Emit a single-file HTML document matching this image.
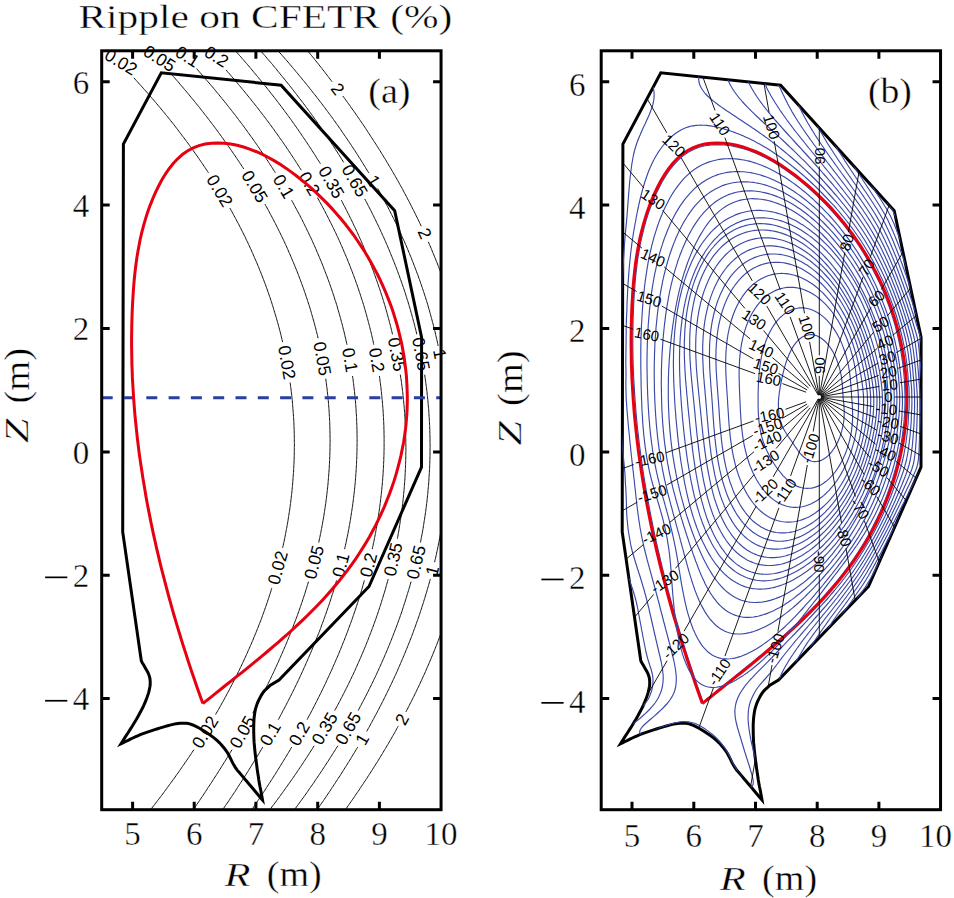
<!DOCTYPE html><html><head><meta charset="utf-8"><style>html,body{margin:0;padding:0;background:#fff;overflow:hidden}svg{display:block}</style></head><body><svg width="954" height="898" viewBox="0 0 954 898">
<rect width="954" height="898" fill="#fff"/>
<defs><clipPath id="ca"><rect x="101.7" y="50.8" width="339.35" height="758.9100000000001"/></clipPath><clipPath id="cb"><rect x="601.2" y="50.8" width="339.35" height="758.9100000000001"/></clipPath></defs>
<g clip-path="url(#ca)" fill="none" stroke="#111" stroke-width="1">
<path d="M96.9 40.0 L98.2 41.3 L99.6 42.6 L100.9 43.9 L102.2 45.2 L103.5 46.5 L104.9 47.8 M133.8 77.8 L135.0 79.1 L136.2 80.4 L137.4 81.7 L138.5 83.0 L139.7 84.3 L140.9 85.6 L142.1 86.9 L143.2 88.2 L144.4 89.5 L145.5 90.8 L146.7 92.1 L147.8 93.4 L149.0 94.7 L150.1 96.0 L151.2 97.3 L152.3 98.6 L153.5 99.9 L154.6 101.2 L155.7 102.5 L156.8 103.8 L157.9 105.1 L159.0 106.4 L160.1 107.7 L161.2 109.0 L162.2 110.3 L163.3 111.6 L164.4 112.9 L165.4 114.2 L166.5 115.5 L167.6 116.8 L168.6 118.1 L169.7 119.4 L170.7 120.7 L171.7 122.0 L172.8 123.3 L173.8 124.6 L174.8 125.9 L175.8 127.2 L176.8 128.5 L177.8 129.8 L178.8 131.2 L179.8 132.5 L180.8 133.8 L181.8 135.1 L182.8 136.4 L183.8 137.7 L184.8 139.0 L185.7 140.3 L186.7 141.6 L187.7 142.9 L188.6 144.2 L189.6 145.5 L190.5 146.8 L191.5 148.1 L192.4 149.4 L193.3 150.7 L194.2 152.0 L195.2 153.3 L196.1 154.6 L197.0 155.9 L197.9 157.2 L198.8 158.5 L199.7 159.8 L200.6 161.1 L201.5 162.4 L202.4 163.7 L203.3 165.0 L204.1 166.3 L205.0 167.6 L205.9 168.9 L206.8 170.2 L207.6 171.5 L208.5 172.8 M229.8 208.0 L230.6 209.3 L231.3 210.6 L232.0 211.9 L232.7 213.2 L233.4 214.5 L234.1 215.8 L234.8 217.1 L235.5 218.4 L236.2 219.7 L236.9 221.0 L237.6 222.3 L238.3 223.6 L239.0 224.9 L239.6 226.2 L240.3 227.5 L241.0 228.8 L241.6 230.1 L242.3 231.4 L242.9 232.7 L243.6 234.0 L244.2 235.3 L244.9 236.6 L245.5 237.9 L246.1 239.2 L246.7 240.5 L247.4 241.8 L248.0 243.1 L248.6 244.4 L249.2 245.7 L249.8 247.0 L250.4 248.3 L251.0 249.6 L251.6 251.0 L252.2 252.3 L252.8 253.6 L253.3 254.9 L253.9 256.2 L254.5 257.5 L255.0 258.8 L255.6 260.1 L256.2 261.4 L256.7 262.7 L257.3 264.0 L257.8 265.3 L258.4 266.6 L258.9 267.9 L259.4 269.2 L259.9 270.5 L260.5 271.8 L261.0 273.1 L261.5 274.4 L262.0 275.7 L262.5 277.0 L263.0 278.3 L263.5 279.6 L264.0 280.9 L264.5 282.2 L265.0 283.5 L265.5 284.8 L266.0 286.1 L266.4 287.4 L266.9 288.7 L267.4 290.0 L267.8 291.3 L268.3 292.6 L268.7 293.9 L269.2 295.2 L269.6 296.5 L270.1 297.8 L270.5 299.1 L270.9 300.4 L271.4 301.7 L271.8 303.0 L272.2 304.3 L272.6 305.6 L273.0 306.9 L273.4 308.2 L273.8 309.5 L274.2 310.9 L274.6 312.2 L275.0 313.5 L275.4 314.8 L275.8 316.1 L276.2 317.4 L276.6 318.7 L276.9 320.0 L277.3 321.3 L277.7 322.6 L278.0 323.9 L278.4 325.2 L278.7 326.5 L279.1 327.8 L279.4 329.1 L279.8 330.4 L280.1 331.7 L280.4 333.0 L280.8 334.3 L281.1 335.6 L281.4 336.9 L281.7 338.2 L282.0 339.5 L282.3 340.8 L282.6 342.1 M290.1 382.5 L290.3 383.8 L290.5 385.1 L290.6 386.4 L290.8 387.7 L291.0 389.0 L291.1 390.3 L291.3 391.6 L291.4 392.9 L291.6 394.2 L291.7 395.5 L291.9 396.8 L292.0 398.1 L292.1 399.4 L292.3 400.7 L292.4 402.0 L292.5 403.3 L292.6 404.6 L292.7 405.9 L292.8 407.2 L292.9 408.5 L293.0 409.8 L293.1 411.1 L293.2 412.4 L293.3 413.7 L293.4 415.0 L293.5 416.3 L293.6 417.6 L293.7 418.9 L293.7 420.2 L293.8 421.5 L293.9 422.8 L293.9 424.1 L294.0 425.4 L294.0 426.7 L294.1 428.0 L294.1 429.3 L294.2 430.7 L294.2 432.0 L294.2 433.3 L294.3 434.6 L294.3 435.9 L294.3 437.2 L294.3 438.5 L294.3 439.8 L294.3 441.1 L294.4 442.4 L294.4 443.7 L294.4 445.0 L294.4 446.3 L294.3 447.6 L294.3 448.9 L294.3 450.2 L294.3 451.5 L294.3 452.8 L294.3 454.1 L294.2 455.4 L294.2 456.7 L294.2 458.0 L294.1 459.3 L294.1 460.6 L294.0 461.9 L294.0 463.2 L293.9 464.5 L293.8 465.8 L293.8 467.1 L293.7 468.4 L293.6 469.7 L293.6 471.0 L293.5 472.3 L293.4 473.6 L293.3 474.9 L293.2 476.2 L293.1 477.5 L293.0 478.8 L292.9 480.1 L292.8 481.4 L292.7 482.7 L292.6 484.0 L292.5 485.3 L292.4 486.6 L292.3 487.9 L292.1 489.2 L292.0 490.6 L291.9 491.9 L291.7 493.2 L291.6 494.5 L291.4 495.8 L291.3 497.1 L291.1 498.4 L291.0 499.7 L290.8 501.0 L290.7 502.3 L290.5 503.6 L290.3 504.9 L290.2 506.2 L290.0 507.5 L289.8 508.8 L289.6 510.1 L289.4 511.4 L289.2 512.7 L289.0 514.0 L288.8 515.3 L288.6 516.6 L288.4 517.9 L288.2 519.2 L288.0 520.5 L287.8 521.8 L287.6 523.1 L287.3 524.4 L287.1 525.7 L286.9 527.0 L286.6 528.3 L286.4 529.6 L286.1 530.9 L285.9 532.2 L285.6 533.5 L285.4 534.8 L285.1 536.1 L284.9 537.4 L284.6 538.7 L284.3 540.0 L284.1 541.3 L283.8 542.6 L283.5 543.9 L283.2 545.2 L282.9 546.5 L282.6 547.8 M271.8 588.2 L271.4 589.5 L271.0 590.8 L270.6 592.1 L270.2 593.4 L269.8 594.7 L269.3 596.0 L268.9 597.3 L268.5 598.6 L268.0 599.9 L267.6 601.2 L267.2 602.5 L266.7 603.8 L266.3 605.1 L265.8 606.4 L265.4 607.7 L264.9 609.0 L264.4 610.4 L264.0 611.7 L263.5 613.0 L263.0 614.3 L262.5 615.6 L262.1 616.9 L261.6 618.2 L261.1 619.5 L260.6 620.8 L260.1 622.1 L259.6 623.4 L259.1 624.7 L258.6 626.0 L258.1 627.3 L257.6 628.6 L257.0 629.9 L256.5 631.2 L256.0 632.5 L255.5 633.8 L254.9 635.1 L254.4 636.4 L253.8 637.7 L253.3 639.0 L252.8 640.3 L252.2 641.6 L251.7 642.9 L251.1 644.2 L250.5 645.5 L250.0 646.8 L249.4 648.1 L248.8 649.4 L248.2 650.7 L247.7 652.0 L247.1 653.3 L246.5 654.6 L245.9 655.9 L245.3 657.2 L244.7 658.5 L244.1 659.8 L243.5 661.1 L242.9 662.4 L242.3 663.7 L241.7 665.0 L241.1 666.3 L240.4 667.6 L239.8 668.9 L239.2 670.3 L238.5 671.6 L237.9 672.9 L237.3 674.2 L236.6 675.5 L236.0 676.8 L235.3 678.1 L234.7 679.4 L234.0 680.7 L233.3 682.0 L232.7 683.3 L232.0 684.6 L231.3 685.9 L230.6 687.2 L230.0 688.5 L229.3 689.8 L228.6 691.1 L227.9 692.4 L227.2 693.7 L226.5 695.0 L225.8 696.3 L225.1 697.6 L224.4 698.9 L223.7 700.2 L223.0 701.5 L222.2 702.8 L221.5 704.1 L220.8 705.4 L220.1 706.7 L219.3 708.0 L218.6 709.3 L217.8 710.6 L217.1 711.9 L216.3 713.2 L215.6 714.5 M193.9 749.7 L193.0 751.0 L192.1 752.3 L191.3 753.6 L190.4 754.9 L189.5 756.2 L188.7 757.5 L187.8 758.8 L186.9 760.1 L186.0 761.4 L185.1 762.7 L184.2 764.0 L183.3 765.3 L182.4 766.6 L181.5 767.9 L180.6 769.2 L179.7 770.5 L178.8 771.8 L177.9 773.1 L176.9 774.4 L176.0 775.7 L175.1 777.0 L174.2 778.3 L173.2 779.6 L172.3 780.9 L171.3 782.2 L170.4 783.5 L169.4 784.8 L168.5 786.1 L167.5 787.4 L166.6 788.7 L165.6 790.1 L164.6 791.4 L163.6 792.7 L162.7 794.0 L161.7 795.3 L160.7 796.6 L159.7 797.9 L158.7 799.2 L157.7 800.5 L156.7 801.8 L155.7 803.1 L154.7 804.4 L153.7 805.7 L152.7 807.0 L151.6 808.3 L150.6 809.6 L149.6 810.9 L148.6 812.2 L147.5 813.5 L146.5 814.8 L145.4 816.1 L144.4 817.4 L143.3 818.7 L142.3 820.0"/>
<path d="M139.9 40.0 L141.2 41.3 L142.4 42.6 L143.7 43.9 M172.3 75.2 L173.4 76.5 L174.6 77.8 L175.7 79.1 L176.8 80.4 L178.0 81.7 L179.1 83.0 L180.2 84.3 L181.3 85.6 L182.4 86.9 L183.5 88.2 L184.6 89.5 L185.7 90.8 L186.8 92.1 L187.9 93.4 L189.0 94.7 L190.0 96.0 L191.1 97.3 L192.2 98.6 L193.3 99.9 L194.3 101.2 L195.4 102.5 L196.4 103.8 L197.5 105.1 L198.5 106.4 L199.6 107.7 L200.6 109.0 L201.6 110.3 L202.7 111.6 L203.7 112.9 L204.7 114.2 L205.7 115.5 L206.7 116.8 L207.7 118.1 L208.7 119.4 L209.7 120.7 L210.7 122.0 L211.7 123.3 L212.7 124.6 L213.7 125.9 L214.7 127.2 L215.6 128.5 L216.6 129.8 L217.6 131.2 L218.5 132.5 L219.5 133.8 L220.4 135.1 L221.4 136.4 L222.3 137.7 L223.3 139.0 L224.2 140.3 L225.1 141.6 L226.1 142.9 L227.0 144.2 L227.9 145.5 L228.8 146.8 L229.7 148.1 L230.6 149.4 L231.5 150.7 L232.4 152.0 L233.3 153.3 L234.2 154.6 L235.1 155.9 L236.0 157.2 L236.8 158.5 L237.7 159.8 L238.6 161.1 L239.5 162.4 L240.3 163.7 L241.2 165.0 L242.0 166.3 L242.9 167.6 L243.7 168.9 M264.9 204.1 L265.6 205.4 L266.4 206.7 L267.1 208.0 L267.8 209.3 L268.5 210.6 L269.2 211.9 L269.9 213.2 L270.6 214.5 L271.3 215.8 L272.0 217.1 L272.7 218.4 L273.3 219.7 L274.0 221.0 L274.7 222.3 L275.4 223.6 L276.0 224.9 L276.7 226.2 L277.3 227.5 L278.0 228.8 L278.6 230.1 L279.3 231.4 L279.9 232.7 L280.6 234.0 L281.2 235.3 L281.8 236.6 L282.4 237.9 L283.1 239.2 L283.7 240.5 L284.3 241.8 L284.9 243.1 L285.5 244.4 L286.1 245.7 L286.7 247.0 L287.3 248.3 L287.9 249.6 L288.4 251.0 L289.0 252.3 L289.6 253.6 L290.2 254.9 L290.7 256.2 L291.3 257.5 L291.8 258.8 L292.4 260.1 L292.9 261.4 L293.5 262.7 L294.0 264.0 L294.6 265.3 L295.1 266.6 L295.6 267.9 L296.2 269.2 L296.7 270.5 L297.2 271.8 L297.7 273.1 L298.2 274.4 L298.7 275.7 L299.2 277.0 L299.7 278.3 L300.2 279.6 L300.7 280.9 L301.2 282.2 L301.6 283.5 L302.1 284.8 L302.6 286.1 L303.1 287.4 L303.5 288.7 L304.0 290.0 L304.4 291.3 L304.9 292.6 L305.3 293.9 L305.8 295.2 L306.2 296.5 L306.6 297.8 L307.1 299.1 L307.5 300.4 L307.9 301.7 L308.3 303.0 L308.8 304.3 L309.2 305.6 L309.6 306.9 L310.0 308.2 L310.4 309.5 L310.8 310.9 L311.2 312.2 L311.5 313.5 L311.9 314.8 L312.3 316.1 L312.7 317.4 L313.0 318.7 L313.4 320.0 L313.8 321.3 L314.1 322.6 L314.5 323.9 L314.8 325.2 L315.2 326.5 L315.5 327.8 L315.9 329.1 L316.2 330.4 L316.5 331.7 L316.8 333.0 L317.2 334.3 L317.5 335.6 L317.8 336.9 L318.1 338.2 M325.7 378.6 L325.9 379.9 L326.1 381.2 L326.2 382.5 L326.4 383.8 L326.6 385.1 L326.7 386.4 L326.9 387.7 L327.1 389.0 L327.2 390.3 L327.3 391.6 L327.5 392.9 L327.6 394.2 L327.8 395.5 L327.9 396.8 L328.0 398.1 L328.1 399.4 L328.3 400.7 L328.4 402.0 L328.5 403.3 L328.6 404.6 L328.7 405.9 L328.8 407.2 L328.9 408.5 L329.0 409.8 L329.1 411.1 L329.2 412.4 L329.2 413.7 L329.3 415.0 L329.4 416.3 L329.5 417.6 L329.5 418.9 L329.6 420.2 L329.7 421.5 L329.7 422.8 L329.8 424.1 L329.8 425.4 L329.8 426.7 L329.9 428.0 L329.9 429.3 L329.9 430.7 L330.0 432.0 L330.0 433.3 L330.0 434.6 L330.0 435.9 L330.0 437.2 L330.1 438.5 L330.1 439.8 L330.1 441.1 L330.1 442.4 L330.0 443.7 L330.0 445.0 L330.0 446.3 L330.0 447.6 L330.0 448.9 L330.0 450.2 L329.9 451.5 L329.9 452.8 L329.9 454.1 L329.8 455.4 L329.8 456.7 L329.7 458.0 L329.7 459.3 L329.6 460.6 L329.5 461.9 L329.5 463.2 L329.4 464.5 L329.3 465.8 L329.3 467.1 L329.2 468.4 L329.1 469.7 L329.0 471.0 L328.9 472.3 L328.8 473.6 L328.7 474.9 L328.6 476.2 L328.5 477.5 L328.4 478.8 L328.3 480.1 L328.2 481.4 L328.1 482.7 L328.0 484.0 L327.8 485.3 L327.7 486.6 L327.6 487.9 L327.4 489.2 L327.3 490.6 L327.1 491.9 L327.0 493.2 L326.8 494.5 L326.7 495.8 L326.5 497.1 L326.4 498.4 L326.2 499.7 L326.0 501.0 L325.9 502.3 L325.7 503.6 L325.5 504.9 L325.3 506.2 L325.1 507.5 L324.9 508.8 L324.7 510.1 L324.5 511.4 L324.3 512.7 L324.1 514.0 L323.9 515.3 L323.7 516.6 L323.5 517.9 L323.3 519.2 L323.0 520.5 L322.8 521.8 L322.6 523.1 L322.3 524.4 L322.1 525.7 L321.9 527.0 L321.6 528.3 L321.4 529.6 L321.1 530.9 L320.9 532.2 L320.6 533.5 L320.3 534.8 L320.1 536.1 L319.8 537.4 L319.5 538.7 L319.2 540.0 L319.0 541.3 L318.7 542.6 M308.5 581.7 L308.1 583.0 L307.7 584.3 L307.3 585.6 L306.9 586.9 L306.5 588.2 L306.1 589.5 L305.7 590.8 L305.3 592.1 L304.9 593.4 L304.5 594.7 L304.0 596.0 L303.6 597.3 L303.2 598.6 L302.7 599.9 L302.3 601.2 L301.9 602.5 L301.4 603.8 L301.0 605.1 L300.5 606.4 L300.1 607.7 L299.6 609.0 L299.1 610.4 L298.7 611.7 L298.2 613.0 L297.7 614.3 L297.3 615.6 L296.8 616.9 L296.3 618.2 L295.8 619.5 L295.3 620.8 L294.8 622.1 L294.3 623.4 L293.8 624.7 L293.3 626.0 L292.8 627.3 L292.3 628.6 L291.8 629.9 L291.3 631.2 L290.8 632.5 L290.3 633.8 L289.8 635.1 L289.2 636.4 L288.7 637.7 L288.2 639.0 L287.6 640.3 L287.1 641.6 L286.6 642.9 L286.0 644.2 L285.5 645.5 L284.9 646.8 L284.4 648.1 L283.8 649.4 L283.2 650.7 L282.7 652.0 L282.1 653.3 L281.5 654.6 L281.0 655.9 L280.4 657.2 L279.8 658.5 L279.2 659.8 L278.7 661.1 L278.1 662.4 L277.5 663.7 L276.9 665.0 L276.3 666.3 L275.7 667.6 L275.1 668.9 L274.5 670.3 L273.9 671.6 L273.3 672.9 L272.6 674.2 L272.0 675.5 L271.4 676.8 L270.8 678.1 L270.2 679.4 L269.5 680.7 L268.9 682.0 L268.3 683.3 L267.6 684.6 L267.0 685.9 L266.3 687.2 L265.7 688.5 L265.0 689.8 L264.4 691.1 L263.7 692.4 L263.1 693.7 L262.4 695.0 L261.7 696.3 L261.1 697.6 L260.4 698.9 L259.7 700.2 L259.0 701.5 L258.4 702.8 L257.7 704.1 L257.0 705.4 L256.3 706.7 L255.6 708.0 L254.9 709.3 L254.2 710.6 L253.5 711.9 L252.8 713.2 M232.0 749.7 L231.2 751.0 L230.4 752.3 L229.6 753.6 L228.9 754.9 L228.1 756.2 L227.3 757.5 L226.5 758.8 L225.7 760.1 L224.9 761.4 L224.1 762.7 L223.2 764.0 L222.4 765.3 L221.6 766.6 L220.8 767.9 L220.0 769.2 L219.2 770.5 L218.3 771.8 L217.5 773.1 L216.7 774.4 L215.9 775.7 L215.0 777.0 L214.2 778.3 L213.3 779.6 L212.5 780.9 L211.7 782.2 L210.8 783.5 L210.0 784.8 L209.1 786.1 L208.2 787.4 L207.4 788.7 L206.5 790.1 L205.7 791.4 L204.8 792.7 L203.9 794.0 L203.1 795.3 L202.2 796.6 L201.3 797.9 L200.4 799.2 L199.6 800.5 L198.7 801.8 L197.8 803.1 L196.9 804.4 L196.0 805.7 L195.1 807.0 L194.2 808.3 L193.3 809.6 L192.4 810.9 L191.5 812.2 L190.6 813.5 L189.7 814.8 L188.8 816.1 L187.9 817.4 L187.0 818.7 L186.1 820.0"/>
<path d="M170.0 40.0 L171.3 41.3 L172.5 42.6 L173.8 43.9 L175.0 45.2 M196.6 68.6 L197.7 69.9 L198.9 71.3 L200.0 72.6 L201.2 73.9 L202.3 75.2 L203.5 76.5 L204.6 77.8 L205.7 79.1 L206.8 80.4 L207.9 81.7 L209.1 83.0 L210.2 84.3 L211.3 85.6 L212.4 86.9 L213.5 88.2 L214.6 89.5 L215.6 90.8 L216.7 92.1 L217.8 93.4 L218.9 94.7 L219.9 96.0 L221.0 97.3 L222.1 98.6 L223.1 99.9 L224.2 101.2 L225.2 102.5 L226.3 103.8 L227.3 105.1 L228.3 106.4 L229.4 107.7 L230.4 109.0 L231.4 110.3 L232.4 111.6 L233.4 112.9 L234.5 114.2 L235.5 115.5 L236.5 116.8 L237.4 118.1 L238.4 119.4 L239.4 120.7 L240.4 122.0 L241.4 123.3 L242.4 124.6 L243.3 125.9 L244.3 127.2 L245.3 128.5 L246.2 129.8 L247.2 131.2 L248.1 132.5 L249.1 133.8 L250.0 135.1 L250.9 136.4 L251.9 137.7 L252.8 139.0 L253.7 140.3 L254.6 141.6 L255.5 142.9 L256.5 144.2 L257.4 145.5 L258.3 146.8 L259.2 148.1 L260.0 149.4 L260.9 150.7 L261.8 152.0 L262.7 153.3 L263.6 154.6 L264.4 155.9 L265.3 157.2 L266.2 158.5 L267.0 159.8 L267.9 161.1 L268.7 162.4 L269.6 163.7 L270.4 165.0 L271.3 166.3 L272.1 167.6 L272.9 168.9 L273.7 170.2 L274.6 171.5 L275.4 172.8 M291.6 200.2 L292.3 201.5 L293.0 202.8 L293.7 204.1 L294.4 205.4 L295.1 206.7 L295.8 208.0 L296.5 209.3 L297.2 210.6 L297.9 211.9 L298.6 213.2 L299.3 214.5 L300.0 215.8 L300.6 217.1 L301.3 218.4 L302.0 219.7 L302.6 221.0 L303.3 222.3 L303.9 223.6 L304.6 224.9 L305.2 226.2 L305.9 227.5 L306.5 228.8 L307.1 230.1 L307.8 231.4 L308.4 232.7 L309.0 234.0 L309.6 235.3 L310.2 236.6 L310.9 237.9 L311.5 239.2 L312.1 240.5 L312.7 241.8 L313.2 243.1 L313.8 244.4 L314.4 245.7 L315.0 247.0 L315.6 248.3 L316.1 249.6 L316.7 251.0 L317.3 252.3 L317.8 253.6 L318.4 254.9 L318.9 256.2 L319.5 257.5 L320.0 258.8 L320.6 260.1 L321.1 261.4 L321.6 262.7 L322.2 264.0 L322.7 265.3 L323.2 266.6 L323.7 267.9 L324.2 269.2 L324.7 270.5 L325.2 271.8 L325.7 273.1 L326.2 274.4 L326.7 275.7 L327.2 277.0 L327.7 278.3 L328.1 279.6 L328.6 280.9 L329.1 282.2 L329.6 283.5 L330.0 284.8 L330.5 286.1 L330.9 287.4 L331.4 288.7 L331.8 290.0 L332.3 291.3 L332.7 292.6 L333.1 293.9 L333.6 295.2 L334.0 296.5 L334.4 297.8 L334.8 299.1 L335.2 300.4 L335.7 301.7 L336.1 303.0 L336.5 304.3 L336.9 305.6 L337.3 306.9 L337.6 308.2 L338.0 309.5 L338.4 310.9 L338.8 312.2 L339.2 313.5 L339.5 314.8 L339.9 316.1 L340.3 317.4 L340.6 318.7 L341.0 320.0 L341.3 321.3 L341.7 322.6 L342.0 323.9 L342.4 325.2 L342.7 326.5 L343.0 327.8 L343.3 329.1 L343.7 330.4 L344.0 331.7 L344.3 333.0 L344.6 334.3 L344.9 335.6 L345.2 336.9 L345.5 338.2 L345.8 339.5 L346.1 340.8 L346.4 342.1 L346.7 343.4 L347.0 344.7 M352.5 376.0 L352.7 377.3 L352.9 378.6 L353.1 379.9 L353.2 381.2 L353.4 382.5 L353.6 383.8 L353.7 385.1 L353.9 386.4 L354.0 387.7 L354.2 389.0 L354.3 390.3 L354.5 391.6 L354.6 392.9 L354.7 394.2 L354.9 395.5 L355.0 396.8 L355.1 398.1 L355.2 399.4 L355.4 400.7 L355.5 402.0 L355.6 403.3 L355.7 404.6 L355.8 405.9 L355.9 407.2 L356.0 408.5 L356.1 409.8 L356.1 411.1 L356.2 412.4 L356.3 413.7 L356.4 415.0 L356.5 416.3 L356.5 417.6 L356.6 418.9 L356.6 420.2 L356.7 421.5 L356.7 422.8 L356.8 424.1 L356.8 425.4 L356.9 426.7 L356.9 428.0 L357.0 429.3 L357.0 430.7 L357.0 432.0 L357.0 433.3 L357.0 434.6 L357.1 435.9 L357.1 437.2 L357.1 438.5 L357.1 439.8 L357.1 441.1 L357.1 442.4 L357.1 443.7 L357.1 445.0 L357.0 446.3 L357.0 447.6 L357.0 448.9 L357.0 450.2 L357.0 451.5 L356.9 452.8 L356.9 454.1 L356.8 455.4 L356.8 456.7 L356.8 458.0 L356.7 459.3 L356.6 460.6 L356.6 461.9 L356.5 463.2 L356.5 464.5 L356.4 465.8 L356.3 467.1 L356.2 468.4 L356.2 469.7 L356.1 471.0 L356.0 472.3 L355.9 473.6 L355.8 474.9 L355.7 476.2 L355.6 477.5 L355.5 478.8 L355.4 480.1 L355.3 481.4 L355.2 482.7 L355.1 484.0 L354.9 485.3 L354.8 486.6 L354.7 487.9 L354.5 489.2 L354.4 490.6 L354.3 491.9 L354.1 493.2 L354.0 494.5 L353.8 495.8 L353.7 497.1 L353.5 498.4 L353.3 499.7 L353.2 501.0 L353.0 502.3 L352.8 503.6 L352.7 504.9 L352.5 506.2 L352.3 507.5 L352.1 508.8 L351.9 510.1 L351.7 511.4 L351.5 512.7 L351.3 514.0 L351.1 515.3 L350.9 516.6 L350.7 517.9 L350.5 519.2 L350.3 520.5 L350.1 521.8 L349.8 523.1 L349.6 524.4 L349.4 525.7 L349.1 527.0 L348.9 528.3 L348.7 529.6 L348.4 530.9 L348.2 532.2 L347.9 533.5 L347.7 534.8 L347.4 536.1 L347.1 537.4 L346.9 538.7 L346.6 540.0 L346.3 541.3 L346.1 542.6 L345.8 543.9 L345.5 545.2 L345.2 546.5 L344.9 547.8 L344.6 549.1 M336.6 580.4 L336.2 581.7 L335.8 583.0 L335.4 584.3 L335.0 585.6 L334.7 586.9 L334.3 588.2 L333.9 589.5 L333.5 590.8 L333.1 592.1 L332.7 593.4 L332.2 594.7 L331.8 596.0 L331.4 597.3 L331.0 598.6 L330.6 599.9 L330.2 601.2 L329.7 602.5 L329.3 603.8 L328.9 605.1 L328.4 606.4 L328.0 607.7 L327.5 609.0 L327.1 610.4 L326.6 611.7 L326.2 613.0 L325.7 614.3 L325.2 615.6 L324.8 616.9 L324.3 618.2 L323.8 619.5 L323.4 620.8 L322.9 622.1 L322.4 623.4 L321.9 624.7 L321.4 626.0 L321.0 627.3 L320.5 628.6 L320.0 629.9 L319.5 631.2 L319.0 632.5 L318.5 633.8 L317.9 635.1 L317.4 636.4 L316.9 637.7 L316.4 639.0 L315.9 640.3 L315.3 641.6 L314.8 642.9 L314.3 644.2 L313.8 645.5 L313.2 646.8 L312.7 648.1 L312.1 649.4 L311.6 650.7 L311.0 652.0 L310.5 653.3 L309.9 654.6 L309.4 655.9 L308.8 657.2 L308.2 658.5 L307.7 659.8 L307.1 661.1 L306.5 662.4 L305.9 663.7 L305.4 665.0 L304.8 666.3 L304.2 667.6 L303.6 668.9 L303.0 670.3 L302.4 671.6 L301.8 672.9 L301.2 674.2 L300.6 675.5 L300.0 676.8 L299.4 678.1 L298.8 679.4 L298.2 680.7 L297.5 682.0 L296.9 683.3 L296.3 684.6 L295.7 685.9 L295.0 687.2 L294.4 688.5 L293.8 689.8 L293.1 691.1 L292.5 692.4 L291.8 693.7 L291.2 695.0 L290.5 696.3 L289.9 697.6 L289.2 698.9 L288.5 700.2 L287.9 701.5 L287.2 702.8 L286.5 704.1 L285.9 705.4 L285.2 706.7 L284.5 708.0 L283.8 709.3 L283.1 710.6 L282.4 711.9 L281.8 713.2 L281.1 714.5 L280.4 715.8 L279.7 717.1 L279.0 718.4 L278.2 719.7 M262.8 747.1 L262.0 748.4 L261.2 749.7 L260.4 751.0 L259.7 752.3 L258.9 753.6 L258.1 754.9 L257.3 756.2 L256.5 757.5 L255.7 758.8 L254.9 760.1 L254.1 761.4 L253.3 762.7 L252.5 764.0 L251.7 765.3 L250.9 766.6 L250.1 767.9 L249.3 769.2 L248.5 770.5 L247.7 771.8 L246.8 773.1 L246.0 774.4 L245.2 775.7 L244.4 777.0 L243.5 778.3 L242.7 779.6 L241.9 780.9 L241.0 782.2 L240.2 783.5 L239.3 784.8 L238.5 786.1 L237.6 787.4 L236.8 788.7 L235.9 790.1 L235.1 791.4 L234.2 792.7 L233.3 794.0 L232.5 795.3 L231.6 796.6 L230.7 797.9 L229.8 799.2 L229.0 800.5 L228.1 801.8 L227.2 803.1 L226.3 804.4 L225.4 805.7 L224.5 807.0 L223.6 808.3 L222.7 809.6 L221.8 810.9 L220.9 812.2 L220.0 813.5 L219.1 814.8 L218.2 816.1 L217.3 817.4 L216.4 818.7 L215.5 820.0"/>
<path d="M198.6 40.0 L199.9 41.3 L201.1 42.6 L202.3 43.9 L203.6 45.2 L204.8 46.5 M226.1 69.9 L227.2 71.3 L228.3 72.6 L229.5 73.9 L230.6 75.2 L231.7 76.5 L232.8 77.8 L234.0 79.1 L235.1 80.4 L236.2 81.7 L237.3 83.0 L238.4 84.3 L239.5 85.6 L240.6 86.9 L241.6 88.2 L242.7 89.5 L243.8 90.8 L244.9 92.1 L245.9 93.4 L247.0 94.7 L248.0 96.0 L249.1 97.3 L250.2 98.6 L251.2 99.9 L252.2 101.2 L253.3 102.5 L254.3 103.8 L255.3 105.1 L256.4 106.4 L257.4 107.7 L258.4 109.0 L259.4 110.3 L260.4 111.6 L261.4 112.9 L262.4 114.2 L263.4 115.5 L264.4 116.8 L265.4 118.1 L266.4 119.4 L267.3 120.7 L268.3 122.0 L269.3 123.3 L270.2 124.6 L271.2 125.9 L272.1 127.2 L273.1 128.5 L274.0 129.8 L275.0 131.2 L275.9 132.5 L276.9 133.8 L277.8 135.1 L278.7 136.4 L279.6 137.7 L280.5 139.0 L281.5 140.3 L282.4 141.6 L283.3 142.9 L284.2 144.2 L285.1 145.5 L286.0 146.8 L286.8 148.1 L287.7 149.4 L288.6 150.7 L289.5 152.0 L290.4 153.3 L291.2 154.6 L292.1 155.9 L292.9 157.2 L293.8 158.5 L294.6 159.8 L295.5 161.1 L296.3 162.4 L297.2 163.7 L298.0 165.0 L298.8 166.3 L299.6 167.6 L300.5 168.9 L301.3 170.2 M317.4 197.6 L318.2 198.9 L318.9 200.2 L319.6 201.5 L320.3 202.8 L321.0 204.1 L321.7 205.4 L322.4 206.7 L323.1 208.0 L323.8 209.3 L324.5 210.6 L325.2 211.9 L325.9 213.2 L326.5 214.5 L327.2 215.8 L327.9 217.1 L328.5 218.4 L329.2 219.7 L329.8 221.0 L330.5 222.3 L331.1 223.6 L331.8 224.9 L332.4 226.2 L333.1 227.5 L333.7 228.8 L334.3 230.1 L334.9 231.4 L335.6 232.7 L336.2 234.0 L336.8 235.3 L337.4 236.6 L338.0 237.9 L338.6 239.2 L339.2 240.5 L339.8 241.8 L340.3 243.1 L340.9 244.4 L341.5 245.7 L342.1 247.0 L342.6 248.3 L343.2 249.6 L343.8 251.0 L344.3 252.3 L344.9 253.6 L345.4 254.9 L346.0 256.2 L346.5 257.5 L347.1 258.8 L347.6 260.1 L348.1 261.4 L348.6 262.7 L349.2 264.0 L349.7 265.3 L350.2 266.6 L350.7 267.9 L351.2 269.2 L351.7 270.5 L352.2 271.8 L352.7 273.1 L353.2 274.4 L353.7 275.7 L354.2 277.0 L354.6 278.3 L355.1 279.6 L355.6 280.9 L356.0 282.2 L356.5 283.5 L357.0 284.8 L357.4 286.1 L357.9 287.4 L358.3 288.7 L358.8 290.0 L359.2 291.3 L359.6 292.6 L360.1 293.9 L360.5 295.2 L360.9 296.5 L361.3 297.8 L361.7 299.1 L362.2 300.4 L362.6 301.7 L363.0 303.0 L363.4 304.3 L363.8 305.6 L364.2 306.9 L364.5 308.2 L364.9 309.5 L365.3 310.9 L365.7 312.2 L366.1 313.5 L366.4 314.8 L366.8 316.1 L367.1 317.4 L367.5 318.7 L367.9 320.0 L368.2 321.3 L368.5 322.6 L368.9 323.9 L369.2 325.2 L369.6 326.5 L369.9 327.8 L370.2 329.1 L370.5 330.4 L370.9 331.7 L371.2 333.0 L371.5 334.3 L371.8 335.6 L372.1 336.9 L372.4 338.2 L372.7 339.5 L373.0 340.8 L373.3 342.1 L373.5 343.4 L373.8 344.7 M379.4 376.0 L379.6 377.3 L379.8 378.6 L379.9 379.9 L380.1 381.2 L380.3 382.5 L380.4 383.8 L380.6 385.1 L380.8 386.4 L380.9 387.7 L381.1 389.0 L381.2 390.3 L381.4 391.6 L381.5 392.9 L381.6 394.2 L381.8 395.5 L381.9 396.8 L382.0 398.1 L382.1 399.4 L382.3 400.7 L382.4 402.0 L382.5 403.3 L382.6 404.6 L382.7 405.9 L382.8 407.2 L382.9 408.5 L383.0 409.8 L383.1 411.1 L383.2 412.4 L383.2 413.7 L383.3 415.0 L383.4 416.3 L383.5 417.6 L383.5 418.9 L383.6 420.2 L383.7 421.5 L383.7 422.8 L383.8 424.1 L383.8 425.4 L383.9 426.7 L383.9 428.0 L383.9 429.3 L384.0 430.7 L384.0 432.0 L384.0 433.3 L384.0 434.6 L384.1 435.9 L384.1 437.2 L384.1 438.5 L384.1 439.8 L384.1 441.1 L384.1 442.4 L384.1 443.7 L384.1 445.0 L384.1 446.3 L384.1 447.6 L384.1 448.9 L384.0 450.2 L384.0 451.5 L384.0 452.8 L384.0 454.1 L383.9 455.4 L383.9 456.7 L383.8 458.0 L383.8 459.3 L383.8 460.6 L383.7 461.9 L383.6 463.2 L383.6 464.5 L383.5 465.8 L383.5 467.1 L383.4 468.4 L383.3 469.7 L383.2 471.0 L383.2 472.3 L383.1 473.6 L383.0 474.9 L382.9 476.2 L382.8 477.5 L382.7 478.8 L382.6 480.1 L382.5 481.4 L382.4 482.7 L382.3 484.0 L382.2 485.3 L382.0 486.6 L381.9 487.9 L381.8 489.2 L381.7 490.6 L381.5 491.9 L381.4 493.2 L381.2 494.5 L381.1 495.8 L380.9 497.1 L380.8 498.4 L380.6 499.7 L380.5 501.0 L380.3 502.3 L380.2 503.6 L380.0 504.9 L379.8 506.2 L379.6 507.5 L379.5 508.8 L379.3 510.1 L379.1 511.4 L378.9 512.7 L378.7 514.0 L378.5 515.3 L378.3 516.6 L378.1 517.9 L377.9 519.2 L377.7 520.5 L377.5 521.8 L377.3 523.1 L377.1 524.4 L376.8 525.7 L376.6 527.0 L376.4 528.3 L376.1 529.6 L375.9 530.9 L375.7 532.2 L375.4 533.5 L375.2 534.8 L374.9 536.1 L374.7 537.4 L374.4 538.7 L374.2 540.0 L373.9 541.3 L373.6 542.6 L373.3 543.9 L373.1 545.2 L372.8 546.5 L372.5 547.8 L372.2 549.1 M364.4 580.4 L364.0 581.7 L363.7 583.0 L363.3 584.3 L362.9 585.6 L362.5 586.9 L362.2 588.2 L361.8 589.5 L361.4 590.8 L361.0 592.1 L360.6 593.4 L360.2 594.7 L359.8 596.0 L359.4 597.3 L359.0 598.6 L358.6 599.9 L358.1 601.2 L357.7 602.5 L357.3 603.8 L356.9 605.1 L356.4 606.4 L356.0 607.7 L355.6 609.0 L355.1 610.4 L354.7 611.7 L354.2 613.0 L353.8 614.3 L353.3 615.6 L352.9 616.9 L352.4 618.2 L352.0 619.5 L351.5 620.8 L351.0 622.1 L350.6 623.4 L350.1 624.7 L349.6 626.0 L349.1 627.3 L348.6 628.6 L348.2 629.9 L347.7 631.2 L347.2 632.5 L346.7 633.8 L346.2 635.1 L345.7 636.4 L345.2 637.7 L344.7 639.0 L344.2 640.3 L343.6 641.6 L343.1 642.9 L342.6 644.2 L342.1 645.5 L341.5 646.8 L341.0 648.1 L340.5 649.4 L339.9 650.7 L339.4 652.0 L338.9 653.3 L338.3 654.6 L337.8 655.9 L337.2 657.2 L336.6 658.5 L336.1 659.8 L335.5 661.1 L335.0 662.4 L334.4 663.7 L333.8 665.0 L333.2 666.3 L332.7 667.6 L332.1 668.9 L331.5 670.3 L330.9 671.6 L330.3 672.9 L329.7 674.2 L329.1 675.5 L328.5 676.8 L327.9 678.1 L327.3 679.4 L326.7 680.7 L326.1 682.0 L325.5 683.3 L324.9 684.6 L324.3 685.9 L323.6 687.2 L323.0 688.5 L322.4 689.8 L321.7 691.1 L321.1 692.4 L320.5 693.7 L319.8 695.0 L319.2 696.3 L318.5 697.6 L317.9 698.9 L317.2 700.2 L316.6 701.5 L315.9 702.8 L315.2 704.1 L314.6 705.4 L313.9 706.7 L313.2 708.0 L312.6 709.3 L311.9 710.6 L311.2 711.9 L310.5 713.2 L309.8 714.5 L309.1 715.8 L308.4 717.1 L307.7 718.4 L307.1 719.7 M291.7 747.1 L290.9 748.4 L290.2 749.7 L289.4 751.0 L288.6 752.3 L287.8 753.6 L287.1 754.9 L286.3 756.2 L285.5 757.5 L284.7 758.8 L283.9 760.1 L283.1 761.4 L282.3 762.7 L281.5 764.0 L280.7 765.3 L279.9 766.6 L279.1 767.9 L278.3 769.2 L277.5 770.5 L276.7 771.8 L275.9 773.1 L275.1 774.4 L274.2 775.7 L273.4 777.0 L272.6 778.3 L271.7 779.6 L270.9 780.9 L270.1 782.2 L269.2 783.5 L268.4 784.8 L267.5 786.1 L266.7 787.4 L265.8 788.7 L265.0 790.1 L264.1 791.4 L263.3 792.7 L262.4 794.0 L261.5 795.3 L260.7 796.6 L259.8 797.9 L258.9 799.2 L258.0 800.5 L257.2 801.8 L256.3 803.1 L255.4 804.4 L254.5 805.7 L253.6 807.0 L252.7 808.3 L251.8 809.6 L250.9 810.9 L250.0 812.2 L249.1 813.5 L248.2 814.8 L247.3 816.1 L246.4 817.4 L245.5 818.7 L244.6 820.0"/>
<path d="M225.6 40.0 L226.8 41.3 L227.9 42.6 L229.1 43.9 L230.3 45.2 L231.5 46.5 L232.7 47.8 L233.9 49.1 L235.0 50.4 L236.2 51.7 L237.3 53.0 L238.5 54.3 L239.6 55.6 L240.8 56.9 L241.9 58.2 L243.1 59.5 L244.2 60.8 L245.3 62.1 L246.5 63.4 L247.6 64.7 L248.7 66.0 L249.8 67.3 L250.9 68.6 L252.0 69.9 L253.1 71.3 L254.2 72.6 L255.3 73.9 L256.4 75.2 L257.5 76.5 L258.5 77.8 L259.6 79.1 L260.7 80.4 L261.7 81.7 L262.8 83.0 L263.9 84.3 L264.9 85.6 L266.0 86.9 L267.0 88.2 L268.0 89.5 L269.1 90.8 L270.1 92.1 L271.1 93.4 L272.1 94.7 L273.2 96.0 L274.2 97.3 L275.2 98.6 L276.2 99.9 L277.2 101.2 L278.2 102.5 L279.2 103.8 L280.2 105.1 L281.2 106.4 L282.1 107.7 L283.1 109.0 L284.1 110.3 L285.0 111.6 L286.0 112.9 L287.0 114.2 L287.9 115.5 L288.9 116.8 L289.8 118.1 L290.8 119.4 L291.7 120.7 L292.6 122.0 L293.6 123.3 L294.5 124.6 L295.4 125.9 L296.3 127.2 L297.2 128.5 L298.2 129.8 L299.1 131.2 L300.0 132.5 L300.9 133.8 L301.7 135.1 L302.6 136.4 L303.5 137.7 L304.4 139.0 L305.3 140.3 L306.2 141.6 L307.0 142.9 L307.9 144.2 L308.7 145.5 L309.6 146.8 L310.5 148.1 L311.3 149.4 L312.1 150.7 L313.0 152.0 L313.8 153.3 L314.7 154.6 L315.5 155.9 L316.3 157.2 L317.1 158.5 L317.9 159.8 L318.8 161.1 L319.6 162.4 L320.4 163.7 M341.3 200.2 L342.0 201.5 L342.7 202.8 L343.3 204.1 L344.0 205.4 L344.7 206.7 L345.4 208.0 L346.0 209.3 L346.7 210.6 L347.3 211.9 L348.0 213.2 L348.7 214.5 L349.3 215.8 L349.9 217.1 L350.6 218.4 L351.2 219.7 L351.9 221.0 L352.5 222.3 L353.1 223.6 L353.7 224.9 L354.3 226.2 L355.0 227.5 L355.6 228.8 L356.2 230.1 L356.8 231.4 L357.4 232.7 L358.0 234.0 L358.6 235.3 L359.1 236.6 L359.7 237.9 L360.3 239.2 L360.9 240.5 L361.5 241.8 L362.0 243.1 L362.6 244.4 L363.1 245.7 L363.7 247.0 L364.2 248.3 L364.8 249.6 L365.3 251.0 L365.9 252.3 L366.4 253.6 L367.0 254.9 L367.5 256.2 L368.0 257.5 L368.5 258.8 L369.1 260.1 L369.6 261.4 L370.1 262.7 L370.6 264.0 L371.1 265.3 L371.6 266.6 L372.1 267.9 L372.6 269.2 L373.1 270.5 L373.6 271.8 L374.0 273.1 L374.5 274.4 L375.0 275.7 L375.5 277.0 L375.9 278.3 L376.4 279.6 L376.8 280.9 L377.3 282.2 L377.8 283.5 L378.2 284.8 L378.6 286.1 L379.1 287.4 L379.5 288.7 L380.0 290.0 L380.4 291.3 L380.8 292.6 L381.2 293.9 L381.7 295.2 L382.1 296.5 L382.5 297.8 L382.9 299.1 L383.3 300.4 L383.7 301.7 L384.1 303.0 L384.5 304.3 L384.9 305.6 L385.3 306.9 L385.6 308.2 L386.0 309.5 L386.4 310.9 L386.8 312.2 L387.1 313.5 L387.5 314.8 L387.9 316.1 L388.2 317.4 L388.6 318.7 L388.9 320.0 L389.3 321.3 L389.6 322.6 L389.9 323.9 L390.3 325.2 L390.6 326.5 L390.9 327.8 L391.3 329.1 L391.6 330.4 L391.9 331.7 L392.2 333.0 L392.5 334.3 M400.3 374.7 L400.5 376.0 L400.7 377.3 L400.9 378.6 L401.1 379.9 L401.3 381.2 L401.5 382.5 L401.6 383.8 L401.8 385.1 L402.0 386.4 L402.1 387.7 L402.3 389.0 L402.5 390.3 L402.6 391.6 L402.8 392.9 L402.9 394.2 L403.0 395.5 L403.2 396.8 L403.3 398.1 L403.5 399.4 L403.6 400.7 L403.7 402.0 L403.8 403.3 L403.9 404.6 L404.1 405.9 L404.2 407.2 L404.3 408.5 L404.4 409.8 L404.5 411.1 L404.6 412.4 L404.7 413.7 L404.8 415.0 L404.8 416.3 L404.9 417.6 L405.0 418.9 L405.1 420.2 L405.2 421.5 L405.2 422.8 L405.3 424.1 L405.4 425.4 L405.4 426.7 L405.5 428.0 L405.5 429.3 L405.6 430.7 L405.6 432.0 L405.6 433.3 L405.7 434.6 L405.7 435.9 L405.7 437.2 L405.8 438.5 L405.8 439.8 L405.8 441.1 L405.8 442.4 L405.8 443.7 L405.9 445.0 L405.9 446.3 L405.9 447.6 L405.9 448.9 L405.9 450.2 L405.9 451.5 L405.8 452.8 L405.8 454.1 L405.8 455.4 L405.8 456.7 L405.8 458.0 L405.7 459.3 L405.7 460.6 L405.7 461.9 L405.6 463.2 L405.6 464.5 L405.5 465.8 L405.5 467.1 L405.4 468.4 L405.4 469.7 L405.3 471.0 L405.2 472.3 L405.2 473.6 L405.1 474.9 L405.0 476.2 L405.0 477.5 L404.9 478.8 L404.8 480.1 L404.7 481.4 L404.6 482.7 L404.5 484.0 L404.4 485.3 L404.3 486.6 L404.2 487.9 L404.1 489.2 L404.0 490.6 L403.9 491.9 L403.7 493.2 L403.6 494.5 L403.5 495.8 L403.4 497.1 L403.2 498.4 L403.1 499.7 L403.0 501.0 L402.8 502.3 L402.7 503.6 L402.5 504.9 L402.4 506.2 L402.2 507.5 L402.0 508.8 L401.9 510.1 L401.7 511.4 L401.5 512.7 L401.4 514.0 L401.2 515.3 L401.0 516.6 L400.8 517.9 L400.6 519.2 L400.4 520.5 L400.2 521.8 L400.0 523.1 L399.8 524.4 L399.6 525.7 L399.4 527.0 L399.2 528.3 L399.0 529.6 L398.8 530.9 L398.5 532.2 L398.3 533.5 L398.1 534.8 L397.9 536.1 L397.6 537.4 L397.4 538.7 M388.2 579.1 L387.8 580.4 L387.5 581.7 L387.1 583.0 L386.7 584.3 L386.4 585.6 L386.0 586.9 L385.6 588.2 L385.3 589.5 L384.9 590.8 L384.5 592.1 L384.1 593.4 L383.7 594.7 L383.3 596.0 L382.9 597.3 L382.5 598.6 L382.1 599.9 L381.7 601.2 L381.3 602.5 L380.9 603.8 L380.5 605.1 L380.0 606.4 L379.6 607.7 L379.2 609.0 L378.7 610.4 L378.3 611.7 L377.9 613.0 L377.4 614.3 L377.0 615.6 L376.5 616.9 L376.1 618.2 L375.6 619.5 L375.2 620.8 L374.7 622.1 L374.2 623.4 L373.7 624.7 L373.3 626.0 L372.8 627.3 L372.3 628.6 L371.8 629.9 L371.3 631.2 L370.8 632.5 L370.3 633.8 L369.8 635.1 L369.3 636.4 L368.8 637.7 L368.3 639.0 L367.8 640.3 L367.3 641.6 L366.8 642.9 L366.2 644.2 L365.7 645.5 L365.2 646.8 L364.6 648.1 L364.1 649.4 L363.6 650.7 L363.0 652.0 L362.5 653.3 L361.9 654.6 L361.3 655.9 L360.8 657.2 L360.2 658.5 L359.7 659.8 L359.1 661.1 L358.5 662.4 L357.9 663.7 L357.3 665.0 L356.8 666.3 L356.2 667.6 L355.6 668.9 L355.0 670.3 L354.4 671.6 L353.8 672.9 L353.2 674.2 L352.6 675.5 L351.9 676.8 L351.3 678.1 L350.7 679.4 L350.1 680.7 L349.4 682.0 L348.8 683.3 L348.2 684.6 L347.5 685.9 L346.9 687.2 L346.2 688.5 L345.6 689.8 L344.9 691.1 L344.3 692.4 L343.6 693.7 L342.9 695.0 L342.3 696.3 L341.6 697.6 L340.9 698.9 L340.3 700.2 L339.6 701.5 L338.9 702.8 L338.2 704.1 L337.5 705.4 L336.8 706.7 L336.1 708.0 L335.4 709.3 L334.7 710.6 M314.1 745.8 L313.3 747.1 L312.5 748.4 L311.7 749.7 L310.9 751.0 L310.0 752.3 L309.2 753.6 L308.4 754.9 L307.5 756.2 L306.7 757.5 L305.8 758.8 L305.0 760.1 L304.1 761.4 L303.3 762.7 L302.4 764.0 L301.5 765.3 L300.7 766.6 L299.8 767.9 L298.9 769.2 L298.0 770.5 L297.2 771.8 L296.3 773.1 L295.4 774.4 L294.5 775.7 L293.6 777.0 L292.7 778.3 L291.8 779.6 L290.9 780.9 L289.9 782.2 L289.0 783.5 L288.1 784.8 L287.2 786.1 L286.2 787.4 L285.3 788.7 L284.4 790.1 L283.4 791.4 L282.5 792.7 L281.5 794.0 L280.6 795.3 L279.6 796.6 L278.7 797.9 L277.7 799.2 L276.7 800.5 L275.8 801.8 L274.8 803.1 L273.8 804.4 L272.8 805.7 L271.8 807.0 L270.8 808.3 L269.8 809.6 L268.8 810.9 L267.8 812.2 L266.8 813.5 L265.8 814.8 L264.8 816.1 L263.8 817.4 L262.8 818.7 L261.7 820.0"/>
<path d="M251.0 40.0 L252.2 41.3 L253.3 42.6 L254.5 43.9 L255.6 45.2 L256.8 46.5 L258.0 47.8 L259.1 49.1 L260.2 50.4 L261.4 51.7 L262.5 53.0 L263.7 54.3 L264.8 55.6 L265.9 56.9 L267.0 58.2 L268.1 59.5 L269.2 60.8 L270.4 62.1 L271.5 63.4 L272.6 64.7 L273.6 66.0 L274.7 67.3 L275.8 68.6 L276.9 69.9 L278.0 71.3 L279.1 72.6 L280.1 73.9 L281.2 75.2 L282.3 76.5 L283.3 77.8 L284.4 79.1 L285.4 80.4 L286.5 81.7 L287.5 83.0 L288.6 84.3 L289.6 85.6 L290.6 86.9 L291.7 88.2 L292.7 89.5 L293.7 90.8 L294.7 92.1 L295.7 93.4 L296.7 94.7 L297.7 96.0 L298.7 97.3 L299.7 98.6 L300.7 99.9 L301.7 101.2 L302.7 102.5 L303.7 103.8 L304.7 105.1 L305.6 106.4 L306.6 107.7 L307.6 109.0 L308.5 110.3 L309.5 111.6 L310.4 112.9 L311.4 114.2 L312.3 115.5 L313.3 116.8 L314.2 118.1 L315.1 119.4 L316.1 120.7 L317.0 122.0 L317.9 123.3 L318.8 124.6 L319.7 125.9 L320.6 127.2 L321.5 128.5 L322.5 129.8 L323.3 131.2 L324.2 132.5 L325.1 133.8 L326.0 135.1 L326.9 136.4 L327.8 137.7 L328.7 139.0 L329.5 140.3 L330.4 141.6 L331.3 142.9 L332.1 144.2 L333.0 145.5 L333.8 146.8 L334.7 148.1 L335.5 149.4 L336.3 150.7 L337.2 152.0 L338.0 153.3 L338.8 154.6 L339.7 155.9 L340.5 157.2 L341.3 158.5 L342.1 159.8 L342.9 161.1 L343.7 162.4 M364.7 198.9 L365.4 200.2 L366.1 201.5 L366.8 202.8 L367.5 204.1 L368.1 205.4 L368.8 206.7 L369.5 208.0 L370.2 209.3 L370.8 210.6 L371.5 211.9 L372.1 213.2 L372.8 214.5 L373.4 215.8 L374.1 217.1 L374.7 218.4 L375.4 219.7 L376.0 221.0 L376.6 222.3 L377.2 223.6 L377.9 224.9 L378.5 226.2 L379.1 227.5 L379.7 228.8 L380.3 230.1 L380.9 231.4 L381.5 232.7 L382.1 234.0 L382.7 235.3 L383.3 236.6 L383.9 237.9 L384.5 239.2 L385.0 240.5 L385.6 241.8 L386.2 243.1 L386.7 244.4 L387.3 245.7 L387.9 247.0 L388.4 248.3 L389.0 249.6 L389.5 251.0 L390.1 252.3 L390.6 253.6 L391.1 254.9 L391.7 256.2 L392.2 257.5 L392.7 258.8 L393.2 260.1 L393.8 261.4 L394.3 262.7 L394.8 264.0 L395.3 265.3 L395.8 266.6 L396.3 267.9 L396.8 269.2 L397.3 270.5 L397.8 271.8 L398.2 273.1 L398.7 274.4 L399.2 275.7 L399.7 277.0 L400.1 278.3 L400.6 279.6 L401.1 280.9 L401.5 282.2 L402.0 283.5 L402.4 284.8 L402.9 286.1 L403.3 287.4 L403.8 288.7 L404.2 290.0 L404.6 291.3 L405.1 292.6 L405.5 293.9 L405.9 295.2 L406.3 296.5 L406.7 297.8 L407.1 299.1 L407.5 300.4 L408.0 301.7 L408.3 303.0 L408.7 304.3 L409.1 305.6 L409.5 306.9 L409.9 308.2 L410.3 309.5 L410.7 310.9 L411.0 312.2 L411.4 313.5 L411.8 314.8 L412.1 316.1 L412.5 317.4 L412.8 318.7 L413.2 320.0 L413.5 321.3 L413.9 322.6 L414.2 323.9 L414.6 325.2 L414.9 326.5 L415.2 327.8 L415.6 329.1 L415.9 330.4 L416.2 331.7 L416.5 333.0 L416.8 334.3 M424.7 374.7 L424.9 376.0 L425.0 377.3 L425.2 378.6 L425.4 379.9 L425.6 381.2 L425.8 382.5 L425.9 383.8 L426.1 385.1 L426.3 386.4 L426.4 387.7 L426.6 389.0 L426.8 390.3 L426.9 391.6 L427.1 392.9 L427.2 394.2 L427.3 395.5 L427.5 396.8 L427.6 398.1 L427.8 399.4 L427.9 400.7 L428.0 402.0 L428.1 403.3 L428.2 404.6 L428.3 405.9 L428.5 407.2 L428.6 408.5 L428.7 409.8 L428.8 411.1 L428.9 412.4 L428.9 413.7 L429.0 415.0 L429.1 416.3 L429.2 417.6 L429.3 418.9 L429.3 420.2 L429.4 421.5 L429.5 422.8 L429.5 424.1 L429.6 425.4 L429.7 426.7 L429.7 428.0 L429.8 429.3 L429.8 430.7 L429.8 432.0 L429.9 433.3 L429.9 434.6 L429.9 435.9 L430.0 437.2 L430.0 438.5 L430.0 439.8 L430.0 441.1 L430.0 442.4 L430.1 443.7 L430.1 445.0 L430.1 446.3 L430.1 447.6 L430.1 448.9 L430.0 450.2 L430.0 451.5 L430.0 452.8 L430.0 454.1 L430.0 455.4 L430.0 456.7 L429.9 458.0 L429.9 459.3 L429.9 460.6 L429.8 461.9 L429.8 463.2 L429.7 464.5 L429.7 465.8 L429.6 467.1 L429.6 468.4 L429.5 469.7 L429.4 471.0 L429.4 472.3 L429.3 473.6 L429.2 474.9 L429.1 476.2 L429.0 477.5 L429.0 478.8 L428.9 480.1 L428.8 481.4 L428.7 482.7 L428.6 484.0 L428.5 485.3 L428.4 486.6 L428.3 487.9 L428.1 489.2 L428.0 490.6 L427.9 491.9 L427.8 493.2 L427.7 494.5 L427.5 495.8 L427.4 497.1 L427.2 498.4 L427.1 499.7 L427.0 501.0 L426.8 502.3 L426.7 503.6 L426.5 504.9 L426.3 506.2 L426.2 507.5 L426.0 508.8 L425.8 510.1 L425.7 511.4 L425.5 512.7 L425.3 514.0 L425.1 515.3 L424.9 516.6 L424.7 517.9 L424.5 519.2 L424.3 520.5 L424.1 521.8 L423.9 523.1 L423.7 524.4 L423.5 525.7 L423.3 527.0 L423.1 528.3 L422.9 529.6 L422.6 530.9 L422.4 532.2 L422.2 533.5 L421.9 534.8 L421.7 536.1 L421.4 537.4 L421.2 538.7 L420.9 540.0 L420.7 541.3 L420.4 542.6 M411.1 581.7 L410.7 583.0 L410.3 584.3 L410.0 585.6 L409.6 586.9 L409.2 588.2 L408.8 589.5 L408.4 590.8 L408.0 592.1 L407.6 593.4 L407.2 594.7 L406.8 596.0 L406.4 597.3 L406.0 598.6 L405.6 599.9 L405.2 601.2 L404.8 602.5 L404.4 603.8 L403.9 605.1 L403.5 606.4 L403.1 607.7 L402.7 609.0 L402.2 610.4 L401.8 611.7 L401.3 613.0 L400.9 614.3 L400.4 615.6 L400.0 616.9 L399.5 618.2 L399.0 619.5 L398.6 620.8 L398.1 622.1 L397.6 623.4 L397.2 624.7 L396.7 626.0 L396.2 627.3 L395.7 628.6 L395.2 629.9 L394.7 631.2 L394.2 632.5 L393.7 633.8 L393.2 635.1 L392.7 636.4 L392.2 637.7 L391.7 639.0 L391.2 640.3 L390.6 641.6 L390.1 642.9 L389.6 644.2 L389.1 645.5 L388.5 646.8 L388.0 648.1 L387.4 649.4 L386.9 650.7 L386.4 652.0 L385.8 653.3 L385.2 654.6 L384.7 655.9 L384.1 657.2 L383.6 658.5 L383.0 659.8 L382.4 661.1 L381.8 662.4 L381.3 663.7 L380.7 665.0 L380.1 666.3 L379.5 667.6 L378.9 668.9 L378.3 670.3 L377.7 671.6 L377.1 672.9 L376.5 674.2 L375.9 675.5 L375.3 676.8 L374.6 678.1 L374.0 679.4 L373.4 680.7 L372.8 682.0 L372.1 683.3 L371.5 684.6 L370.9 685.9 L370.2 687.2 L369.6 688.5 L368.9 689.8 L368.3 691.1 L367.6 692.4 L367.0 693.7 L366.3 695.0 L365.6 696.3 L365.0 697.6 L364.3 698.9 L363.6 700.2 L362.9 701.5 L362.2 702.8 L361.6 704.1 L360.9 705.4 L360.2 706.7 L359.5 708.0 L358.8 709.3 L358.1 710.6 M337.8 745.8 L337.0 747.1 L336.2 748.4 L335.4 749.7 L334.5 751.0 L333.7 752.3 L332.9 753.6 L332.1 754.9 L331.3 756.2 L330.4 757.5 L329.6 758.8 L328.8 760.1 L327.9 761.4 L327.1 762.7 L326.2 764.0 L325.4 765.3 L324.5 766.6 L323.7 767.9 L322.8 769.2 L322.0 770.5 L321.1 771.8 L320.2 773.1 L319.4 774.4 L318.5 775.7 L317.6 777.0 L316.7 778.3 L315.8 779.6 L314.9 780.9 L314.1 782.2 L313.2 783.5 L312.3 784.8 L311.4 786.1 L310.5 787.4 L309.5 788.7 L308.6 790.1 L307.7 791.4 L306.8 792.7 L305.9 794.0 L304.9 795.3 L304.0 796.6 L303.1 797.9 L302.1 799.2 L301.2 800.5 L300.2 801.8 L299.3 803.1 L298.3 804.4 L297.4 805.7 L296.4 807.0 L295.5 808.3 L294.5 809.6 L293.5 810.9 L292.6 812.2 L291.6 813.5 L290.6 814.8 L289.6 816.1 L288.6 817.4 L287.7 818.7 L286.7 820.0"/>
<path d="M268.3 40.0 L269.5 41.3 L270.7 42.6 L271.8 43.9 L273.0 45.2 L274.2 46.5 L275.4 47.8 L276.5 49.1 L277.7 50.4 L278.9 51.7 L280.0 53.0 L281.2 54.3 L282.3 55.6 L283.5 56.9 L284.6 58.2 L285.7 59.5 L286.9 60.8 L288.0 62.1 L289.1 63.4 L290.2 64.7 L291.3 66.0 L292.4 67.3 L293.5 68.6 L294.6 69.9 L295.7 71.3 L296.8 72.6 L297.9 73.9 L299.0 75.2 L300.1 76.5 L301.2 77.8 L302.2 79.1 L303.3 80.4 L304.4 81.7 L305.4 83.0 L306.5 84.3 L307.5 85.6 L308.6 86.9 L309.6 88.2 L310.6 89.5 L311.7 90.8 L312.7 92.1 L313.7 93.4 L314.8 94.7 L315.8 96.0 L316.8 97.3 L317.8 98.6 L318.8 99.9 L319.8 101.2 L320.8 102.5 L321.8 103.8 L322.8 105.1 L323.8 106.4 L324.8 107.7 L325.7 109.0 L326.7 110.3 L327.7 111.6 L328.6 112.9 L329.6 114.2 L330.6 115.5 L331.5 116.8 L332.5 118.1 L333.4 119.4 L334.3 120.7 L335.3 122.0 L336.2 123.3 L337.1 124.6 L338.1 125.9 L339.0 127.2 L339.9 128.5 L340.8 129.8 L341.7 131.2 L342.6 132.5 L343.5 133.8 L344.4 135.1 L345.3 136.4 L346.2 137.7 L347.1 139.0 L348.0 140.3 L348.8 141.6 L349.7 142.9 L350.6 144.2 L351.5 145.5 L352.3 146.8 L353.2 148.1 L354.0 149.4 L354.9 150.7 L355.7 152.0 L356.6 153.3 L357.4 154.6 L358.2 155.9 L359.0 157.2 L359.9 158.5 L360.7 159.8 L361.5 161.1 L362.3 162.4 L363.1 163.7 L363.9 165.0 L364.7 166.3 L365.5 167.6 L366.3 168.9 L367.1 170.2 L367.9 171.5 L368.7 172.8 M377.7 188.4 L378.5 189.7 L379.2 191.1 L379.9 192.4 L380.6 193.7 L381.3 195.0 L382.1 196.3 L382.8 197.6 L383.5 198.9 L384.2 200.2 L384.9 201.5 L385.5 202.8 L386.2 204.1 L386.9 205.4 L387.6 206.7 L388.3 208.0 L388.9 209.3 L389.6 210.6 L390.3 211.9 L390.9 213.2 L391.6 214.5 L392.2 215.8 L392.9 217.1 L393.5 218.4 L394.2 219.7 L394.8 221.0 L395.4 222.3 L396.1 223.6 L396.7 224.9 L397.3 226.2 L397.9 227.5 L398.5 228.8 L399.1 230.1 L399.8 231.4 L400.4 232.7 L401.0 234.0 L401.5 235.3 L402.1 236.6 L402.7 237.9 L403.3 239.2 L403.9 240.5 L404.5 241.8 L405.0 243.1 L405.6 244.4 L406.2 245.7 L406.7 247.0 L407.3 248.3 L407.8 249.6 L408.4 251.0 L408.9 252.3 L409.5 253.6 L410.0 254.9 L410.5 256.2 L411.1 257.5 L411.6 258.8 L412.1 260.1 L412.6 261.4 L413.1 262.7 L413.6 264.0 L414.1 265.3 L414.6 266.6 L415.1 267.9 L415.6 269.2 L416.1 270.5 L416.6 271.8 L417.1 273.1 L417.6 274.4 L418.1 275.7 L418.5 277.0 L419.0 278.3 L419.5 279.6 L419.9 280.9 L420.4 282.2 L420.8 283.5 L421.3 284.8 L421.7 286.1 L422.2 287.4 L422.6 288.7 L423.0 290.0 L423.5 291.3 L423.9 292.6 L424.3 293.9 L424.7 295.2 L425.2 296.5 L425.6 297.8 L426.0 299.1 L426.4 300.4 L426.8 301.7 L427.2 303.0 L427.6 304.3 L428.0 305.6 L428.3 306.9 L428.7 308.2 L429.1 309.5 L429.5 310.9 L429.8 312.2 L430.2 313.5 L430.6 314.8 L430.9 316.1 L431.3 317.4 L431.6 318.7 L432.0 320.0 L432.3 321.3 L432.7 322.6 L433.0 323.9 L433.4 325.2 L433.7 326.5 L434.0 327.8 L434.3 329.1 L434.7 330.4 L435.0 331.7 L435.3 333.0 L435.6 334.3 L435.9 335.6 L436.2 336.9 L436.5 338.2 L436.8 339.5 L437.1 340.8 L437.4 342.1 L437.6 343.4 L437.9 344.7 L438.2 346.0 M441.4 362.9 L441.7 364.2 L441.9 365.5 L442.1 366.8 L442.3 368.1 L442.5 369.4 L442.7 370.8 L442.9 372.1 L443.1 373.4 L443.3 374.7 L443.5 376.0 L443.7 377.3 L443.9 378.6 L444.1 379.9 L444.2 381.2 L444.4 382.5 L444.6 383.8 L444.7 385.1 L444.9 386.4 L445.1 387.7 L445.2 389.0 L445.4 390.3 L445.5 391.6 L445.7 392.9 L445.8 394.2 L445.9 395.5 L446.1 396.8 L446.2 398.1 L446.3 399.4 L446.5 400.7 L446.6 402.0 L446.7 403.3 L446.8 404.6 L446.9 405.9 L447.0 407.2 L447.1 408.5 L447.2 409.8 L447.3 411.1 L447.4 412.4 L447.5 413.7 L447.6 415.0 L447.7 416.3 L447.7 417.6 L447.8 418.9 L447.9 420.2 L447.9 421.5 L448.0 422.8 L448.1 424.1 L448.1 425.4 L448.2 426.7 L448.2 428.0 L448.3 429.3 L448.3 430.7 L448.3 432.0 L448.4 433.3 L448.4 434.6 L448.4 435.9 L448.5 437.2 L448.5 438.5 L448.5 439.8 L448.5 441.1 L448.5 442.4 L448.5 443.7 L448.5 445.0 L448.5 446.3 L448.5 447.6 L448.5 448.9 L448.5 450.2 L448.5 451.5 L448.5 452.8 L448.4 454.1 L448.4 455.4 L448.4 456.7 L448.4 458.0 L448.3 459.3 L448.3 460.6 L448.2 461.9 L448.2 463.2 L448.1 464.5 L448.1 465.8 L448.0 467.1 L448.0 468.4 L447.9 469.7 L447.8 471.0 L447.8 472.3 L447.7 473.6 L447.6 474.9 L447.5 476.2 L447.4 477.5 L447.4 478.8 L447.3 480.1 L447.2 481.4 L447.1 482.7 L447.0 484.0 L446.9 485.3 L446.8 486.6 L446.6 487.9 L446.5 489.2 L446.4 490.6 L446.3 491.9 L446.2 493.2 L446.0 494.5 L445.9 495.8 L445.8 497.1 L445.6 498.4 L445.5 499.7 L445.3 501.0 L445.2 502.3 L445.0 503.6 L444.9 504.9 L444.7 506.2 L444.5 507.5 L444.4 508.8 L444.2 510.1 L444.0 511.4 L443.8 512.7 L443.7 514.0 L443.5 515.3 L443.3 516.6 L443.1 517.9 L442.9 519.2 L442.7 520.5 L442.5 521.8 L442.3 523.1 L442.1 524.4 L441.9 525.7 L441.7 527.0 L441.4 528.3 L441.2 529.6 L441.0 530.9 L440.8 532.2 L440.5 533.5 L440.3 534.8 L440.1 536.1 L439.8 537.4 L439.6 538.7 L439.3 540.0 L439.1 541.3 L438.8 542.6 L438.5 543.9 L438.3 545.2 L438.0 546.5 L437.8 547.8 L437.5 549.1 L437.2 550.5 L436.9 551.8 L436.6 553.1 L436.4 554.4 L436.1 555.7 L435.8 557.0 L435.5 558.3 L435.2 559.6 L434.9 560.9 L434.6 562.2 M430.3 579.1 L429.9 580.4 L429.6 581.7 L429.2 583.0 L428.8 584.3 L428.5 585.6 L428.1 586.9 L427.7 588.2 L427.3 589.5 L427.0 590.8 L426.6 592.1 L426.2 593.4 L425.8 594.7 L425.4 596.0 L425.0 597.3 L424.6 598.6 L424.2 599.9 L423.8 601.2 L423.4 602.5 L423.0 603.8 L422.6 605.1 L422.1 606.4 L421.7 607.7 L421.3 609.0 L420.9 610.4 L420.4 611.7 L420.0 613.0 L419.6 614.3 L419.1 615.6 L418.7 616.9 L418.2 618.2 L417.8 619.5 L417.3 620.8 L416.8 622.1 L416.4 623.4 L415.9 624.7 L415.5 626.0 L415.0 627.3 L414.5 628.6 L414.0 629.9 L413.5 631.2 L413.1 632.5 L412.6 633.8 L412.1 635.1 L411.6 636.4 L411.1 637.7 L410.6 639.0 L410.1 640.3 L409.6 641.6 L409.1 642.9 L408.5 644.2 L408.0 645.5 L407.5 646.8 L407.0 648.1 L406.4 649.4 L405.9 650.7 L405.4 652.0 L404.8 653.3 L404.3 654.6 L403.8 655.9 L403.2 657.2 L402.7 658.5 L402.1 659.8 L401.5 661.1 L401.0 662.4 L400.4 663.7 L399.9 665.0 L399.3 666.3 L398.7 667.6 L398.1 668.9 L397.6 670.3 L397.0 671.6 L396.4 672.9 L395.8 674.2 L395.2 675.5 L394.6 676.8 L394.0 678.1 L393.4 679.4 L392.8 680.7 L392.2 682.0 L391.6 683.3 L391.0 684.6 L390.3 685.9 L389.7 687.2 L389.1 688.5 L388.5 689.8 L387.8 691.1 L387.2 692.4 L386.6 693.7 L385.9 695.0 L385.3 696.3 L384.6 697.6 L384.0 698.9 L383.3 700.2 L382.7 701.5 L382.0 702.8 L381.3 704.1 L380.7 705.4 L380.0 706.7 L379.3 708.0 L378.7 709.3 L378.0 710.6 L377.3 711.9 L376.6 713.2 L375.9 714.5 L375.2 715.8 L374.5 717.1 L373.8 718.4 L373.1 719.7 L372.4 721.0 L371.7 722.3 L371.0 723.6 L370.3 724.9 L369.6 726.2 L368.9 727.5 L368.1 728.8 L367.4 730.2 L366.7 731.5 M357.7 747.1 L356.9 748.4 L356.1 749.7 L355.3 751.0 L354.6 752.3 L353.8 753.6 L353.0 754.9 L352.2 756.2 L351.4 757.5 L350.6 758.8 L349.8 760.1 L349.0 761.4 L348.2 762.7 L347.4 764.0 L346.6 765.3 L345.8 766.6 L344.9 767.9 L344.1 769.2 L343.3 770.5 L342.5 771.8 L341.6 773.1 L340.8 774.4 L340.0 775.7 L339.1 777.0 L338.3 778.3 L337.4 779.6 L336.6 780.9 L335.7 782.2 L334.9 783.5 L334.0 784.8 L333.2 786.1 L332.3 787.4 L331.4 788.7 L330.6 790.1 L329.7 791.4 L328.8 792.7 L327.9 794.0 L327.0 795.3 L326.2 796.6 L325.3 797.9 L324.4 799.2 L323.5 800.5 L322.6 801.8 L321.7 803.1 L320.8 804.4 L319.9 805.7 L319.0 807.0 L318.0 808.3 L317.1 809.6 L316.2 810.9 L315.3 812.2 L314.3 813.5 L313.4 814.8 L312.5 816.1 L311.5 817.4 L310.6 818.7 L309.7 820.0"/>
<path d="M298.6 40.0 L299.7 41.3 L300.8 42.6 L301.9 43.9 L303.0 45.2 L304.0 46.5 L305.1 47.8 L306.2 49.1 L307.3 50.4 L308.4 51.7 L309.4 53.0 L310.5 54.3 L311.6 55.6 L312.6 56.9 L313.7 58.2 L314.7 59.5 L315.8 60.8 L316.8 62.1 L317.9 63.4 L318.9 64.7 L319.9 66.0 L321.0 67.3 L322.0 68.6 L323.0 69.9 L324.1 71.3 L325.1 72.6 L326.1 73.9 L327.1 75.2 L328.1 76.5 L329.1 77.8 L330.1 79.1 L331.1 80.4 L332.1 81.7 M342.8 96.0 L343.8 97.3 L344.8 98.6 L345.7 99.9 L346.6 101.2 L347.6 102.5 L348.5 103.8 L349.5 105.1 L350.4 106.4 L351.3 107.7 L352.2 109.0 L353.2 110.3 L354.1 111.6 L355.0 112.9 L355.9 114.2 L356.8 115.5 L357.7 116.8 L358.6 118.1 L359.5 119.4 L360.4 120.7 L361.3 122.0 L362.2 123.3 L363.1 124.6 L363.9 125.9 L364.8 127.2 L365.7 128.5 L366.6 129.8 L367.4 131.2 L368.3 132.5 L369.1 133.8 L370.0 135.1 L370.8 136.4 L371.7 137.7 L372.5 139.0 L373.4 140.3 L374.2 141.6 L375.0 142.9 L375.9 144.2 L376.7 145.5 L377.5 146.8 L378.4 148.1 L379.2 149.4 L380.0 150.7 L380.8 152.0 L381.6 153.3 L382.4 154.6 L383.2 155.9 L384.0 157.2 L384.8 158.5 L385.6 159.8 L386.4 161.1 L387.1 162.4 L387.9 163.7 L388.7 165.0 L389.5 166.3 L390.2 167.6 L391.0 168.9 L391.8 170.2 L392.5 171.5 L393.3 172.8 L394.0 174.1 L394.8 175.4 L395.5 176.7 L396.3 178.0 L397.0 179.3 L397.7 180.6 L398.5 181.9 L399.2 183.2 L399.9 184.5 L400.6 185.8 L401.4 187.1 L402.1 188.4 L402.8 189.7 L403.5 191.1 L404.2 192.4 L404.9 193.7 L405.6 195.0 L406.3 196.3 L407.0 197.6 L407.6 198.9 L408.3 200.2 L409.0 201.5 L409.7 202.8 L410.4 204.1 L411.0 205.4 L411.7 206.7 L412.3 208.0 L413.0 209.3 L413.7 210.6 L414.3 211.9 L415.0 213.2 L415.6 214.5 L416.2 215.8 L416.9 217.1 L417.5 218.4 L418.1 219.7 L418.8 221.0 L419.4 222.3 L420.0 223.6 L420.6 224.9 L421.2 226.2 M428.3 241.8 L428.9 243.1 L429.4 244.4 L430.0 245.7 L430.6 247.0 L431.1 248.3 L431.7 249.6 L432.2 251.0 L432.7 252.3 L433.3 253.6 L433.8 254.9 L434.3 256.2 L434.9 257.5 L435.4 258.8 L435.9 260.1 L436.4 261.4 L437.0 262.7 L437.5 264.0 L438.0 265.3 L438.5 266.6 L439.0 267.9 L439.5 269.2 L440.0 270.5 L440.5 271.8 L440.9 273.1 L441.4 274.4 L441.9 275.7 L442.4 277.0 L442.8 278.3 L443.3 279.6 L443.8 280.9 L444.2 282.2 L444.7 283.5 L445.2 284.8 L445.6 286.1 L446.1 287.4 L446.5 288.7 L446.9 290.0 L447.4 291.3 L447.8 292.6 L448.2 293.9 L448.7 295.2 L449.1 296.5 L449.5 297.8 L449.9 299.1 L450.3 300.4 L450.7 301.7 L451.1 303.0 L451.6 304.3 L451.9 305.6 L452.3 306.9 L452.7 308.2 L453.1 309.5 L453.5 310.9 L453.9 312.2 L454.3 313.5 L454.6 314.8 L455.0 316.1 L455.4 317.4 L455.7 318.7 L456.1 320.0 L456.5 321.3 L456.8 322.6 L457.2 323.9 L457.5 325.2 L457.8 326.5 L458.2 327.8 L458.5 329.1 L458.9 330.4 L459.2 331.7 L459.5 333.0 L459.8 334.3 L460.1 335.6 L460.5 336.9 L460.8 338.2 L461.1 339.5 L461.4 340.8 L461.7 342.1 L462.0 343.4 L462.3 344.7 L462.6 346.0 L462.8 347.3 L463.1 348.6 L463.4 349.9 L463.7 351.2 L464.0 352.5 L464.2 353.8 L464.5 355.1 L464.7 356.4 L465.0 357.7 L465.3 359.0 L465.5 360.3 L465.8 361.6 L466.0 362.9 L466.2 364.2 L466.5 365.5 L466.7 366.8 L466.9 368.1 L467.2 369.4 L467.4 370.8 L467.6 372.1 L467.8 373.4 L468.0 374.7 L468.2 376.0 L468.5 377.3 L468.7 378.6 L468.9 379.9 L469.0 381.2 L469.2 382.5 L469.4 383.8 L469.6 385.1 L469.8 386.4 L470.0 387.7 L470.1 389.0 L470.3 390.3 L470.5 391.6 L470.6 392.9 L470.8 394.2 L471.0 395.5 L471.1 396.8 L471.3 398.1 L471.4 399.4 L471.5 400.7 L471.7 402.0 L471.8 403.3 L472.0 404.6 L472.1 405.9 L472.2 407.2 L472.3 408.5 L472.4 409.8 L472.6 411.1 L472.7 412.4 L472.8 413.7 L472.9 415.0 L473.0 416.3 L473.1 417.6 L473.2 418.9 L473.3 420.2 L473.3 421.5 L473.4 422.8 L473.5 424.1 L473.6 425.4 L473.7 426.7 L473.7 428.0 L473.8 429.3 L473.8 430.7 L473.9 432.0 L474.0 433.3 L474.0 434.6 L474.1 435.9 L474.1 437.2 L474.1 438.5 L474.2 439.8 L474.2 441.1 L474.2 442.4 L474.3 443.7 L474.3 445.0 L474.3 446.3 L474.3 447.6 L474.3 448.9 L474.3 450.2 L474.4 451.5 L474.4 452.8 L474.4 454.1 L474.4 455.4 L474.3 456.7 L474.3 458.0 L474.3 459.3 L474.3 460.6 L474.3 461.9 L474.2 463.2 L474.2 464.5 L474.2 465.8 L474.1 467.1 L474.1 468.4 L474.1 469.7 L474.0 471.0 L474.0 472.3 L473.9 473.6 L473.9 474.9 L473.8 476.2 L473.7 477.5 L473.7 478.8 L473.6 480.1 L473.5 481.4 L473.4 482.7 L473.4 484.0 L473.3 485.3 L473.2 486.6 L473.1 487.9 L473.0 489.2 L472.9 490.6 L472.8 491.9 L472.7 493.2 L472.6 494.5 L472.5 495.8 L472.3 497.1 L472.2 498.4 L472.1 499.7 L472.0 501.0 L471.8 502.3 L471.7 503.6 L471.6 504.9 L471.4 506.2 L471.3 507.5 L471.1 508.8 L471.0 510.1 L470.8 511.4 L470.7 512.7 L470.5 514.0 L470.3 515.3 L470.2 516.6 L470.0 517.9 L469.8 519.2 L469.6 520.5 L469.5 521.8 L469.3 523.1 L469.1 524.4 L468.9 525.7 L468.7 527.0 L468.5 528.3 L468.3 529.6 L468.1 530.9 L467.9 532.2 L467.7 533.5 L467.4 534.8 L467.2 536.1 L467.0 537.4 L466.8 538.7 L466.5 540.0 L466.3 541.3 L466.1 542.6 L465.8 543.9 L465.6 545.2 L465.3 546.5 L465.1 547.8 L464.8 549.1 L464.6 550.5 L464.3 551.8 L464.0 553.1 L463.8 554.4 L463.5 555.7 L463.2 557.0 L462.9 558.3 L462.7 559.6 L462.4 560.9 L462.1 562.2 L461.8 563.5 L461.5 564.8 L461.2 566.1 L460.9 567.4 L460.6 568.7 L460.3 570.0 L459.9 571.3 L459.6 572.6 L459.3 573.9 L459.0 575.2 L458.7 576.5 L458.3 577.8 L458.0 579.1 L457.6 580.4 L457.3 581.7 L457.0 583.0 L456.6 584.3 L456.3 585.6 L455.9 586.9 L455.5 588.2 L455.2 589.5 L454.8 590.8 L454.4 592.1 L454.1 593.4 L453.7 594.7 L453.3 596.0 L452.9 597.3 L452.5 598.6 L452.2 599.9 L451.8 601.2 L451.4 602.5 L451.0 603.8 L450.6 605.1 L450.2 606.4 L449.7 607.7 L449.3 609.0 L448.9 610.4 L448.5 611.7 L448.1 613.0 L447.6 614.3 L447.2 615.6 L446.8 616.9 L446.3 618.2 L445.9 619.5 L445.5 620.8 L445.0 622.1 L444.6 623.4 L444.1 624.7 L443.6 626.0 L443.2 627.3 L442.7 628.6 L442.2 629.9 L441.8 631.2 L441.3 632.5 L440.8 633.8 L440.3 635.1 L439.9 636.4 L439.4 637.7 L438.9 639.0 L438.4 640.3 L437.9 641.6 L437.4 642.9 L436.9 644.2 L436.4 645.5 L435.8 646.8 L435.3 648.1 L434.8 649.4 L434.3 650.7 L433.8 652.0 L433.2 653.3 L432.7 654.6 L432.2 655.9 L431.6 657.2 L431.1 658.5 L430.5 659.8 L430.0 661.1 L429.4 662.4 L428.9 663.7 L428.3 665.0 L427.7 666.3 L427.2 667.6 L426.6 668.9 L426.0 670.3 L425.5 671.6 L424.9 672.9 L424.3 674.2 L423.7 675.5 L423.1 676.8 L422.5 678.1 L421.9 679.4 L421.3 680.7 L420.7 682.0 L420.1 683.3 L419.5 684.6 L418.9 685.9 L418.3 687.2 L417.6 688.5 L417.0 689.8 L416.4 691.1 L415.8 692.4 L415.1 693.7 L414.5 695.0 L413.9 696.3 L413.2 697.6 L412.6 698.9 L411.9 700.2 L411.3 701.5 L410.6 702.8 L409.9 704.1 L409.3 705.4 L408.6 706.7 L407.9 708.0 L407.3 709.3 L406.6 710.6 L405.9 711.9 M398.2 726.2 L397.5 727.5 L396.7 728.8 L396.0 730.2 L395.3 731.5 L394.6 732.8 L393.8 734.1 L393.1 735.4 L392.3 736.7 L391.6 738.0 L390.8 739.3 L390.1 740.6 L389.3 741.9 L388.6 743.2 L387.8 744.5 L387.0 745.8 L386.3 747.1 L385.5 748.4 L384.7 749.7 L383.9 751.0 L383.1 752.3 L382.4 753.6 L381.6 754.9 L380.8 756.2 L380.0 757.5 L379.2 758.8 L378.4 760.1 L377.6 761.4 L376.8 762.7 L375.9 764.0 L375.1 765.3 L374.3 766.6 L373.5 767.9 L372.7 769.2 L371.8 770.5 L371.0 771.8 L370.2 773.1 L369.3 774.4 L368.5 775.7 L367.6 777.0 L366.8 778.3 L365.9 779.6 L365.1 780.9 L364.2 782.2 L363.4 783.5 L362.5 784.8 L361.6 786.1 L360.7 787.4 L359.9 788.7 L359.0 790.1 L358.1 791.4 L357.2 792.7 L356.3 794.0 L355.4 795.3 L354.5 796.6 L353.7 797.9 L352.7 799.2 L351.8 800.5 L350.9 801.8 L350.0 803.1 L349.1 804.4 L348.2 805.7 L347.3 807.0 L346.4 808.3 L345.4 809.6 L344.5 810.9 L343.6 812.2 L342.6 813.5 L341.7 814.8 L340.7 816.1 L339.8 817.4 L338.8 818.7 L337.9 820.0"/>
</g>
<g font-family="&quot;Liberation Sans&quot;, sans-serif" font-size="17.5" fill="#000" text-anchor="middle">
<text transform="translate(121.0 62.0) rotate(31.0)" y="6">0.02</text>
<text transform="translate(219.7 190.6) rotate(58.7)" y="6">0.02</text>
<text transform="translate(286.9 362.5) rotate(79.6)" y="6">0.02</text>
<text transform="translate(277.7 567.8) rotate(-75.0)" y="6">0.02</text>
<text transform="translate(205.1 732.0) rotate(-58.3)" y="6">0.02</text>
<text transform="translate(159.5 58.5) rotate(32.0)" y="6">0.05</text>
<text transform="translate(254.6 186.4) rotate(58.9)" y="6">0.05</text>
<text transform="translate(322.4 358.6) rotate(79.4)" y="6">0.05</text>
<text transform="translate(314.0 562.2) rotate(-75.4)" y="6">0.05</text>
<text transform="translate(242.4 732.0) rotate(-60.2)" y="6">0.05</text>
<text transform="translate(187.5 56.5) rotate(32.0)" y="6">0.1</text>
<text transform="translate(283.6 186.4) rotate(59.4)" y="6">0.1</text>
<text transform="translate(350.0 360.0) rotate(79.9)" y="6">0.1</text>
<text transform="translate(340.8 565.0) rotate(-75.5)" y="6">0.1</text>
<text transform="translate(270.4 733.8) rotate(-60.4)" y="6">0.1</text>
<text transform="translate(216.5 56.5) rotate(32.0)" y="6">0.2</text>
<text transform="translate(309.4 183.6) rotate(59.4)" y="6">0.2</text>
<text transform="translate(376.8 360.0) rotate(79.9)" y="6">0.2</text>
<text transform="translate(368.5 565.0) rotate(-75.9)" y="6">0.2</text>
<text transform="translate(299.3 733.8) rotate(-60.6)" y="6">0.2</text>
<text transform="translate(331.4 182.2) rotate(60.2)" y="6">0.35</text>
<text transform="translate(396.8 354.4) rotate(79.0)" y="6">0.35</text>
<text transform="translate(393.1 559.4) rotate(-77.1)" y="6">0.35</text>
<text transform="translate(324.6 728.4) rotate(-59.7)" y="6">0.35</text>
<text transform="translate(354.7 180.8) rotate(60.1)" y="6">0.65</text>
<text transform="translate(421.1 354.0) rotate(79.0)" y="6">0.65</text>
<text transform="translate(416.1 562.2) rotate(-76.5)" y="6">0.65</text>
<text transform="translate(348.1 728.4) rotate(-60.0)" y="6">0.65</text>
<text transform="translate(373.4 180.8) rotate(59.9)" y="6">1</text>
<text transform="translate(439.8 354.0) rotate(79.1)" y="6">1</text>
<text transform="translate(432.5 570.6) rotate(-75.8)" y="6">1</text>
<text transform="translate(362.3 739.2) rotate(-60.0)" y="6">1</text>
<text transform="translate(337.7 89.1) rotate(53.2)" y="6">2</text>
<text transform="translate(424.6 233.5) rotate(65.6)" y="6">2</text>
<text transform="translate(402.0 719.3) rotate(-61.7)" y="6">2</text>
</g>
<path d="M122.7 532.0 L123.4 144.1 L161.3 72.8 L281.1 85.2 L394.7 210.7 L421.6 337.4 L421.5 467.2 L369.0 586.5 L279.0 680.1 L270.0 685.5 L268.9 686.6 L267.8 687.7 L266.7 688.7 L265.6 689.7 L264.5 690.8 L263.5 692.0 L262.5 693.4 L261.5 694.9 L260.5 696.6 L259.6 698.4 L258.6 700.3 L257.7 702.4 L256.9 704.6 L256.1 706.9 L255.4 709.4 L254.9 712.0 L254.5 714.8 L254.1 717.8 L253.9 720.9 L253.8 724.2 L253.7 727.6 L253.7 731.1 L253.8 734.8 L253.9 738.5 L254.1 742.4 L254.5 746.6 L254.9 751.0 L255.4 755.5 L256.0 760.0 L256.6 764.4 L257.1 768.6 L257.7 772.6 L258.3 776.3 L258.8 779.9 L259.4 783.4 L260.0 786.7 L260.7 790.0 L261.3 793.3 L261.9 796.6 L262.5 800.0 L259.9 797.0 L257.2 793.8 L254.5 790.5 L251.8 787.3 L249.2 784.2 L246.7 781.3 L244.5 778.7 L242.6 776.4 L241.1 774.6 L239.9 773.2 L238.9 772.1 L238.1 771.2 L237.4 770.4 L236.7 769.5 L236.0 768.4 L235.0 766.9 L233.9 765.1 L232.8 763.1 L231.7 760.9 L230.6 758.6 L229.4 756.3 L228.2 754.0 L226.9 751.8 L225.5 749.8 L224.1 748.0 L222.6 746.2 L221.1 744.5 L219.5 742.8 L217.8 741.2 L216.1 739.7 L214.3 738.1 L212.3 736.6 L210.2 735.0 L207.8 733.4 L205.3 731.8 L202.8 730.2 L200.3 728.7 L197.8 727.3 L195.4 726.2 L193.3 725.2 L191.4 724.5 L189.7 723.9 L188.1 723.5 L186.5 723.3 L185.0 723.2 L183.5 723.2 L181.8 723.2 L180.0 723.3 L178.1 723.5 L176.1 723.8 L174.1 724.1 L172.1 724.6 L170.0 725.1 L167.7 725.7 L165.4 726.4 L163.0 727.1 L160.4 727.9 L157.6 728.7 L154.8 729.6 L151.8 730.6 L148.8 731.6 L145.9 732.6 L143.0 733.7 L140.3 734.7 L137.7 735.8 L135.2 736.9 L132.8 738.0 L130.4 739.2 L128.1 740.3 L125.7 741.5 L123.4 742.7 L121.0 743.8 L123.2 740.3 L125.5 736.6 L127.9 733.0 L130.2 729.4 L132.5 725.8 L134.6 722.3 L136.6 719.0 L138.4 715.8 L140.0 712.8 L141.5 710.0 L142.9 707.3 L144.1 704.7 L145.2 702.1 L146.2 699.7 L147.1 697.3 L147.9 694.9 L148.6 692.6 L149.2 690.4 L149.6 688.2 L150.0 686.2 L150.2 684.1 L150.2 682.1 L150.1 680.0 L149.8 677.9 L149.2 675.8 L148.4 673.6 L147.4 671.5 L146.2 669.4 L144.9 667.2 L143.7 665.1 L142.4 662.9 L141.3 660.8Z" fill="none" stroke="#000" stroke-width="3" stroke-linejoin="miter"/>
<line x1="101.7" y1="397.7" x2="441.05" y2="397.7" stroke="#2a3f9f" stroke-width="3" stroke-dasharray="11 11.3"/>
<path d="M202.8 703.3 L200.5 697.1 L198.3 690.8 L196.1 684.5 L194.0 678.2 L191.8 671.9 L189.7 665.6 L187.6 659.2 L185.6 652.9 L183.5 646.5 L181.5 640.1 L179.6 633.8 L177.6 627.4 L175.7 620.9 L173.8 614.5 L172.0 608.1 L170.2 601.6 L168.4 595.2 L166.7 588.7 L165.0 582.2 L163.3 575.7 L161.6 569.2 L160.0 562.7 L158.5 556.2 L156.9 549.7 L155.5 543.2 L154.0 536.6 L152.6 530.1 L151.2 523.5 L149.9 516.9 L148.6 510.4 L147.3 503.8 L146.1 497.2 L145.0 490.6 L143.9 484.0 L142.8 477.4 L141.8 470.8 L140.8 464.2 L139.8 457.6 L138.9 451.0 L138.1 444.3 L137.3 437.7 L136.6 431.1 L135.9 424.4 L135.2 417.8 L134.6 411.1 L134.1 404.5 L133.6 397.8 L133.2 391.2 L132.8 384.5 L132.4 377.9 L132.2 371.2 L131.9 364.6 L131.8 357.9 L131.7 351.2 L131.6 344.6 L131.6 337.9 L131.7 331.3 L131.8 324.6 L132.0 317.9 L132.2 311.3 L132.5 304.6 L132.9 298.0 L133.3 291.3 L133.8 284.7 L134.4 278.0 L135.1 271.4 L135.9 264.7 L136.8 258.1 L137.9 251.5 L139.1 244.9 L140.4 238.3 L142.0 231.7 L143.7 225.2 L145.6 218.6 L147.7 212.1 L150.0 205.6 L152.6 199.1 L155.4 192.6 L158.5 186.3 L161.8 180.1 L165.4 174.1 L169.3 168.5 L173.4 163.3 L177.9 158.5 L182.7 154.3 L187.8 150.7 L193.3 147.8 L199.0 145.6 L205.1 144.1 L211.4 143.3 L217.8 143.0 L224.2 143.3 L230.7 144.1 L237.1 145.3 L243.5 147.0 L249.7 149.1 L255.9 151.5 L262.0 154.2 L268.0 157.2 L274.0 160.6 L279.8 164.1 L285.5 167.9 L291.1 171.9 L296.6 176.0 L302.0 180.3 L307.2 184.7 L312.4 189.2 L317.4 193.9 L322.3 198.6 L327.1 203.4 L331.8 208.4 L336.3 213.4 L340.7 218.5 L345.0 223.8 L349.1 229.1 L353.2 234.5 L357.0 240.0 L360.8 245.6 L364.4 251.2 L367.9 256.9 L371.2 262.7 L374.4 268.6 L377.5 274.5 L380.4 280.5 L383.2 286.6 L385.8 292.7 L388.3 298.9 L390.7 305.1 L392.9 311.3 L394.9 317.7 L396.8 324.0 L398.5 330.4 L400.1 336.8 L401.6 343.3 L402.8 349.8 L404.0 356.3 L404.9 362.9 L405.7 369.4 L406.4 376.0 L406.8 382.6 L407.1 389.2 L407.3 395.9 L407.3 402.5 L407.1 409.1 L406.7 415.8 L406.2 422.4 L405.5 429.0 L404.6 435.6 L403.6 442.2 L402.3 448.8 L401.0 455.4 L399.4 461.9 L397.7 468.4 L395.9 474.9 L393.9 481.4 L391.7 487.8 L389.4 494.1 L386.9 500.4 L384.4 506.6 L381.6 512.8 L378.8 518.9 L375.8 525.0 L372.6 531.0 L369.4 536.9 L366.0 542.7 L362.5 548.4 L358.9 554.0 L355.2 559.6 L351.3 565.1 L347.4 570.4 L343.3 575.7 L339.2 580.9 L334.9 586.0 L330.6 591.0 L326.2 596.0 L321.7 600.9 L317.1 605.7 L312.4 610.5 L307.7 615.2 L302.9 619.8 L298.1 624.4 L293.2 629.0 L288.2 633.5 L283.2 637.9 L278.2 642.3 L273.1 646.7 L268.0 651.0 L262.8 655.3 L257.7 659.6 L252.5 663.8 L247.3 668.1 L242.1 672.3 L236.8 676.4 L231.6 680.6 L226.3 684.8 L221.1 689.0 L215.9 693.1 L210.7 697.3 L205.5 701.4 L202.9 703.5" fill="none" stroke="#e60010" stroke-width="3"/>
<path d="M622.2 532.0 L622.9 144.1 L660.8 72.8 L780.6 85.2 L894.2 210.7 L921.1 337.4 L921.0 467.2 L868.5 586.5 L778.5 680.1 L769.5 685.5 L768.4 686.6 L767.3 687.7 L766.2 688.7 L765.1 689.7 L764.0 690.8 L763.0 692.0 L762.0 693.4 L761.0 694.9 L760.0 696.6 L759.1 698.4 L758.1 700.3 L757.2 702.4 L756.4 704.6 L755.6 706.9 L754.9 709.4 L754.4 712.0 L754.0 714.8 L753.6 717.8 L753.4 720.9 L753.2 724.2 L753.2 727.6 L753.2 731.1 L753.3 734.8 L753.4 738.5 L753.6 742.4 L754.0 746.6 L754.4 751.0 L754.9 755.5 L755.5 760.0 L756.1 764.4 L756.6 768.6 L757.2 772.6 L757.8 776.3 L758.3 779.9 L758.9 783.4 L759.5 786.7 L760.2 790.0 L760.8 793.3 L761.4 796.6 L762.0 800.0 L759.4 797.0 L756.7 793.8 L754.0 790.5 L751.3 787.3 L748.7 784.2 L746.2 781.3 L744.0 778.7 L742.1 776.4 L740.6 774.6 L739.4 773.2 L738.4 772.1 L737.7 771.2 L736.9 770.4 L736.2 769.5 L735.5 768.4 L734.5 766.9 L733.4 765.1 L732.3 763.1 L731.2 760.9 L730.1 758.6 L728.9 756.3 L727.7 754.0 L726.4 751.8 L725.0 749.8 L723.6 748.0 L722.1 746.2 L720.6 744.5 L719.0 742.8 L717.3 741.2 L715.6 739.7 L713.8 738.1 L711.8 736.6 L709.7 735.0 L707.3 733.4 L704.8 731.8 L702.3 730.2 L699.8 728.7 L697.3 727.3 L694.9 726.2 L692.8 725.2 L690.9 724.5 L689.2 723.9 L687.6 723.5 L686.0 723.3 L684.5 723.2 L683.0 723.2 L681.3 723.2 L679.5 723.3 L677.6 723.5 L675.6 723.8 L673.6 724.1 L671.6 724.6 L669.5 725.1 L667.2 725.7 L664.9 726.4 L662.5 727.1 L659.9 727.9 L657.1 728.7 L654.3 729.6 L651.3 730.6 L648.3 731.6 L645.4 732.6 L642.5 733.7 L639.8 734.7 L637.2 735.8 L634.7 736.9 L632.3 738.0 L629.9 739.2 L627.6 740.3 L625.2 741.5 L622.9 742.7 L620.5 743.8 L622.7 740.3 L625.0 736.6 L627.4 733.0 L629.7 729.4 L632.0 725.8 L634.1 722.3 L636.1 719.0 L637.9 715.8 L639.5 712.8 L641.0 710.0 L642.4 707.3 L643.6 704.7 L644.7 702.1 L645.7 699.7 L646.6 697.3 L647.4 694.9 L648.1 692.6 L648.7 690.4 L649.1 688.2 L649.5 686.2 L649.7 684.1 L649.7 682.1 L649.6 680.0 L649.3 677.9 L648.7 675.8 L647.9 673.6 L646.9 671.5 L645.7 669.4 L644.4 667.2 L643.2 665.1 L641.9 662.9 L640.8 660.8Z" fill="none" stroke="#000" stroke-width="3"/>
<path d="M702.9 701.6 L700.7 695.4 L698.5 689.1 L696.3 682.9 L694.2 676.6 L692.1 670.3 L690.0 664.0 L687.9 657.6 L685.9 651.3 L683.9 644.9 L681.9 638.6 L680.0 632.2 L678.1 625.8 L676.2 619.4 L674.4 613.0 L672.5 606.6 L670.8 600.2 L669.0 593.7 L667.3 587.3 L665.6 580.8 L664.0 574.4 L662.4 567.9 L660.8 561.4 L659.3 555.0 L657.8 548.5 L656.3 542.0 L654.9 535.5 L653.5 528.9 L652.2 522.4 L650.9 515.9 L649.6 509.4 L648.4 502.8 L647.2 496.3 L646.1 489.8 L645.0 483.2 L643.9 476.7 L642.9 470.1 L642.0 463.6 L641.0 457.0 L640.2 450.4 L639.3 443.9 L638.6 437.3 L637.8 430.7 L637.1 424.2 L636.5 417.6 L635.9 411.0 L635.4 404.4 L634.9 397.8 L634.5 391.2 L634.1 384.6 L633.7 378.1 L633.4 371.5 L633.2 364.9 L633.0 358.3 L632.9 351.7 L632.8 345.1 L632.8 338.5 L632.9 331.8 L633.0 325.2 L633.1 318.6 L633.4 312.0 L633.6 305.4 L634.0 298.8 L634.4 292.2 L634.9 285.6 L635.4 279.0 L636.1 272.4 L636.9 265.8 L637.7 259.2 L638.8 252.6 L639.9 246.1 L641.3 239.5 L642.8 233.0 L644.5 226.4 L646.3 219.9 L648.4 213.4 L650.7 206.9 L653.3 200.4 L656.0 194.0 L659.1 187.7 L662.3 181.5 L665.9 175.6 L669.7 170.0 L673.9 164.8 L678.3 160.1 L683.1 155.9 L688.2 152.3 L693.6 149.4 L699.3 147.2 L705.3 145.7 L711.6 144.9 L717.9 144.7 L724.4 145.0 L730.8 145.8 L737.2 147.1 L743.5 148.7 L749.7 150.8 L755.9 153.2 L761.9 155.9 L767.9 159.0 L773.8 162.3 L779.6 165.9 L785.3 169.7 L790.8 173.7 L796.3 177.8 L801.6 182.1 L806.9 186.5 L812.0 191.0 L816.9 195.7 L821.8 200.4 L826.5 205.2 L831.2 210.2 L835.6 215.2 L840.0 220.3 L844.2 225.5 L848.3 230.9 L852.3 236.3 L856.1 241.7 L859.8 247.3 L863.4 252.9 L866.8 258.6 L870.1 264.4 L873.2 270.2 L876.2 276.2 L879.1 282.1 L881.8 288.1 L884.4 294.2 L886.8 300.3 L889.1 306.5 L891.2 312.7 L893.2 319.0 L895.0 325.2 L896.7 331.6 L898.2 337.9 L899.6 344.3 L900.8 350.7 L901.8 357.1 L902.7 363.5 L903.5 370.0 L904.1 376.4 L904.6 382.9 L904.8 389.4 L905.0 395.9 L905.0 402.4 L904.8 408.9 L904.5 415.4 L904.0 421.9 L903.3 428.4 L902.5 434.9 L901.5 441.4 L900.3 447.9 L899.0 454.3 L897.5 460.8 L895.9 467.2 L894.1 473.6 L892.2 480.0 L890.1 486.3 L887.8 492.6 L885.5 498.9 L882.9 505.1 L880.3 511.2 L877.5 517.3 L874.5 523.3 L871.5 529.3 L868.3 535.2 L865.0 541.0 L861.5 546.7 L858.0 552.3 L854.3 557.8 L850.5 563.3 L846.6 568.6 L842.6 573.9 L838.5 579.1 L834.3 584.2 L830.0 589.2 L825.6 594.2 L821.1 599.1 L816.6 603.9 L812.0 608.7 L807.3 613.4 L802.6 618.0 L797.8 622.6 L792.9 627.2 L788.0 631.7 L783.0 636.1 L778.0 640.5 L772.9 644.9 L767.9 649.2 L762.7 653.6 L757.6 657.8 L752.4 662.1 L747.2 666.3 L742.0 670.5 L736.8 674.7 L731.6 678.9 L726.4 683.1 L721.2 687.2 L716.0 691.4 L710.8 695.6 L705.6 699.7" fill="none" stroke="#3a48a8" stroke-width="1.15"/>
<path d="M702.3 703.3 L700.0 697.1 L697.8 690.8 L695.6 684.5 L693.5 678.2 L691.3 671.9 L689.2 665.6 L687.1 659.2 L685.1 652.9 L683.0 646.5 L681.0 640.1 L679.1 633.8 L677.1 627.4 L675.2 620.9 L673.3 614.5 L671.5 608.1 L669.7 601.6 L667.9 595.2 L666.2 588.7 L664.5 582.2 L662.8 575.7 L661.1 569.2 L659.5 562.7 L658.0 556.2 L656.4 549.7 L655.0 543.2 L653.5 536.6 L652.1 530.1 L650.7 523.5 L649.4 516.9 L648.1 510.4 L646.8 503.8 L645.6 497.2 L644.5 490.6 L643.4 484.0 L642.3 477.4 L641.3 470.8 L640.3 464.2 L639.3 457.6 L638.4 451.0 L637.6 444.3 L636.8 437.7 L636.1 431.1 L635.4 424.4 L634.7 417.8 L634.1 411.1 L633.6 404.5 L633.1 397.8 L632.7 391.2 L632.3 384.5 L631.9 377.9 L631.7 371.2 L631.4 364.6 L631.3 357.9 L631.2 351.2 L631.1 344.6 L631.1 337.9 L631.2 331.3 L631.3 324.6 L631.5 317.9 L631.7 311.3 L632.0 304.6 L632.4 298.0 L632.8 291.3 L633.3 284.7 L633.9 278.0 L634.6 271.4 L635.4 264.7 L636.3 258.1 L637.4 251.5 L638.6 244.9 L639.9 238.3 L641.5 231.7 L643.2 225.2 L645.1 218.6 L647.2 212.1 L649.5 205.6 L652.1 199.1 L654.9 192.6 L658.0 186.3 L661.3 180.1 L664.9 174.1 L668.8 168.5 L672.9 163.3 L677.4 158.5 L682.2 154.3 L687.3 150.7 L692.8 147.8 L698.5 145.6 L704.6 144.1 L710.9 143.3 L717.3 143.0 L723.7 143.3 L730.2 144.1 L736.6 145.3 L743.0 147.0 L749.2 149.1 L755.4 151.5 L761.5 154.2 L767.5 157.2 L773.5 160.6 L779.3 164.1 L785.0 167.9 L790.6 171.9 L796.1 176.0 L801.5 180.3 L806.7 184.7 L811.9 189.2 L816.9 193.9 L821.8 198.6 L826.6 203.4 L831.3 208.4 L835.8 213.4 L840.2 218.5 L844.5 223.8 L848.6 229.1 L852.7 234.5 L856.5 240.0 L860.3 245.6 L863.9 251.2 L867.4 256.9 L870.7 262.7 L873.9 268.6 L877.0 274.5 L879.9 280.5 L882.7 286.6 L885.3 292.7 L887.8 298.9 L890.2 305.1 L892.4 311.3 L894.4 317.7 L896.3 324.0 L898.0 330.4 L899.6 336.8 L901.1 343.3 L902.3 349.8 L903.5 356.3 L904.4 362.9 L905.2 369.4 L905.9 376.0 L906.3 382.6 L906.6 389.2 L906.8 395.9 L906.8 402.5 L906.6 409.1 L906.2 415.8 L905.7 422.4 L905.0 429.0 L904.1 435.6 L903.1 442.2 L901.8 448.8 L900.5 455.4 L898.9 461.9 L897.2 468.4 L895.4 474.9 L893.4 481.4 L891.2 487.8 L888.9 494.1 L886.4 500.4 L883.9 506.6 L881.1 512.8 L878.3 518.9 L875.3 525.0 L872.1 531.0 L868.9 536.9 L865.5 542.7 L862.0 548.4 L858.4 554.0 L854.7 559.6 L850.8 565.1 L846.9 570.4 L842.8 575.7 L838.7 580.9 L834.4 586.0 L830.1 591.0 L825.7 596.0 L821.2 600.9 L816.6 605.7 L811.9 610.5 L807.2 615.2 L802.4 619.8 L797.6 624.4 L792.7 629.0 L787.7 633.5 L782.7 637.9 L777.7 642.3 L772.6 646.7 L767.5 651.0 L762.3 655.3 L757.2 659.6 L752.0 663.8 L746.8 668.1 L741.6 672.3 L736.3 676.4 L731.1 680.6 L725.8 684.8 L720.6 689.0 L715.4 693.1 L710.2 697.3 L705.0 701.4 L702.4 703.5" fill="none" stroke="#e60010" stroke-width="3"/>
<defs><clipPath id="cv"><path d="M622.2 532.0 L622.9 144.1 L660.8 72.8 L780.6 85.2 L894.2 210.7 L921.1 337.4 L921.0 467.2 L868.5 586.5 L778.5 680.1 L769.5 685.5 L768.4 686.6 L767.3 687.7 L766.2 688.7 L765.1 689.7 L764.0 690.8 L763.0 692.0 L762.0 693.4 L761.0 694.9 L760.0 696.6 L759.1 698.4 L758.1 700.3 L757.2 702.4 L756.4 704.6 L755.6 706.9 L754.9 709.4 L754.4 712.0 L754.0 714.8 L753.6 717.8 L753.4 720.9 L753.2 724.2 L753.2 727.6 L753.2 731.1 L753.3 734.8 L753.4 738.5 L753.6 742.4 L754.0 746.6 L754.4 751.0 L754.9 755.5 L755.5 760.0 L756.1 764.4 L756.6 768.6 L757.2 772.6 L757.8 776.3 L758.3 779.9 L758.9 783.4 L759.5 786.7 L760.2 790.0 L760.8 793.3 L761.4 796.6 L762.0 800.0 L759.4 797.0 L756.7 793.8 L754.0 790.5 L751.3 787.3 L748.7 784.2 L746.2 781.3 L744.0 778.7 L742.1 776.4 L740.6 774.6 L739.4 773.2 L738.4 772.1 L737.6 771.2 L736.9 770.4 L736.2 769.5 L735.5 768.4 L734.5 766.9 L733.4 765.1 L732.3 763.1 L731.2 760.9 L730.1 758.6 L728.9 756.3 L727.7 754.0 L726.4 751.8 L725.0 749.8 L723.6 748.0 L722.1 746.2 L720.6 744.5 L719.0 742.8 L717.3 741.2 L715.6 739.7 L713.8 738.1 L711.8 736.6 L709.7 735.0 L707.3 733.4 L704.8 731.8 L702.3 730.2 L699.8 728.7 L697.3 727.3 L694.9 726.2 L692.8 725.2 L690.9 724.5 L689.2 723.9 L687.6 723.5 L686.0 723.3 L684.5 723.2 L683.0 723.2 L681.3 723.2 L679.5 723.3 L677.6 723.5 L675.6 723.8 L673.6 724.1 L671.6 724.6 L669.5 725.1 L667.2 725.7 L664.9 726.4 L662.5 727.1 L659.9 727.9 L657.1 728.7 L654.3 729.6 L651.3 730.6 L648.3 731.6 L645.4 732.6 L642.5 733.7 L639.8 734.7 L637.2 735.8 L634.7 736.9 L632.3 738.0 L629.9 739.2 L627.6 740.3 L625.2 741.5 L622.9 742.7 L620.5 743.8 L622.7 740.3 L625.0 736.6 L627.4 733.0 L629.7 729.4 L632.0 725.8 L634.1 722.3 L636.1 719.0 L637.9 715.8 L639.5 712.8 L641.0 710.0 L642.4 707.3 L643.6 704.7 L644.7 702.1 L645.7 699.7 L646.6 697.3 L647.4 694.9 L648.1 692.6 L648.7 690.4 L649.1 688.2 L649.5 686.2 L649.7 684.1 L649.7 682.1 L649.6 680.0 L649.3 677.9 L648.7 675.8 L647.9 673.6 L646.9 671.5 L645.7 669.4 L644.4 667.2 L643.2 665.1 L641.9 662.9 L640.8 660.8Z"/></clipPath></defs>
<g clip-path="url(#cv)" fill="none" stroke="#3a48a8" stroke-width="1.15">
<path d="M808.2 459.9 L806.1 458.7 L804.1 457.2 L802.2 455.5 L800.4 453.6 L799.1 452.1 L797.9 450.5 L796.3 448.2 L794.6 445.8 L793.0 443.3 L791.8 441.5 L790.3 439.4 L788.8 437.2 L787.5 435.2 L786.2 433.3 L785.1 431.5 L784.0 429.6 L783.0 427.7 L782.1 425.7 L781.3 423.8 L780.7 421.7 L780.1 419.7 L779.6 417.6 L779.2 415.6 L778.9 413.5 L778.7 411.4 L778.5 409.3 L778.4 407.2 L778.4 405.1 L778.4 403.1 L778.5 401.0 L778.6 399.0 L778.8 397.0 L779.0 395.0 L779.4 392.1 L779.9 389.1 L780.2 386.9 L780.7 384.3 L781.3 381.4 L781.9 378.4 L782.4 376.4 L782.8 374.4 L783.3 372.4 L783.8 370.3 L784.4 368.1 L785.0 365.9 L785.7 363.6 L786.5 361.3 L787.4 358.8 L788.2 356.7 L789.0 354.8 L790.3 351.8 L791.2 350.0 L792.8 347.1 L794.3 344.9 L796.0 342.6 L798.2 340.2 L800.2 338.5 L802.3 337.1 L804.4 336.0 L806.7 335.2 L809.1 334.8 L811.6 334.7 L814.1 335.0 L816.8 335.8 L819.6 337.2 L821.3 338.3 L823.8 340.2 L825.5 341.7 L827.0 343.4 L828.6 345.3 L829.9 347.0 L831.6 349.6 L833.2 352.2 L834.6 354.9 L835.9 357.7 L837.0 360.5 L838.1 363.6 L838.8 365.6 L839.5 368.2 L840.3 371.3 L841.0 374.5 L841.5 377.7 L841.9 380.9 L842.3 384.2 L842.5 387.4 L842.7 390.6 L842.9 393.8 L843.1 397.0 L843.4 400.3 L843.8 403.6 L844.0 407.1 L844.2 410.7 L844.2 414.4 L844.1 416.7 L843.9 419.9 L843.4 423.5 L842.7 427.0 L841.9 430.4 L841.0 433.7 L839.9 436.9 L838.6 439.9 L837.3 442.9 L835.8 445.6 L834.6 447.7 L833.3 449.5 L831.6 451.9 L829.7 454.1 L827.6 456.1 L825.7 457.7 L822.9 459.5 L821.1 460.4 L818.8 461.1 L816.8 461.5 L814.2 461.6 L811.7 461.2 L809.4 460.4 L808.2 459.9"/>
<path d="M805.1 488.3 L803.0 488.0 L800.9 487.5 L798.8 486.9 L796.8 486.1 L794.8 485.1 L792.8 484.0 L790.8 482.7 L788.9 481.2 L787.0 479.6 L785.1 477.7 L783.2 475.8 L781.4 473.6 L780.1 472.0 L778.5 470.1 L776.6 467.5 L775.1 465.3 L773.7 463.2 L772.4 461.1 L771.2 459.1 L770.1 457.1 L769.0 455.1 L768.0 453.1 L767.0 451.1 L766.1 449.1 L765.2 447.1 L764.5 445.0 L763.7 443.0 L763.0 441.0 L762.4 438.9 L761.8 436.9 L761.3 434.8 L760.9 432.7 L760.4 430.7 L760.1 428.6 L759.7 426.5 L759.4 424.4 L759.1 422.4 L758.9 420.3 L758.7 418.2 L758.6 416.2 L758.4 414.1 L758.3 412.1 L758.2 410.1 L758.2 408.0 L758.1 406.0 L758.1 404.0 L758.1 402.0 L758.1 400.0 L758.1 398.0 L758.1 396.0 L758.1 394.0 L758.2 392.0 L758.2 390.0 L758.3 388.0 L758.3 386.0 L758.4 383.9 L758.5 381.9 L758.6 379.9 L758.8 377.8 L758.9 375.7 L759.1 373.7 L759.3 371.6 L759.5 369.5 L759.8 367.3 L760.1 365.2 L760.4 363.1 L760.7 361.0 L761.1 358.7 L761.5 356.5 L762.0 354.3 L762.5 352.1 L763.1 349.9 L763.7 347.6 L764.4 345.4 L765.2 343.1 L766.0 340.8 L766.9 338.5 L767.9 336.2 L768.9 333.9 L770.1 331.5 L771.1 329.7 L772.8 326.8 L774.1 324.9 L775.3 323.2 L777.1 320.9 L779.1 318.6 L780.5 317.2 L782.3 315.6 L784.4 313.9 L786.5 312.5 L788.6 311.2 L790.8 310.2 L792.9 309.3 L795.1 308.7 L797.3 308.2 L799.5 307.9 L801.7 307.9 L803.9 307.9 L806.1 308.2 L808.3 308.7 L810.6 309.3 L812.8 310.2 L815.0 311.2 L817.3 312.4 L819.5 313.9 L821.2 315.1 L822.9 316.4 L825.1 318.4 L827.4 320.7 L829.4 323.0 L830.7 324.6 L832.1 326.4 L833.7 328.7 L835.2 330.9 L836.3 332.7 L837.4 334.6 L838.5 336.7 L839.6 338.8 L840.7 341.1 L841.8 343.6 L842.7 345.9 L843.6 348.2 L844.4 350.5 L845.2 352.8 L845.9 355.1 L846.5 357.4 L847.1 359.7 L847.6 362.0 L848.1 364.2 L848.6 366.5 L849.0 368.8 L849.3 371.0 L849.7 373.2 L849.9 375.5 L850.2 377.7 L850.4 379.8 L850.6 382.0 L850.8 384.2 L851.0 386.3 L851.1 388.5 L851.3 390.6 L851.4 392.7 L851.5 394.9 L851.7 397.0 L851.9 399.2 L852.0 401.4 L852.2 403.6 L852.3 405.8 L852.5 408.1 L852.5 410.5 L852.6 412.8 L852.6 415.2 L852.6 417.7 L852.5 420.1 L852.4 422.6 L852.2 425.1 L851.9 427.6 L851.6 430.1 L851.2 432.6 L850.7 435.1 L850.2 437.6 L849.7 440.1 L849.0 442.6 L848.4 444.7 L847.5 447.6 L846.7 450.1 L845.8 452.5 L844.9 454.7 L843.7 457.3 L842.6 459.7 L841.4 462.1 L840.1 464.4 L838.8 466.6 L837.5 468.5 L836.3 470.3 L835.1 472.0 L833.1 474.4 L831.4 476.3 L829.2 478.6 L827.0 480.6 L825.4 481.8 L823.2 483.4 L820.7 484.9 L818.7 485.9 L816.1 486.9 L813.8 487.6 L811.6 488.1 L809.4 488.3 L807.2 488.4 L805.1 488.3"/>
<path d="M802.2 506.7 L800.2 507.0 L798.1 507.3 L796.1 507.4 L794.0 507.4 L792.0 507.2 L789.9 506.9 L787.9 506.5 L785.8 506.0 L783.9 505.3 L781.7 504.5 L779.6 503.5 L777.7 502.5 L775.4 501.1 L773.4 499.6 L771.3 498.0 L769.6 496.5 L767.6 494.5 L766.1 493.0 L764.8 491.5 L763.1 489.4 L761.5 487.4 L760.1 485.3 L758.9 483.5 L757.5 481.2 L756.3 479.2 L755.2 477.1 L754.1 475.0 L753.1 473.0 L752.2 470.9 L751.3 468.8 L750.4 466.7 L749.6 464.6 L748.9 462.5 L748.2 460.4 L747.5 458.3 L746.9 456.2 L746.3 454.1 L745.8 452.0 L745.3 449.9 L744.8 447.9 L744.4 445.8 L743.9 443.7 L743.6 441.6 L743.2 439.5 L742.9 437.4 L742.6 435.4 L742.3 433.3 L742.1 431.2 L741.8 429.2 L741.6 427.1 L741.4 425.1 L741.2 423.1 L741.1 421.0 L740.9 419.0 L740.8 417.0 L740.7 415.0 L740.5 413.0 L740.4 411.0 L740.3 409.0 L740.2 406.0 L740.1 403.0 L739.9 400.0 L739.8 397.0 L739.7 395.0 L739.6 393.0 L739.5 391.0 L739.5 388.9 L739.4 386.9 L739.3 384.9 L739.3 382.8 L739.2 380.7 L739.2 378.7 L739.1 376.6 L739.1 374.5 L739.1 372.3 L739.2 370.3 L739.2 368.1 L739.3 365.9 L739.4 363.7 L739.5 361.6 L739.6 359.4 L739.8 357.2 L740.0 354.9 L740.3 352.7 L740.6 350.5 L740.9 348.2 L741.2 346.0 L741.6 343.7 L742.1 341.5 L742.5 339.2 L743.1 336.9 L743.7 334.7 L744.3 332.4 L745.0 330.1 L745.7 327.9 L746.5 325.6 L747.4 323.3 L748.3 321.1 L749.3 318.9 L750.4 316.6 L751.5 314.4 L752.7 312.2 L754.1 310.1 L755.4 308.0 L757.0 305.8 L758.7 303.7 L760.4 301.6 L762.2 299.8 L764.4 297.7 L766.7 295.8 L769.0 294.1 L770.8 293.0 L773.6 291.4 L775.7 290.4 L777.7 289.6 L779.9 288.9 L782.4 288.2 L784.8 287.7 L787.0 287.4 L789.2 287.3 L791.3 287.3 L793.5 287.4 L795.7 287.6 L797.8 288.0 L799.9 288.4 L802.1 289.0 L804.2 289.8 L806.2 290.6 L808.3 291.5 L810.4 292.6 L812.4 293.8 L814.5 295.0 L816.5 296.4 L818.5 298.0 L820.1 299.3 L822.5 301.4 L824.1 302.9 L826.4 305.2 L828.3 307.4 L830.3 309.7 L832.1 312.0 L833.7 314.2 L835.0 316.1 L836.6 318.6 L837.9 320.5 L839.2 322.8 L840.4 324.9 L841.5 327.0 L842.5 328.9 L843.4 330.7 L844.3 332.7 L845.2 334.7 L846.1 336.8 L847.0 339.0 L847.8 341.2 L848.5 343.2 L849.2 345.2 L849.9 347.2 L850.5 349.1 L851.1 351.1 L851.6 353.0 L852.2 354.9 L852.9 357.8 L853.6 360.7 L854.2 363.5 L854.8 366.2 L855.2 368.2 L855.7 371.0 L856.1 373.8 L856.5 376.6 L856.9 379.4 L857.2 382.1 L857.5 384.9 L857.8 387.7 L858.0 390.5 L858.2 393.3 L858.4 396.1 L858.5 398.9 L858.5 401.7 L858.5 404.5 L858.5 407.4 L858.4 410.3 L858.3 413.2 L858.1 416.1 L857.8 419.0 L857.5 421.9 L857.2 424.9 L856.7 427.9 L856.4 429.9 L856.1 431.8 L855.7 433.8 L855.3 435.8 L854.9 437.9 L854.4 439.9 L853.9 441.9 L853.4 443.9 L852.8 445.9 L852.2 447.9 L851.6 450.0 L850.9 451.9 L850.2 454.1 L849.4 456.1 L848.7 458.1 L847.8 460.2 L847.0 462.2 L846.0 464.3 L845.1 466.4 L844.0 468.4 L843.0 470.5 L841.8 472.6 L840.7 474.6 L839.4 476.7 L838.1 478.8 L836.7 480.9 L835.5 482.5 L833.6 485.1 L831.9 487.2 L830.5 488.7 L829.1 490.3 L827.5 491.9 L825.9 493.5 L823.6 495.6 L821.5 497.3 L819.5 498.8 L817.5 500.2 L815.5 501.5 L813.4 502.6 L811.4 503.7 L809.4 504.5 L807.3 505.3 L805.3 506.0 L803.3 506.5 L802.2 506.7"/>
<path d="M795.6 521.5 L793.6 521.8 L791.5 522.0 L789.5 522.1 L787.4 522.1 L785.3 522.0 L783.3 521.8 L781.2 521.5 L779.1 521.0 L777.0 520.5 L774.9 519.8 L772.8 518.9 L770.6 517.9 L768.5 516.8 L766.4 515.5 L764.3 514.0 L762.6 512.7 L760.3 510.8 L758.3 508.9 L756.8 507.4 L754.7 505.0 L753.1 503.0 L751.6 501.0 L750.1 498.9 L748.8 496.9 L747.5 494.8 L746.4 492.9 L745.4 491.0 L744.4 489.1 L743.4 487.0 L742.4 484.9 L741.4 482.6 L740.4 480.3 L739.6 478.1 L738.8 476.0 L738.1 473.9 L737.4 471.8 L736.7 469.6 L736.1 467.5 L735.5 465.4 L735.0 463.3 L734.5 461.2 L734.0 459.1 L733.5 457.0 L733.1 454.9 L732.7 452.8 L732.3 450.7 L731.9 448.6 L731.6 446.5 L731.3 444.4 L731.0 442.3 L730.7 440.3 L730.4 438.2 L730.2 436.1 L730.0 434.1 L729.8 432.1 L729.6 430.0 L729.4 428.0 L729.2 426.0 L729.0 423.9 L728.9 421.9 L728.7 419.9 L728.6 417.9 L728.5 415.9 L728.3 412.9 L728.1 409.9 L727.9 407.0 L727.7 404.0 L727.6 401.0 L727.4 398.0 L727.2 396.0 L727.1 394.0 L727.0 392.0 L726.8 390.0 L726.7 387.9 L726.6 385.9 L726.4 383.8 L726.3 381.8 L726.2 379.7 L726.1 377.6 L726.0 375.5 L725.9 373.4 L725.8 371.2 L725.8 369.1 L725.7 366.9 L725.7 364.8 L725.7 362.6 L725.7 360.4 L725.8 358.2 L725.8 355.9 L725.9 353.7 L726.0 351.5 L726.2 349.2 L726.4 347.0 L726.6 344.7 L726.9 342.4 L727.1 340.1 L727.5 337.8 L727.8 335.5 L728.2 333.3 L728.7 331.0 L729.2 328.7 L729.7 326.4 L730.3 324.2 L730.9 321.8 L731.6 319.5 L732.4 317.3 L733.1 315.0 L734.0 312.7 L734.9 310.5 L735.9 308.3 L736.9 306.1 L738.0 303.9 L739.2 301.7 L740.5 299.6 L741.8 297.5 L743.0 295.6 L744.7 293.3 L746.3 291.3 L747.7 289.7 L749.9 287.4 L751.8 285.5 L753.7 283.9 L756.1 282.1 L758.4 280.4 L760.8 279.0 L762.9 277.9 L765.5 276.7 L767.9 275.8 L769.8 275.2 L771.8 274.6 L774.2 274.1 L776.8 273.7 L779.3 273.5 L781.5 273.4 L783.8 273.5 L785.9 273.6 L788.1 273.9 L790.3 274.2 L792.4 274.7 L794.5 275.2 L796.6 275.9 L798.7 276.6 L800.8 277.5 L802.8 278.4 L804.8 279.4 L806.8 280.5 L808.8 281.7 L810.8 283.0 L812.8 284.3 L814.7 285.8 L816.6 287.3 L818.5 288.9 L820.0 290.3 L822.3 292.4 L823.9 294.0 L826.0 296.3 L827.8 298.3 L829.7 300.5 L831.5 302.8 L833.2 305.1 L834.9 307.5 L836.3 309.6 L837.6 311.6 L839.0 313.7 L840.2 315.8 L841.3 317.8 L842.4 319.8 L843.4 321.8 L844.4 323.7 L845.3 325.6 L846.3 327.6 L847.2 329.5 L848.0 331.4 L848.8 333.3 L849.6 335.1 L850.4 337.2 L851.2 339.4 L852.0 341.6 L852.9 344.0 L853.5 346.1 L854.4 348.8 L855.2 351.4 L856.0 354.1 L856.7 356.7 L857.4 359.3 L858.0 361.9 L858.6 364.6 L859.2 367.1 L859.8 369.7 L860.3 372.3 L860.8 374.9 L861.3 377.5 L861.7 380.1 L862.1 382.7 L862.4 385.4 L862.8 388.0 L863.0 390.7 L863.3 393.4 L863.5 396.1 L863.6 398.8 L863.6 401.5 L863.6 404.3 L863.6 407.0 L863.5 409.8 L863.3 412.6 L863.1 415.3 L862.9 418.1 L862.7 420.2 L862.4 422.8 L862.0 425.5 L861.5 428.3 L861.1 431.1 L860.5 433.9 L859.9 436.8 L859.3 439.6 L858.6 442.4 L857.9 445.2 L857.1 448.1 L856.2 451.0 L855.6 452.9 L855.0 454.8 L854.3 456.7 L853.7 458.6 L852.9 460.6 L852.2 462.5 L851.4 464.4 L850.6 466.4 L849.7 468.4 L848.9 470.3 L847.9 472.3 L847.0 474.3 L845.9 476.3 L845.0 478.1 L843.8 480.2 L842.6 482.3 L841.4 484.3 L840.1 486.3 L838.8 488.3 L837.6 490.1 L835.9 492.5 L834.4 494.5 L832.9 496.4 L831.0 498.7 L829.1 500.8 L827.2 502.8 L825.3 504.7 L823.6 506.3 L821.4 508.2 L819.7 509.7 L817.5 511.3 L815.6 512.7 L813.6 514.1 L811.7 515.3 L809.7 516.4 L807.7 517.4 L805.7 518.3 L803.7 519.1 L801.7 519.9 L799.7 520.5 L797.6 521.0 L795.6 521.5"/>
<path d="M790.9 532.1 L788.9 532.5 L786.8 532.7 L784.7 532.9 L782.7 532.9 L780.6 532.9 L778.5 532.8 L776.4 532.5 L774.3 532.1 L772.1 531.6 L770.0 531.0 L767.9 530.3 L765.7 529.4 L763.6 528.3 L761.4 527.2 L759.3 525.8 L757.1 524.3 L755.4 523.0 L753.2 521.2 L751.7 519.8 L750.3 518.3 L748.5 516.4 L746.8 514.4 L745.3 512.5 L743.8 510.4 L742.4 508.4 L741.1 506.4 L739.8 504.3 L738.7 502.2 L737.5 500.1 L736.5 498.0 L735.5 495.9 L734.5 493.8 L733.6 491.7 L732.8 489.6 L732.0 487.4 L731.2 485.3 L730.4 483.2 L729.7 481.1 L729.1 478.9 L728.4 476.8 L727.8 474.7 L727.3 472.5 L726.7 470.4 L726.2 468.3 L725.7 466.2 L725.3 464.1 L724.8 462.0 L724.4 459.9 L724.0 457.8 L723.7 455.7 L723.3 453.6 L723.0 451.5 L722.7 449.4 L722.4 447.3 L722.1 445.3 L721.9 443.2 L721.6 441.1 L721.4 439.1 L721.2 437.0 L721.0 435.0 L720.8 433.0 L720.6 430.9 L720.4 428.9 L720.2 426.9 L720.1 424.9 L719.9 422.9 L719.8 420.9 L719.6 418.9 L719.4 415.9 L719.2 412.9 L719.1 410.6 L718.9 407.9 L718.7 405.0 L718.5 402.0 L718.2 399.0 L718.1 397.0 L717.9 395.0 L717.8 393.0 L717.6 391.0 L717.5 388.9 L717.3 386.9 L717.2 384.9 L717.0 382.8 L716.9 380.7 L716.7 378.7 L716.6 376.6 L716.5 374.5 L716.3 372.3 L716.2 370.2 L716.1 368.1 L716.1 365.9 L716.0 363.7 L716.0 361.6 L715.9 359.4 L715.9 357.2 L715.9 354.9 L716.0 352.7 L716.0 350.5 L716.1 348.2 L716.3 346.0 L716.4 343.7 L716.6 341.4 L716.8 339.1 L717.0 336.9 L717.3 334.8 L717.6 332.3 L717.9 330.2 L718.3 327.7 L718.7 325.4 L719.2 323.1 L719.7 320.8 L720.3 318.5 L720.9 316.2 L721.5 313.9 L722.1 311.9 L722.9 309.3 L723.7 307.1 L724.5 304.8 L725.4 302.6 L726.4 300.3 L727.2 298.4 L728.3 296.2 L729.5 294.0 L730.6 292.0 L731.7 290.0 L732.9 288.2 L734.1 286.5 L735.2 284.8 L737.2 282.3 L738.8 280.3 L740.6 278.3 L742.4 276.5 L744.5 274.6 L746.0 273.3 L747.7 272.0 L749.7 270.6 L751.4 269.5 L753.3 268.3 L755.5 267.2 L758.1 266.0 L760.3 265.1 L762.8 264.3 L765.2 263.6 L767.5 263.1 L769.8 262.7 L772.1 262.5 L774.3 262.3 L776.6 262.3 L778.8 262.4 L781.0 262.5 L783.2 262.8 L785.4 263.1 L787.5 263.6 L789.6 264.1 L791.8 264.8 L793.9 265.5 L795.9 266.3 L798.0 267.1 L800.0 268.1 L802.0 269.1 L804.1 270.2 L806.0 271.4 L808.0 272.7 L810.0 274.0 L811.9 275.4 L813.8 276.9 L815.7 278.4 L817.5 280.0 L819.5 281.8 L821.3 283.5 L822.9 285.1 L825.0 287.3 L826.8 289.3 L828.3 291.0 L830.2 293.3 L831.9 295.5 L833.6 297.7 L834.8 299.4 L836.5 301.9 L838.0 304.0 L839.1 305.8 L840.5 308.1 L841.6 310.0 L842.8 312.1 L843.9 314.1 L845.0 316.0 L846.0 317.9 L846.9 319.8 L847.8 321.7 L848.7 323.6 L849.6 325.5 L850.4 327.3 L851.2 329.2 L852.3 331.9 L853.3 334.3 L854.1 336.4 L854.9 338.8 L855.7 340.9 L856.6 343.5 L857.4 346.1 L858.2 348.7 L859.0 351.3 L859.7 353.9 L860.5 356.4 L861.1 359.0 L861.8 361.5 L862.4 364.1 L862.9 366.2 L863.4 368.3 L863.9 370.8 L864.4 373.4 L864.9 375.9 L865.4 378.5 L865.8 381.1 L866.2 383.7 L866.5 386.3 L866.8 389.0 L867.1 391.6 L867.3 394.3 L867.4 397.0 L867.5 399.7 L867.5 402.4 L867.4 405.1 L867.3 407.8 L867.2 410.5 L867.0 413.2 L866.7 416.0 L866.4 418.7 L866.1 421.4 L865.7 424.1 L865.3 426.8 L864.8 429.5 L864.3 432.2 L863.7 434.9 L863.1 437.6 L862.5 440.3 L861.9 442.8 L861.3 444.8 L860.6 447.6 L859.8 450.3 L859.0 453.1 L858.1 455.8 L857.1 458.6 L856.1 461.4 L855.0 464.2 L854.3 466.1 L853.5 468.0 L852.7 469.9 L851.9 471.8 L851.0 473.7 L850.2 475.6 L849.2 477.5 L848.3 479.4 L847.3 481.4 L846.2 483.3 L845.2 485.1 L844.0 487.2 L842.8 489.2 L841.7 491.1 L840.3 493.2 L839.0 495.3 L837.5 497.3 L836.2 499.1 L834.5 501.4 L832.8 503.5 L831.1 505.6 L829.2 507.8 L827.2 509.9 L825.2 512.1 L823.3 513.9 L821.6 515.5 L819.5 517.3 L817.6 518.9 L815.9 520.2 L814.3 521.4 L812.5 522.7 L810.8 523.8 L808.9 525.0 L806.9 526.1 L805.0 527.2 L803.1 528.1 L801.0 529.0 L799.0 529.8 L797.0 530.5 L795.0 531.2 L792.9 531.7 L790.9 532.1"/>
<path d="M788.9 540.2 L786.8 540.6 L784.8 540.9 L782.7 541.1 L780.6 541.2 L778.6 541.2 L776.5 541.1 L774.4 540.9 L772.3 540.5 L770.1 540.1 L768.0 539.6 L765.9 538.9 L763.8 538.2 L761.6 537.3 L759.5 536.2 L757.3 535.0 L755.4 533.8 L753.0 532.2 L750.8 530.5 L748.7 528.6 L746.5 526.6 L744.6 524.6 L742.9 522.6 L741.3 520.6 L739.8 518.6 L738.4 516.6 L737.0 514.6 L735.7 512.5 L734.5 510.4 L733.4 508.4 L732.3 506.3 L731.2 504.2 L730.2 502.1 L729.3 500.0 L728.4 497.9 L727.5 495.7 L726.7 493.6 L725.9 491.5 L725.2 489.4 L724.5 487.2 L723.8 485.1 L723.2 483.0 L722.5 480.9 L722.0 478.7 L721.4 476.6 L720.9 474.5 L720.4 472.4 L719.9 470.3 L719.4 468.1 L719.0 466.1 L718.6 463.9 L718.2 461.9 L717.8 459.7 L717.5 457.6 L717.1 455.5 L716.8 453.5 L716.5 451.4 L716.2 449.3 L716.0 447.2 L715.7 445.2 L715.5 443.1 L715.3 441.1 L715.0 439.0 L714.8 437.0 L714.6 435.0 L714.5 432.9 L714.3 430.9 L714.1 428.9 L713.9 426.9 L713.8 424.9 L713.6 422.9 L713.5 420.9 L713.3 418.9 L713.1 415.9 L712.9 412.9 L712.7 409.9 L712.5 407.0 L712.3 404.0 L712.1 401.0 L711.9 398.0 L711.7 396.0 L711.6 394.0 L711.4 392.0 L711.2 390.0 L711.1 387.9 L710.9 385.9 L710.8 383.8 L710.6 381.8 L710.5 379.7 L710.3 377.6 L710.2 375.6 L710.0 373.5 L709.9 371.3 L709.8 369.2 L709.7 367.1 L709.6 364.9 L709.6 362.9 L709.5 360.6 L709.5 358.4 L709.4 356.2 L709.4 354.0 L709.5 351.8 L709.5 349.6 L709.6 347.3 L709.6 345.1 L709.8 342.8 L709.9 340.5 L710.1 338.3 L710.3 336.0 L710.5 333.7 L710.7 331.4 L711.0 329.1 L711.4 326.8 L711.7 324.5 L712.1 322.2 L712.5 319.9 L713.0 317.8 L713.5 315.3 L714.1 313.0 L714.7 310.8 L715.3 308.5 L716.0 306.2 L716.7 303.9 L717.5 301.7 L718.3 299.4 L719.2 297.2 L720.1 294.9 L721.1 292.7 L722.2 290.5 L723.3 288.3 L724.4 286.1 L725.7 284.0 L727.0 281.9 L728.3 279.8 L729.8 277.7 L731.3 275.7 L733.0 273.7 L734.5 271.9 L736.5 269.8 L738.1 268.2 L740.5 266.1 L742.8 264.3 L745.1 262.6 L747.7 261.0 L750.2 259.6 L752.0 258.7 L754.9 257.4 L756.9 256.7 L759.7 255.8 L762.0 255.2 L764.3 254.8 L766.6 254.4 L768.9 254.1 L771.1 254.0 L773.4 254.0 L775.6 254.0 L777.8 254.2 L780.0 254.4 L782.2 254.8 L784.4 255.2 L786.5 255.7 L788.6 256.3 L790.7 257.0 L792.8 257.8 L794.9 258.6 L797.0 259.5 L798.8 260.4 L801.0 261.5 L803.0 262.7 L805.0 263.9 L807.0 265.1 L809.0 266.5 L810.9 267.9 L812.9 269.4 L814.8 270.9 L816.7 272.5 L818.6 274.2 L820.4 276.0 L822.3 277.8 L823.7 279.3 L825.9 281.6 L827.8 283.7 L829.6 285.8 L830.9 287.4 L832.2 289.1 L833.5 290.7 L834.9 292.6 L836.6 295.0 L838.0 297.1 L839.2 298.9 L840.7 301.2 L841.8 303.0 L843.1 305.2 L844.3 307.2 L845.4 309.2 L846.4 311.1 L847.5 313.1 L848.4 315.0 L849.4 316.9 L850.2 318.7 L851.2 320.6 L852.0 322.5 L852.8 324.3 L854.0 327.1 L855.1 329.8 L856.1 332.3 L856.8 334.3 L857.7 336.9 L858.6 339.3 L859.3 341.4 L860.2 344.0 L861.0 346.6 L861.8 349.2 L862.5 351.8 L863.2 354.4 L863.9 356.8 L864.6 359.5 L865.2 362.0 L865.8 364.6 L866.4 367.2 L867.0 369.7 L867.5 372.3 L868.0 374.9 L868.4 377.5 L868.9 380.1 L869.3 382.7 L869.6 385.4 L869.9 388.0 L870.2 390.7 L870.4 393.4 L870.6 396.1 L870.7 398.8 L870.7 401.5 L870.7 404.3 L870.6 407.0 L870.4 409.7 L870.3 412.5 L870.0 415.2 L869.7 417.9 L869.5 420.2 L869.2 422.4 L868.8 425.2 L868.3 427.9 L867.9 430.6 L867.3 433.3 L866.8 436.0 L866.2 438.7 L865.5 441.5 L864.9 444.2 L864.1 446.9 L863.4 449.6 L862.6 452.4 L861.7 455.1 L860.8 457.9 L859.9 460.7 L858.9 463.5 L857.8 466.3 L857.1 468.1 L856.4 470.0 L855.6 471.9 L854.8 473.8 L853.9 475.7 L853.1 477.6 L852.2 479.5 L851.2 481.4 L850.3 483.3 L849.3 485.3 L848.2 487.2 L847.2 489.2 L846.0 491.1 L844.9 493.1 L843.7 495.1 L842.4 497.1 L841.1 499.1 L839.9 500.8 L838.3 503.2 L836.8 505.2 L835.4 507.1 L833.6 509.4 L831.8 511.5 L830.0 513.6 L828.0 515.8 L826.1 517.8 L824.2 519.7 L822.5 521.3 L820.4 523.2 L818.7 524.7 L816.6 526.4 L814.7 527.9 L812.8 529.3 L810.8 530.6 L808.9 531.9 L806.9 533.1 L805.0 534.2 L803.0 535.2 L801.0 536.2 L799.0 537.1 L797.0 537.8 L795.0 538.6 L793.0 539.2 L790.9 539.7 L788.9 540.2"/>
<path d="M785.9 548.1 L783.9 548.5 L781.8 548.8 L779.7 549.0 L777.7 549.1 L775.6 549.1 L773.5 549.1 L771.4 548.9 L769.3 548.7 L767.1 548.3 L765.0 547.8 L762.9 547.2 L760.7 546.5 L758.6 545.6 L756.4 544.7 L754.6 543.7 L752.1 542.3 L750.4 541.1 L747.9 539.4 L745.7 537.5 L743.6 535.6 L741.7 533.7 L739.9 531.8 L738.2 529.8 L736.6 527.8 L735.1 525.8 L733.7 523.7 L732.3 521.7 L731.1 519.6 L729.9 517.5 L728.9 515.7 L727.9 513.8 L726.9 511.8 L725.9 509.7 L725.0 507.5 L724.0 505.3 L723.1 502.9 L722.1 500.5 L721.4 498.4 L720.6 496.2 L719.9 494.1 L719.3 492.0 L718.6 489.8 L718.0 487.7 L717.4 485.6 L716.9 483.4 L716.3 481.3 L715.8 479.2 L715.3 477.1 L714.8 474.9 L714.4 472.8 L714.0 470.7 L713.6 468.7 L713.2 466.5 L712.8 464.5 L712.4 462.4 L712.1 460.3 L711.7 458.2 L711.4 456.1 L711.1 454.1 L710.8 452.0 L710.6 450.0 L710.3 447.9 L710.0 445.9 L709.8 443.9 L709.6 441.8 L709.3 439.8 L709.1 437.8 L708.9 435.8 L708.7 433.8 L708.5 431.8 L708.3 429.8 L708.1 427.8 L708.0 425.8 L707.7 422.8 L707.4 419.8 L707.2 416.8 L706.9 413.9 L706.7 410.9 L706.4 407.9 L706.2 405.0 L705.9 402.0 L705.7 399.0 L705.5 397.0 L705.3 395.0 L705.1 393.0 L705.0 391.0 L704.8 388.9 L704.6 386.9 L704.4 384.9 L704.2 382.8 L704.1 380.8 L703.9 378.7 L703.7 376.6 L703.6 374.5 L703.4 372.4 L703.3 370.3 L703.2 368.2 L703.1 366.0 L703.0 363.9 L702.9 361.7 L702.8 359.5 L702.7 357.4 L702.7 355.2 L702.7 353.0 L702.7 350.7 L702.7 348.5 L702.7 346.3 L702.8 344.1 L702.9 341.8 L703.0 339.5 L703.1 337.3 L703.3 335.0 L703.5 332.7 L703.7 330.4 L703.9 328.2 L704.2 325.9 L704.5 323.6 L704.8 321.3 L705.2 319.0 L705.6 316.7 L706.1 314.4 L706.6 312.1 L707.1 309.8 L707.6 307.5 L708.2 305.2 L708.9 302.9 L709.6 300.6 L710.3 298.4 L711.0 296.4 L711.9 293.9 L712.8 291.6 L713.7 289.4 L714.6 287.2 L715.7 285.0 L716.8 282.8 L717.9 280.6 L719.1 278.4 L720.4 276.3 L721.7 274.2 L723.1 272.1 L724.3 270.5 L726.2 268.0 L727.8 266.0 L729.6 264.1 L731.4 262.2 L733.4 260.3 L735.1 258.8 L737.5 256.9 L739.9 255.1 L742.3 253.6 L744.7 252.2 L746.9 251.1 L749.5 249.9 L751.8 249.0 L754.2 248.2 L756.5 247.5 L758.9 247.0 L761.2 246.5 L763.5 246.2 L765.8 246.0 L768.0 245.9 L770.3 245.9 L772.5 245.9 L774.7 246.1 L776.9 246.4 L779.1 246.7 L781.3 247.1 L783.4 247.6 L785.6 248.2 L787.7 248.9 L789.8 249.6 L791.9 250.4 L793.9 251.3 L796.0 252.3 L798.0 253.3 L800.1 254.4 L802.1 255.5 L804.1 256.8 L806.0 258.1 L808.0 259.4 L810.0 260.8 L811.9 262.3 L813.8 263.9 L815.7 265.5 L817.6 267.1 L819.3 268.7 L821.4 270.7 L823.1 272.4 L825.0 274.5 L826.4 276.0 L827.8 277.5 L829.4 279.4 L831.3 281.7 L833.0 283.9 L834.7 286.0 L836.3 288.2 L837.6 290.0 L839.2 292.4 L840.6 294.5 L841.9 296.5 L843.1 298.5 L844.3 300.5 L845.5 302.5 L846.6 304.5 L847.7 306.4 L848.7 308.4 L849.7 310.3 L850.7 312.2 L851.6 314.1 L852.5 315.9 L853.3 317.8 L854.2 319.7 L855.0 321.5 L856.2 324.2 L857.1 326.6 L858.0 328.7 L858.8 330.9 L859.7 333.2 L860.5 335.5 L861.3 337.6 L862.1 340.3 L863.0 342.9 L863.8 345.5 L864.6 348.1 L865.4 350.6 L866.1 353.2 L866.8 355.8 L867.5 358.4 L868.1 360.9 L868.7 363.5 L869.3 366.1 L869.9 368.6 L870.4 371.2 L870.9 373.8 L871.3 375.8 L871.7 378.2 L872.1 380.8 L872.5 383.5 L872.8 385.6 L873.0 387.9 L873.3 390.6 L873.5 393.4 L873.7 396.1 L873.8 398.8 L873.8 401.6 L873.8 404.3 L873.7 407.1 L873.5 409.8 L873.3 412.6 L873.1 415.3 L872.8 418.0 L872.5 420.4 L872.2 422.6 L871.8 425.3 L871.4 428.1 L870.9 430.8 L870.4 433.5 L869.8 436.2 L869.3 438.9 L868.7 441.4 L868.2 443.5 L867.5 446.2 L866.8 448.6 L866.2 450.7 L865.4 453.5 L864.6 456.2 L863.7 459.0 L862.8 461.7 L861.8 464.5 L860.8 467.3 L859.7 470.0 L858.9 471.9 L858.2 473.8 L857.4 475.7 L856.5 477.5 L855.7 479.4 L854.8 481.3 L853.9 483.2 L853.0 485.1 L852.0 487.0 L851.0 489.0 L850.0 490.9 L849.0 492.7 L847.8 494.8 L846.6 496.8 L845.5 498.7 L844.2 500.7 L842.9 502.7 L841.8 504.5 L840.2 506.7 L839.0 508.4 L837.3 510.8 L835.7 512.8 L834.0 514.9 L832.6 516.6 L830.8 518.8 L828.9 520.9 L827.5 522.3 L826.1 523.8 L824.3 525.6 L822.3 527.5 L820.8 529.0 L818.5 530.9 L816.7 532.4 L814.7 534.0 L812.8 535.4 L810.9 536.8 L808.9 538.1 L807.0 539.4 L805.0 540.6 L803.0 541.7 L801.1 542.7 L799.1 543.7 L797.1 544.5 L795.1 545.4 L793.1 546.1 L791.0 546.8 L789.0 547.4 L787.0 547.9 L785.9 548.1"/>
<path d="M784.9 556.0 L782.9 556.5 L780.8 556.9 L778.8 557.2 L776.7 557.4 L774.6 557.6 L772.5 557.6 L770.4 557.6 L768.3 557.5 L766.2 557.2 L764.1 556.9 L761.9 556.4 L759.8 555.9 L757.7 555.2 L755.6 554.4 L753.4 553.5 L751.2 552.4 L749.1 551.2 L746.9 549.9 L745.0 548.5 L742.6 546.7 L740.5 544.8 L738.4 542.9 L736.5 540.9 L735.2 539.4 L733.2 536.9 L731.6 534.9 L730.2 532.8 L729.0 531.0 L727.5 528.7 L726.2 526.6 L725.1 524.5 L723.9 522.4 L723.0 520.4 L722.0 518.4 L721.0 516.3 L720.1 514.1 L719.1 511.8 L718.3 509.6 L717.5 507.4 L716.7 505.3 L716.0 503.1 L715.3 501.0 L714.6 499.0 L713.9 496.7 L713.3 494.5 L712.8 492.4 L712.2 490.2 L711.7 488.1 L711.1 486.0 L710.6 483.8 L710.2 481.7 L709.7 479.6 L709.3 477.5 L708.9 475.4 L708.5 473.3 L708.1 471.2 L707.7 469.1 L707.3 467.1 L707.0 465.0 L706.6 462.9 L706.3 460.9 L706.0 458.8 L705.7 456.8 L705.4 454.7 L705.1 452.7 L704.8 450.7 L704.6 448.6 L704.3 446.6 L704.1 444.6 L703.8 442.6 L703.6 440.6 L703.4 438.6 L703.1 436.6 L702.9 434.6 L702.6 431.6 L702.3 428.7 L702.0 425.7 L701.8 423.7 L701.5 420.8 L701.2 417.8 L700.9 414.8 L700.6 411.9 L700.4 409.8 L700.1 406.9 L699.8 404.0 L699.5 401.0 L699.3 399.0 L699.1 397.0 L698.9 395.0 L698.7 393.0 L698.5 391.0 L698.3 388.9 L698.1 386.9 L697.9 384.9 L697.7 382.8 L697.5 380.8 L697.3 378.7 L697.1 376.6 L696.9 374.5 L696.8 372.4 L696.6 370.3 L696.4 368.2 L696.3 366.0 L696.2 363.9 L696.1 361.7 L696.0 359.6 L695.9 357.4 L695.8 355.2 L695.7 353.0 L695.7 350.8 L695.7 348.6 L695.7 346.4 L695.7 344.1 L695.8 341.9 L695.8 339.6 L695.9 337.4 L696.0 335.1 L696.2 332.8 L696.3 330.8 L696.5 328.3 L696.7 326.0 L697.0 323.7 L697.3 321.4 L697.6 319.1 L697.9 316.8 L698.3 314.5 L698.7 312.2 L699.1 309.9 L699.6 307.6 L700.1 305.3 L700.6 303.0 L701.2 300.7 L701.8 298.5 L702.5 296.2 L703.2 293.9 L703.9 291.6 L704.7 289.4 L705.6 287.1 L706.3 285.2 L707.4 282.7 L708.3 280.5 L709.4 278.3 L710.5 276.1 L711.6 273.9 L712.8 271.8 L714.1 269.6 L715.3 267.7 L716.4 266.0 L717.6 264.3 L719.0 262.4 L720.6 260.3 L722.3 258.4 L724.1 256.4 L725.9 254.5 L727.9 252.6 L729.6 251.1 L732.0 249.2 L734.4 247.5 L736.8 245.9 L739.3 244.5 L741.4 243.4 L744.0 242.2 L746.3 241.3 L748.8 240.4 L751.1 239.7 L753.5 239.1 L755.8 238.6 L758.1 238.2 L760.4 238.0 L762.7 237.8 L765.0 237.8 L767.2 237.8 L769.4 237.9 L771.7 238.1 L773.9 238.4 L776.0 238.7 L778.2 239.2 L780.4 239.7 L782.5 240.3 L784.6 241.0 L786.8 241.7 L788.8 242.5 L790.9 243.4 L793.0 244.3 L795.0 245.3 L797.1 246.4 L799.0 247.4 L801.1 248.7 L803.1 250.0 L805.1 251.3 L807.1 252.7 L808.7 253.9 L810.6 255.3 L812.3 256.7 L814.0 258.1 L815.5 259.4 L817.6 261.3 L819.5 263.1 L821.0 264.6 L823.2 266.8 L825.0 268.7 L826.7 270.5 L828.7 272.8 L830.5 274.9 L832.3 277.1 L834.1 279.4 L835.8 281.6 L837.3 283.8 L838.8 285.9 L840.2 287.9 L841.6 290.0 L842.8 291.9 L844.1 294.0 L845.3 296.0 L846.5 298.0 L847.6 299.9 L848.7 301.9 L849.8 303.8 L850.8 305.7 L851.8 307.6 L852.7 309.5 L853.6 311.4 L854.5 313.2 L855.4 315.1 L856.2 316.9 L857.3 319.3 L858.1 321.3 L858.9 323.3 L859.8 325.4 L860.7 327.6 L861.4 329.5 L862.4 332.1 L863.3 334.5 L864.0 336.5 L864.9 339.2 L865.7 341.8 L866.6 344.3 L867.4 346.9 L868.1 349.5 L868.8 351.8 L869.4 353.8 L870.1 356.3 L870.7 358.9 L871.4 361.5 L872.0 364.0 L872.6 366.6 L873.2 369.2 L873.7 371.8 L874.2 374.5 L874.7 377.1 L875.2 379.8 L875.6 382.4 L875.9 385.1 L876.2 387.9 L876.5 390.6 L876.7 393.3 L876.9 396.1 L877.0 398.8 L877.0 401.6 L876.9 404.4 L876.8 407.2 L876.7 409.9 L876.5 412.7 L876.2 415.5 L875.9 418.2 L875.6 421.0 L875.2 423.7 L874.8 426.4 L874.3 429.2 L873.8 431.9 L873.2 434.6 L872.7 437.3 L872.1 440.0 L871.4 442.7 L870.7 445.4 L870.0 448.2 L869.2 450.9 L868.4 453.6 L867.8 455.5 L867.0 458.1 L866.1 460.9 L865.2 463.6 L864.2 466.3 L863.3 468.8 L862.5 470.9 L861.5 473.4 L860.6 475.6 L859.8 477.4 L859.0 479.3 L858.2 481.2 L857.3 483.1 L856.4 485.0 L855.5 486.8 L854.6 488.8 L853.6 490.7 L852.6 492.6 L851.6 494.5 L850.5 496.4 L849.4 498.4 L848.3 500.3 L847.2 502.1 L845.9 504.3 L844.6 506.2 L843.3 508.2 L842.0 510.2 L840.6 512.3 L839.1 514.3 L837.6 516.3 L836.3 518.0 L834.5 520.3 L832.6 522.6 L830.8 524.7 L828.9 526.8 L827.0 528.8 L825.2 530.8 L823.6 532.3 L821.4 534.5 L819.5 536.2 L817.6 537.9 L816.1 539.2 L813.8 541.0 L811.8 542.5 L809.9 543.9 L807.9 545.3 L806.0 546.6 L804.0 547.8 L802.0 549.0 L800.1 550.1 L798.1 551.1 L796.1 552.0 L794.1 552.9 L792.1 553.7 L790.0 554.5 L788.0 555.1 L786.0 555.7 L784.9 556.0"/>
<path d="M784.9 563.1 L782.9 563.7 L780.8 564.2 L778.7 564.6 L776.7 564.9 L774.6 565.2 L772.5 565.4 L770.4 565.5 L768.3 565.5 L766.2 565.4 L764.1 565.2 L762.0 564.9 L759.9 564.6 L757.8 564.1 L755.6 563.5 L753.5 562.8 L751.4 561.9 L749.3 561.0 L747.1 559.9 L744.9 558.6 L743.2 557.5 L740.7 555.7 L738.5 554.0 L736.4 552.2 L734.2 550.1 L732.3 548.1 L730.6 546.1 L729.0 544.1 L727.4 542.1 L725.9 540.0 L724.6 538.0 L723.2 535.9 L722.0 533.8 L720.8 531.7 L719.8 529.8 L718.8 527.9 L717.8 525.9 L716.8 523.8 L715.9 521.7 L714.9 519.4 L714.0 517.1 L713.0 514.7 L712.2 512.6 L711.5 510.5 L710.8 508.3 L710.1 506.2 L709.4 504.1 L708.8 501.9 L708.1 499.7 L707.6 497.6 L707.0 495.5 L706.4 493.3 L705.9 491.2 L705.4 489.1 L705.0 487.0 L704.5 484.8 L704.0 482.7 L703.6 480.7 L703.2 478.5 L702.8 476.4 L702.4 474.3 L702.1 472.2 L701.7 470.2 L701.4 468.1 L701.0 466.0 L700.7 464.0 L700.4 461.9 L700.1 459.9 L699.8 457.8 L699.5 455.8 L699.3 453.7 L699.0 451.7 L698.7 449.7 L698.5 447.7 L698.3 445.6 L698.0 443.6 L697.8 441.6 L697.6 439.6 L697.4 437.6 L697.1 435.6 L696.9 433.6 L696.7 431.5 L696.4 428.7 L696.1 425.7 L695.8 422.7 L695.5 419.8 L695.2 416.8 L695.0 413.9 L694.7 410.9 L694.4 407.9 L694.1 405.0 L693.8 402.0 L693.6 400.0 L693.4 398.0 L693.2 396.0 L693.0 394.0 L692.8 392.0 L692.6 390.0 L692.4 387.9 L692.2 385.9 L692.0 383.9 L691.8 381.8 L691.6 379.7 L691.4 377.7 L691.2 375.6 L691.0 373.5 L690.9 371.4 L690.7 369.3 L690.5 367.2 L690.4 365.1 L690.3 362.9 L690.1 360.8 L690.0 358.6 L689.9 356.4 L689.8 354.3 L689.8 352.1 L689.7 349.9 L689.7 347.7 L689.7 345.4 L689.7 343.2 L689.7 341.0 L689.7 338.7 L689.8 336.5 L689.9 334.2 L690.0 332.0 L690.1 329.7 L690.3 327.4 L690.4 325.2 L690.6 323.1 L690.9 320.6 L691.1 318.3 L691.4 316.0 L691.7 313.7 L692.1 311.4 L692.5 309.1 L692.9 306.8 L693.3 304.5 L693.8 302.2 L694.3 299.9 L694.8 297.7 L695.4 295.4 L696.0 293.1 L696.7 290.8 L697.4 288.5 L698.1 286.3 L698.9 284.2 L699.7 281.8 L700.6 279.5 L701.5 277.3 L702.5 275.1 L703.5 272.9 L704.5 270.7 L705.7 268.5 L706.8 266.3 L708.1 264.2 L709.3 262.1 L710.7 260.0 L712.1 257.9 L713.3 256.2 L715.2 253.8 L716.9 251.8 L718.6 249.8 L720.5 247.9 L722.4 246.0 L724.1 244.5 L726.5 242.5 L728.9 240.7 L731.3 239.0 L733.7 237.6 L735.7 236.5 L738.5 235.1 L740.4 234.3 L743.2 233.2 L745.6 232.4 L747.9 231.7 L750.2 231.2 L752.6 230.8 L754.9 230.4 L757.2 230.2 L759.5 230.0 L761.7 230.0 L764.0 230.0 L766.2 230.1 L768.4 230.3 L770.6 230.6 L772.8 231.0 L775.0 231.4 L777.2 231.9 L779.3 232.5 L781.5 233.1 L783.6 233.9 L785.7 234.6 L787.8 235.5 L789.9 236.4 L791.9 237.4 L794.0 238.4 L796.0 239.5 L798.1 240.7 L800.1 241.9 L801.9 243.1 L804.1 244.5 L806.0 245.9 L808.0 247.4 L809.9 248.9 L811.9 250.4 L813.5 251.8 L815.0 253.1 L816.7 254.6 L818.5 256.4 L820.4 258.2 L822.3 260.1 L824.0 261.9 L826.0 264.0 L827.8 266.0 L829.2 267.7 L830.5 269.2 L832.0 271.0 L833.8 273.2 L835.0 274.8 L836.3 276.5 L837.7 278.4 L839.3 280.7 L840.8 282.8 L842.1 284.8 L843.5 286.9 L844.7 288.8 L846.0 290.9 L847.2 292.9 L848.3 294.8 L849.4 296.8 L850.5 298.7 L851.5 300.7 L852.5 302.6 L853.5 304.5 L854.5 306.4 L855.4 308.2 L856.3 310.1 L857.2 311.9 L858.0 313.8 L858.8 315.6 L860.0 318.4 L861.0 320.7 L861.8 322.8 L862.6 324.7 L863.6 327.2 L864.3 329.1 L865.3 331.7 L866.2 334.4 L867.1 337.0 L868.0 339.6 L868.8 342.2 L869.6 344.8 L870.4 347.4 L871.2 350.0 L871.9 352.6 L872.6 355.1 L873.3 357.7 L873.9 360.3 L874.6 362.9 L875.2 365.5 L875.8 368.1 L876.3 370.8 L876.8 373.4 L877.3 376.1 L877.8 378.7 L878.2 381.4 L878.5 384.2 L878.9 386.9 L879.1 389.6 L879.4 392.4 L879.5 395.1 L879.6 397.9 L879.7 400.7 L879.7 403.5 L879.6 406.3 L879.4 409.1 L879.3 411.9 L879.0 414.6 L878.8 417.4 L878.4 420.2 L878.1 422.9 L877.6 425.7 L877.2 428.4 L876.8 430.8 L876.4 433.0 L875.8 435.7 L875.2 438.5 L874.7 440.6 L874.2 443.0 L873.5 445.7 L872.8 448.4 L872.0 451.2 L871.2 453.9 L870.4 456.6 L869.6 459.4 L868.7 462.1 L867.7 464.9 L866.8 467.6 L865.7 470.4 L864.7 473.2 L863.6 475.9 L862.8 477.8 L862.0 479.7 L861.2 481.5 L860.4 483.4 L859.6 485.3 L858.7 487.2 L857.8 489.1 L856.8 491.0 L855.9 492.9 L854.9 494.8 L853.9 496.7 L852.9 498.7 L851.9 500.5 L850.7 502.6 L849.5 504.5 L848.3 506.5 L847.1 508.5 L845.9 510.4 L844.6 512.4 L843.2 514.5 L841.9 516.4 L840.4 518.5 L839.1 520.2 L837.3 522.6 L835.7 524.7 L834.0 526.8 L832.7 528.4 L831.4 530.0 L829.9 531.7 L828.5 533.2 L827.1 534.7 L825.4 536.4 L823.3 538.6 L821.4 540.4 L819.7 542.0 L817.6 543.9 L815.7 545.5 L813.7 547.2 L811.8 548.7 L809.9 550.1 L807.9 551.6 L806.0 552.8 L804.1 554.1 L802.0 555.4 L800.0 556.5 L798.0 557.6 L796.0 558.7 L794.0 559.6 L792.0 560.5 L790.0 561.3 L788.0 562.1 L785.9 562.8 L784.9 563.1"/>
<path d="M780.7 572.1 L778.7 572.6 L776.6 573.1 L774.5 573.5 L772.5 573.8 L770.4 574.0 L768.3 574.2 L766.2 574.2 L764.1 574.2 L762.0 574.1 L759.9 573.9 L757.8 573.6 L755.7 573.2 L753.6 572.6 L751.4 572.0 L749.3 571.3 L747.2 570.4 L745.1 569.4 L742.9 568.3 L740.8 567.1 L738.9 565.8 L736.5 564.1 L734.4 562.4 L732.3 560.5 L730.2 558.5 L728.1 556.3 L726.3 554.3 L724.9 552.5 L723.2 550.2 L721.8 548.3 L720.3 546.1 L719.0 544.0 L717.8 541.9 L716.7 540.2 L715.7 538.3 L714.7 536.4 L713.8 534.6 L712.8 532.5 L711.8 530.3 L710.9 528.2 L710.0 526.1 L709.1 523.9 L708.3 521.8 L707.5 519.7 L706.7 517.5 L706.0 515.4 L705.3 513.2 L704.6 511.1 L704.0 509.0 L703.4 506.8 L702.8 504.7 L702.2 502.6 L701.6 500.4 L701.1 498.3 L700.6 496.2 L700.1 494.0 L699.6 491.9 L699.1 489.8 L698.7 487.7 L698.3 485.6 L697.9 483.5 L697.5 481.4 L697.1 479.3 L696.7 477.2 L696.3 475.2 L696.0 473.1 L695.6 471.0 L695.3 469.0 L695.0 466.9 L694.7 464.9 L694.4 462.8 L694.1 460.8 L693.8 458.7 L693.5 456.7 L693.2 454.7 L693.0 452.7 L692.7 450.7 L692.4 448.6 L692.2 446.6 L692.0 444.6 L691.7 442.6 L691.5 440.6 L691.3 438.6 L691.0 436.7 L690.7 433.7 L690.4 430.7 L690.1 427.7 L689.8 424.8 L689.5 421.8 L689.2 418.8 L688.9 415.9 L688.6 412.9 L688.3 409.9 L688.0 407.0 L687.7 404.0 L687.5 401.0 L687.3 399.0 L687.1 397.0 L686.9 395.0 L686.7 393.0 L686.6 391.0 L686.4 389.0 L686.2 386.9 L686.0 384.9 L685.9 382.9 L685.7 380.8 L685.5 378.8 L685.4 376.7 L685.3 374.7 L685.1 372.6 L685.0 370.5 L684.9 368.4 L684.8 366.3 L684.7 364.2 L684.6 362.1 L684.5 360.0 L684.4 357.9 L684.4 355.7 L684.3 353.6 L684.3 351.4 L684.3 349.3 L684.3 347.1 L684.3 345.0 L684.3 342.8 L684.4 340.6 L684.5 338.4 L684.6 336.2 L684.7 334.0 L684.8 331.8 L684.9 329.6 L685.1 327.4 L685.3 325.2 L685.5 323.0 L685.7 320.8 L686.0 318.5 L686.3 316.3 L686.6 314.1 L686.9 311.8 L687.3 309.6 L687.7 307.4 L688.1 305.2 L688.5 302.9 L689.0 300.7 L689.5 298.5 L690.0 296.2 L690.6 294.0 L691.2 291.8 L691.8 289.6 L692.4 287.4 L693.1 285.1 L693.9 282.9 L694.6 280.7 L695.4 278.5 L696.3 276.4 L697.2 274.2 L698.1 272.0 L699.1 269.9 L699.9 268.0 L701.0 265.8 L702.1 263.7 L703.2 261.7 L704.3 259.7 L705.5 257.9 L706.6 256.1 L707.7 254.4 L708.9 252.7 L710.1 251.0 L711.6 249.0 L713.3 247.0 L714.6 245.4 L716.8 243.1 L718.7 241.2 L720.4 239.5 L722.7 237.5 L725.0 235.7 L727.4 234.0 L729.7 232.5 L731.5 231.4 L734.3 229.8 L736.6 228.7 L738.9 227.8 L741.2 226.9 L743.2 226.2 L745.3 225.6 L747.7 225.0 L750.2 224.5 L752.6 224.2 L754.8 223.9 L757.0 223.7 L759.2 223.6 L761.4 223.6 L763.6 223.7 L765.8 223.9 L768.0 224.1 L770.1 224.4 L772.3 224.8 L774.4 225.3 L776.5 225.8 L778.6 226.4 L780.7 227.0 L782.8 227.7 L784.9 228.5 L787.0 229.3 L789.0 230.2 L791.1 231.2 L793.1 232.2 L795.0 233.2 L797.1 234.4 L799.1 235.6 L801.1 236.9 L803.1 238.2 L805.1 239.5 L807.0 241.0 L809.0 242.4 L810.9 244.0 L812.8 245.5 L814.7 247.2 L816.7 248.9 L818.5 250.6 L820.2 252.1 L822.3 254.2 L823.7 255.7 L825.9 258.0 L827.9 260.1 L829.7 262.2 L831.5 264.3 L833.3 266.5 L835.1 268.8 L836.9 271.1 L838.5 273.2 L840.0 275.2 L841.4 277.2 L842.9 279.3 L844.1 281.2 L845.5 283.4 L846.7 285.3 L848.0 287.3 L849.2 289.3 L850.2 291.1 L851.4 293.2 L852.5 295.1 L853.6 297.1 L854.6 298.9 L855.5 300.9 L856.5 302.7 L857.4 304.6 L858.3 306.5 L859.2 308.3 L860.1 310.2 L860.9 312.0 L861.7 313.9 L862.9 316.6 L864.0 319.3 L865.0 321.7 L865.8 323.8 L866.8 326.3 L867.5 328.3 L868.5 330.9 L869.4 333.6 L870.3 336.2 L871.2 338.9 L872.0 341.5 L872.8 344.1 L873.6 346.8 L874.3 349.2 L875.0 352.0 L875.7 354.6 L876.4 357.2 L877.0 359.9 L877.5 361.9 L878.0 364.3 L878.6 366.9 L879.2 369.6 L879.7 372.3 L880.0 374.3 L880.4 376.8 L880.8 379.5 L881.2 382.2 L881.5 384.7 L881.7 386.8 L882.0 389.6 L882.2 392.3 L882.3 395.1 L882.4 397.9 L882.5 400.7 L882.4 403.5 L882.3 406.3 L882.2 409.1 L882.1 411.3 L881.9 413.8 L881.6 416.6 L881.3 419.4 L881.0 421.9 L880.7 424.0 L880.3 426.8 L879.9 429.0 L879.5 431.4 L879.0 434.1 L878.4 436.9 L877.9 439.6 L877.2 442.4 L876.6 445.1 L875.9 447.8 L875.2 450.6 L874.4 453.3 L873.6 456.1 L873.0 458.1 L872.2 460.7 L871.3 463.4 L870.4 466.2 L869.4 469.0 L868.4 471.7 L867.5 474.3 L866.7 476.4 L865.9 478.3 L865.2 480.1 L864.4 482.0 L863.6 483.9 L862.8 485.8 L861.9 487.7 L861.1 489.6 L860.2 491.5 L859.3 493.4 L858.3 495.3 L857.4 497.2 L856.4 499.2 L855.3 501.1 L854.3 503.0 L853.2 505.0 L852.1 506.9 L850.9 508.9 L849.8 510.9 L848.5 512.9 L847.3 514.9 L846.0 516.9 L844.8 518.7 L843.3 520.9 L842.0 522.7 L840.4 525.0 L838.8 527.1 L837.4 528.9 L835.6 531.2 L833.9 533.3 L832.1 535.5 L830.3 537.6 L828.3 539.8 L826.3 541.9 L824.3 544.1 L822.4 546.0 L820.8 547.5 L818.5 549.6 L817.0 550.9 L814.7 553.0 L812.9 554.4 L810.8 556.1 L808.8 557.6 L806.9 559.1 L804.9 560.4 L802.9 561.8 L800.9 563.0 L798.9 564.2 L796.9 565.3 L794.9 566.4 L792.9 567.4 L790.9 568.4 L788.9 569.2 L786.9 570.1 L784.8 570.8 L782.8 571.5 L780.7 572.1"/>
<path d="M779.0 578.6 L777.0 579.1 L775.0 579.6 L773.0 580.0 L770.9 580.3 L768.9 580.5 L766.8 580.7 L764.8 580.8 L762.7 580.8 L760.7 580.7 L758.6 580.5 L756.6 580.3 L754.5 579.9 L752.4 579.5 L750.4 578.9 L748.3 578.3 L746.2 577.5 L744.1 576.6 L742.0 575.6 L739.9 574.5 L738.1 573.4 L735.7 571.9 L734.1 570.7 L731.7 568.8 L729.6 567.0 L727.6 565.1 L725.7 563.1 L724.2 561.5 L722.3 559.2 L720.7 557.3 L719.2 555.3 L718.0 553.6 L716.5 551.3 L715.2 549.3 L713.9 547.3 L712.9 545.5 L711.9 543.7 L710.9 541.8 L709.9 539.9 L708.9 537.9 L708.0 536.1 L707.0 534.0 L706.1 531.9 L705.2 529.9 L704.4 527.8 L703.6 525.7 L702.8 523.7 L702.0 521.6 L701.3 519.5 L700.5 517.4 L699.8 515.4 L699.2 513.3 L698.5 511.2 L697.9 509.1 L697.3 507.0 L696.7 505.0 L696.1 502.9 L695.6 500.8 L695.1 498.7 L694.5 496.7 L694.0 494.6 L693.6 492.5 L693.1 490.5 L692.6 488.4 L692.2 486.3 L691.8 484.3 L691.3 482.2 L690.9 480.2 L690.5 478.1 L690.2 476.1 L689.8 474.0 L689.4 472.0 L689.1 470.0 L688.7 467.9 L688.4 465.9 L688.1 463.9 L687.7 461.9 L687.4 459.8 L687.1 457.8 L686.8 455.8 L686.6 453.8 L686.3 451.8 L686.0 449.8 L685.8 447.8 L685.5 445.8 L685.2 443.8 L685.0 441.8 L684.8 439.8 L684.5 437.8 L684.3 435.8 L684.1 433.8 L683.9 431.8 L683.6 428.8 L683.3 425.9 L683.0 422.9 L682.7 419.9 L682.4 416.9 L682.2 413.9 L682.0 411.8 L681.8 409.0 L681.5 406.0 L681.3 403.0 L681.1 400.0 L681.0 398.0 L680.8 396.0 L680.7 394.0 L680.6 392.0 L680.5 390.0 L680.3 388.0 L680.2 386.0 L680.1 383.9 L680.0 381.9 L680.0 379.9 L679.9 377.9 L679.8 375.8 L679.7 373.8 L679.7 371.7 L679.6 369.7 L679.6 367.6 L679.6 365.6 L679.5 363.5 L679.5 361.5 L679.5 359.4 L679.5 357.3 L679.6 355.2 L679.6 353.2 L679.6 351.1 L679.7 349.0 L679.8 346.9 L679.9 344.8 L680.0 342.7 L680.1 340.6 L680.2 338.5 L680.3 336.4 L680.5 334.3 L680.7 332.1 L680.9 330.0 L681.1 327.9 L681.3 325.8 L681.6 323.7 L681.8 321.5 L682.1 319.4 L682.4 317.3 L682.7 315.3 L683.1 313.0 L683.5 310.9 L683.8 308.7 L684.2 306.6 L684.7 304.5 L685.1 302.3 L685.6 300.2 L686.1 298.1 L686.6 295.9 L687.1 293.9 L687.8 291.7 L688.4 289.6 L689.0 287.4 L689.6 285.3 L690.3 283.2 L691.0 281.1 L691.8 279.0 L692.6 276.9 L693.4 274.8 L694.2 272.7 L695.1 270.6 L696.0 268.5 L697.0 266.4 L698.0 264.3 L699.0 262.3 L700.1 260.2 L701.2 258.1 L702.4 256.1 L703.7 254.1 L704.8 252.3 L706.3 250.0 L707.7 248.0 L709.1 246.0 L710.7 244.0 L712.3 242.1 L714.0 240.1 L715.7 238.3 L717.7 236.3 L719.7 234.4 L721.2 233.0 L722.9 231.6 L725.3 229.8 L727.8 228.0 L730.0 226.6 L732.0 225.4 L734.4 224.2 L736.5 223.1 L738.7 222.2 L740.7 221.4 L742.8 220.6 L745.2 219.9 L747.4 219.4 L749.5 218.9 L751.7 218.5 L753.8 218.2 L755.9 218.0 L758.1 217.8 L760.2 217.8 L762.3 217.8 L764.4 217.8 L766.5 218.0 L768.6 218.2 L770.6 218.5 L772.7 218.8 L774.8 219.3 L776.9 219.7 L778.9 220.3 L781.0 220.9 L783.0 221.5 L785.0 222.3 L787.1 223.1 L789.1 223.9 L791.1 224.8 L793.1 225.8 L795.1 226.8 L797.1 227.8 L799.1 229.0 L801.0 230.1 L802.8 231.2 L804.7 232.5 L806.5 233.7 L808.2 234.9 L809.9 236.1 L811.5 237.3 L813.7 239.1 L815.7 240.7 L817.6 242.4 L819.5 244.1 L821.4 245.8 L823.3 247.6 L825.2 249.5 L827.1 251.4 L828.6 253.1 L830.6 255.2 L832.5 257.3 L834.3 259.4 L836.0 261.5 L837.3 263.2 L839.2 265.5 L840.9 267.7 L842.4 269.8 L843.8 271.7 L845.2 273.8 L846.5 275.7 L847.9 277.8 L849.2 279.8 L850.4 281.8 L851.6 283.7 L852.8 285.7 L853.9 287.7 L855.0 289.6 L856.1 291.5 L857.2 293.5 L858.2 295.4 L859.2 297.3 L860.1 299.1 L861.0 301.0 L861.9 302.8 L862.8 304.7 L863.7 306.7 L864.5 308.7 L865.4 310.6 L866.2 312.4 L866.9 314.3 L867.7 316.2 L868.8 318.9 L869.8 321.7 L870.9 324.5 L871.8 327.2 L872.5 329.1 L873.4 331.8 L874.2 334.6 L875.1 337.3 L875.9 340.0 L876.5 342.1 L877.2 344.6 L877.9 347.3 L878.4 349.4 L879.0 351.9 L879.6 354.6 L880.2 357.3 L880.8 360.0 L881.4 362.8 L881.9 365.5 L882.3 368.2 L882.8 371.0 L883.2 373.8 L883.6 376.5 L883.9 379.3 L884.2 382.1 L884.5 384.9 L884.7 387.6 L884.9 390.4 L885.0 393.3 L885.1 396.1 L885.1 398.9 L885.1 401.7 L885.0 404.5 L884.9 407.3 L884.8 410.1 L884.6 412.9 L884.3 415.7 L884.1 417.8 L883.9 420.4 L883.5 423.2 L883.1 426.0 L882.7 428.8 L882.3 431.6 L881.8 434.4 L881.2 437.1 L880.7 439.9 L880.1 442.7 L879.5 445.5 L878.8 448.2 L878.2 450.8 L877.6 452.9 L876.9 455.7 L876.3 457.7 L875.5 460.3 L874.7 463.1 L873.8 465.9 L872.9 468.7 L871.9 471.5 L870.9 474.3 L870.2 476.2 L869.5 478.1 L868.8 479.9 L868.0 481.8 L867.2 483.7 L866.4 485.6 L865.6 487.5 L864.8 489.4 L863.9 491.3 L863.1 493.2 L862.2 495.2 L861.2 497.1 L860.3 499.0 L859.3 500.9 L858.3 502.9 L857.3 504.8 L856.2 506.7 L855.2 508.7 L854.0 510.6 L852.9 512.6 L851.7 514.6 L850.6 516.4 L849.2 518.5 L848.0 520.5 L846.9 522.2 L845.3 524.5 L844.1 526.3 L842.4 528.5 L840.9 530.6 L839.4 532.6 L837.8 534.6 L836.2 536.7 L834.7 538.5 L832.8 540.7 L830.9 542.9 L829.0 545.0 L827.1 547.0 L825.2 549.0 L823.3 550.9 L821.6 552.5 L819.5 554.5 L817.6 556.2 L815.6 557.9 L813.7 559.5 L811.8 561.1 L810.0 562.5 L807.9 564.0 L805.9 565.4 L804.0 566.8 L802.0 568.0 L800.0 569.3 L798.0 570.4 L796.1 571.6 L794.1 572.6 L792.1 573.6 L790.1 574.6 L788.1 575.4 L786.1 576.2 L784.1 577.0 L782.1 577.7 L780.1 578.3 L779.0 578.6"/>
<path d="M773.1 587.6 L771.1 588.0 L769.1 588.4 L767.1 588.7 L765.0 588.9 L763.0 589.0 L761.0 589.1 L759.0 589.1 L756.9 589.0 L754.9 588.8 L752.8 588.6 L750.8 588.2 L748.7 587.8 L746.7 587.2 L744.6 586.6 L742.6 585.8 L740.6 585.0 L738.8 584.1 L736.4 582.8 L734.3 581.6 L732.2 580.3 L730.1 578.8 L728.1 577.1 L726.0 575.3 L723.9 573.4 L721.8 571.2 L720.1 569.3 L718.7 567.7 L716.9 565.4 L715.6 563.8 L714.0 561.5 L712.6 559.6 L711.4 557.8 L710.1 555.6 L708.9 553.6 L707.7 551.6 L706.6 549.6 L705.6 547.6 L704.6 545.6 L703.6 543.6 L702.6 541.6 L701.7 539.5 L700.8 537.5 L699.9 535.5 L699.1 533.4 L698.3 531.4 L697.5 529.4 L696.7 527.3 L696.0 525.3 L695.3 523.3 L694.6 521.2 L693.9 519.1 L693.2 517.1 L692.6 515.0 L692.0 513.0 L691.4 510.9 L690.8 508.9 L690.2 506.8 L689.7 504.8 L689.1 502.7 L688.6 500.7 L688.1 498.6 L687.6 496.6 L687.1 494.5 L686.7 492.5 L686.2 490.4 L685.8 488.4 L685.4 486.3 L684.9 484.3 L684.5 482.2 L684.2 480.3 L683.8 478.2 L683.4 476.1 L683.0 474.1 L682.7 472.1 L682.3 470.1 L682.0 468.0 L681.7 466.0 L681.3 464.0 L681.0 462.0 L680.7 460.0 L680.4 457.9 L680.1 455.9 L679.9 453.9 L679.6 451.9 L679.3 449.9 L679.1 447.9 L678.8 445.9 L678.6 443.9 L678.3 441.9 L678.1 439.9 L677.9 437.9 L677.7 435.9 L677.5 433.9 L677.3 431.9 L677.1 429.9 L676.9 427.9 L676.7 425.9 L676.5 423.9 L676.3 421.9 L676.0 418.9 L675.8 415.9 L675.6 413.0 L675.3 410.0 L675.1 407.0 L674.9 404.0 L674.7 401.0 L674.6 399.0 L674.5 397.0 L674.4 395.0 L674.3 393.0 L674.2 391.0 L674.1 389.0 L674.0 387.0 L673.9 385.0 L673.8 382.9 L673.7 380.9 L673.7 378.9 L673.6 376.9 L673.6 374.9 L673.5 372.8 L673.5 370.8 L673.5 368.8 L673.4 366.7 L673.4 364.7 L673.4 362.7 L673.4 360.6 L673.5 358.6 L673.5 356.5 L673.5 354.4 L673.6 352.4 L673.6 350.3 L673.7 348.3 L673.8 346.2 L673.9 344.1 L674.0 342.1 L674.1 340.0 L674.3 337.9 L674.4 335.8 L674.6 333.7 L674.7 331.7 L674.9 329.6 L675.1 327.5 L675.4 325.4 L675.6 323.3 L675.9 321.2 L676.1 319.1 L676.4 317.0 L676.7 314.9 L677.0 312.8 L677.4 310.7 L677.7 308.7 L678.1 306.6 L678.5 304.5 L678.9 302.4 L679.4 300.3 L679.8 298.2 L680.3 296.1 L680.8 294.0 L681.3 291.9 L681.8 289.8 L682.4 287.8 L683.0 285.6 L683.6 283.5 L684.3 281.4 L684.9 279.4 L685.6 277.3 L686.3 275.2 L687.1 273.1 L687.9 271.1 L688.7 269.0 L689.5 266.9 L690.4 264.9 L691.3 262.8 L692.2 260.7 L693.2 258.7 L694.2 256.7 L695.3 254.6 L696.4 252.6 L697.6 250.6 L698.8 248.5 L700.0 246.6 L701.3 244.5 L702.7 242.5 L704.1 240.6 L705.3 239.0 L707.2 236.6 L708.5 235.0 L710.5 232.7 L712.3 230.8 L713.9 229.2 L716.1 227.2 L718.2 225.4 L720.4 223.6 L722.0 222.4 L724.6 220.6 L726.8 219.2 L729.0 218.0 L731.1 216.9 L733.3 215.9 L735.4 214.9 L737.5 214.1 L739.6 213.4 L741.8 212.7 L743.9 212.2 L745.9 211.7 L748.1 211.3 L750.2 211.0 L752.3 210.7 L754.4 210.5 L756.5 210.4 L758.5 210.4 L760.6 210.4 L762.7 210.6 L764.7 210.7 L766.8 211.0 L768.9 211.3 L770.9 211.6 L773.0 212.0 L775.0 212.5 L777.0 213.1 L779.1 213.7 L781.1 214.3 L783.0 215.0 L785.1 215.8 L787.1 216.6 L789.1 217.5 L791.1 218.4 L793.1 219.4 L794.9 220.3 L797.1 221.5 L799.1 222.7 L801.0 223.9 L803.0 225.1 L804.9 226.4 L806.6 227.6 L808.9 229.2 L810.8 230.7 L812.7 232.2 L814.7 233.7 L816.6 235.3 L818.5 237.0 L820.5 238.7 L822.4 240.5 L824.0 242.1 L826.1 244.2 L828.1 246.2 L830.0 248.2 L831.9 250.2 L833.7 252.4 L835.6 254.6 L837.4 256.7 L839.1 258.8 L840.7 260.8 L842.2 262.8 L843.7 264.9 L844.9 266.6 L846.6 268.9 L847.7 270.6 L849.3 272.9 L850.5 274.7 L851.8 276.8 L853.0 278.8 L854.2 280.7 L855.4 282.7 L856.5 284.7 L857.6 286.6 L858.7 288.5 L859.7 290.4 L860.7 292.4 L861.7 294.3 L862.7 296.2 L863.6 298.2 L864.5 300.1 L865.4 302.0 L866.3 303.9 L867.1 305.8 L867.9 307.7 L868.7 309.5 L869.5 311.4 L870.3 313.3 L871.0 315.2 L871.7 317.1 L872.5 319.0 L873.4 321.5 L874.1 323.6 L875.1 326.4 L876.0 329.2 L876.9 331.9 L877.8 334.7 L878.6 337.5 L879.4 340.3 L880.0 342.5 L880.6 344.9 L881.3 347.6 L881.9 350.4 L882.6 353.2 L883.2 355.9 L883.7 358.7 L884.3 361.5 L884.8 364.2 L885.2 367.0 L885.7 369.8 L886.1 372.6 L886.4 375.4 L886.8 378.2 L887.1 381.0 L887.3 383.6 L887.5 385.7 L887.7 388.5 L887.8 391.3 L887.9 394.2 L888.0 397.0 L888.0 399.8 L888.0 402.7 L887.9 405.5 L887.8 408.3 L887.6 411.2 L887.4 414.0 L887.2 416.8 L886.9 419.7 L886.6 422.5 L886.3 425.3 L885.9 428.2 L885.6 430.3 L885.2 432.9 L884.7 435.7 L884.2 438.5 L883.6 441.3 L883.0 444.1 L882.4 446.9 L881.7 449.7 L881.0 452.6 L880.3 455.4 L879.8 457.4 L879.0 460.1 L878.2 462.9 L877.3 465.7 L876.4 468.6 L875.5 471.4 L874.5 474.2 L873.8 476.1 L873.1 478.0 L872.4 479.9 L871.7 481.8 L871.0 483.7 L870.2 485.6 L869.4 487.6 L868.6 489.5 L867.8 491.4 L866.9 493.3 L866.0 495.2 L865.2 497.1 L864.2 499.1 L863.3 501.0 L862.3 502.9 L861.4 504.9 L860.3 506.8 L859.3 508.8 L858.3 510.5 L857.1 512.7 L856.0 514.6 L854.9 516.6 L853.7 518.5 L852.5 520.5 L851.2 522.5 L850.0 524.5 L848.7 526.5 L847.3 528.4 L846.2 530.1 L844.5 532.4 L843.3 534.1 L841.6 536.5 L840.0 538.5 L838.6 540.2 L836.8 542.5 L835.1 544.6 L833.3 546.6 L832.0 548.2 L830.6 549.7 L829.1 551.3 L827.7 552.8 L826.2 554.3 L824.6 556.0 L822.5 558.1 L820.5 560.0 L818.5 561.7 L816.7 563.4 L814.7 565.1 L812.9 566.6 L810.8 568.3 L808.8 569.8 L806.9 571.2 L804.9 572.6 L802.9 573.9 L801.0 575.2 L799.0 576.5 L797.1 577.6 L795.1 578.8 L793.1 579.9 L791.1 580.9 L789.1 581.9 L787.1 582.8 L785.1 583.7 L783.1 584.5 L781.1 585.2 L779.1 585.9 L777.1 586.5 L775.1 587.1 L773.1 587.6"/>
<path d="M768.0 600.9 L766.0 601.4 L763.9 601.7 L761.9 602.1 L759.8 602.3 L757.7 602.4 L755.7 602.5 L753.6 602.5 L751.6 602.3 L749.5 602.1 L747.5 601.8 L745.4 601.4 L743.4 600.8 L741.3 600.2 L739.3 599.4 L737.3 598.5 L735.2 597.5 L733.2 596.3 L731.2 595.0 L729.5 593.8 L727.2 592.0 L725.6 590.6 L723.3 588.5 L721.3 586.3 L719.4 584.2 L717.6 582.0 L716.4 580.5 L715.2 578.8 L713.7 576.7 L712.5 574.9 L711.0 572.4 L709.7 570.3 L708.5 568.2 L707.3 566.1 L706.2 564.0 L705.1 561.9 L704.0 559.8 L703.0 557.7 L702.0 555.7 L701.0 553.6 L700.1 551.6 L699.2 549.5 L698.3 547.5 L697.5 545.4 L696.6 543.4 L695.8 541.4 L695.0 539.3 L694.2 537.3 L693.5 535.3 L692.7 533.3 L692.0 531.3 L691.3 529.3 L690.6 527.2 L689.9 525.2 L689.2 523.2 L688.5 521.2 L687.9 519.2 L687.2 517.3 L686.6 515.3 L686.0 513.3 L685.4 511.3 L684.8 509.3 L684.2 507.3 L683.6 505.3 L683.1 503.3 L682.5 501.3 L682.0 499.3 L681.5 497.3 L680.9 495.4 L680.4 493.4 L679.9 491.4 L679.4 489.4 L679.0 487.4 L678.5 485.4 L678.0 483.4 L677.6 481.4 L677.2 479.4 L676.7 477.4 L676.3 475.4 L675.9 473.4 L675.6 471.4 L675.2 469.4 L674.8 467.4 L674.5 465.4 L674.1 463.3 L673.8 461.3 L673.5 459.3 L673.1 457.3 L672.8 455.3 L672.5 453.3 L672.3 451.3 L672.0 449.3 L671.7 447.2 L671.5 445.2 L671.2 443.2 L671.0 441.2 L670.8 439.2 L670.6 437.2 L670.4 435.2 L670.2 433.1 L670.0 431.1 L669.8 429.1 L669.7 427.1 L669.5 425.1 L669.4 423.1 L669.2 421.1 L669.1 419.1 L669.0 417.1 L668.9 415.0 L668.8 413.0 L668.7 411.0 L668.6 409.0 L668.5 407.0 L668.5 405.0 L668.4 403.0 L668.4 401.0 L668.3 399.0 L668.3 397.0 L668.3 394.0 L668.3 391.0 L668.3 388.0 L668.3 385.0 L668.4 382.0 L668.4 379.0 L668.5 376.1 L668.6 373.1 L668.7 370.1 L668.9 367.1 L669.0 364.1 L669.2 361.8 L669.3 359.2 L669.6 356.2 L669.8 353.2 L670.0 350.3 L670.3 347.3 L670.6 344.3 L670.9 341.3 L671.2 338.4 L671.4 336.1 L671.8 333.4 L672.0 331.4 L672.3 329.4 L672.5 327.5 L672.8 325.5 L673.1 323.5 L673.4 321.5 L673.7 319.5 L674.0 317.5 L674.3 315.5 L674.6 313.5 L675.0 311.5 L675.4 309.5 L675.7 307.5 L676.1 305.5 L676.5 303.5 L676.9 301.5 L677.3 299.5 L677.7 297.5 L678.2 295.4 L678.7 293.4 L679.1 291.4 L679.6 289.4 L680.1 287.3 L680.6 285.3 L681.2 283.3 L681.7 281.2 L682.3 279.2 L682.9 277.1 L683.5 275.1 L684.1 273.0 L684.8 271.0 L685.5 268.9 L686.2 266.8 L686.9 264.8 L687.6 262.7 L688.4 260.6 L689.2 258.5 L690.0 256.6 L690.9 254.4 L691.8 252.2 L692.7 250.1 L693.6 248.1 L694.5 246.1 L695.4 244.2 L696.4 242.3 L697.3 240.5 L698.5 238.2 L699.7 236.1 L701.0 233.9 L702.3 231.7 L703.7 229.5 L705.1 227.2 L706.6 225.2 L708.3 222.8 L710.1 220.6 L712.0 218.3 L714.0 216.1 L716.2 213.9 L718.2 212.1 L719.9 210.6 L722.2 208.9 L724.2 207.4 L725.9 206.3 L727.7 205.3 L729.5 204.3 L731.4 203.4 L733.4 202.5 L735.5 201.7 L737.6 201.0 L739.7 200.4 L741.8 199.9 L743.9 199.5 L746.0 199.2 L748.1 199.0 L750.2 198.8 L752.3 198.7 L754.4 198.8 L756.5 198.8 L758.6 199.0 L760.7 199.2 L762.8 199.5 L764.9 199.9 L767.0 200.3 L769.1 200.8 L771.2 201.4 L773.3 202.0 L775.3 202.7 L777.4 203.4 L779.5 204.2 L781.5 205.1 L783.6 206.0 L785.7 207.0 L787.7 208.1 L789.7 209.2 L791.8 210.3 L793.8 211.5 L795.8 212.8 L797.8 214.1 L799.8 215.4 L801.8 216.8 L803.8 218.3 L805.8 219.8 L807.7 221.3 L809.8 222.9 L811.7 224.6 L813.4 226.1 L815.6 228.1 L817.3 229.6 L819.5 231.7 L821.0 233.1 L822.4 234.5 L824.3 236.5 L826.2 238.5 L828.1 240.6 L829.5 242.1 L831.0 243.8 L832.3 245.3 L833.8 247.1 L835.7 249.3 L837.5 251.7 L839.2 253.9 L840.8 256.0 L842.2 257.8 L843.9 260.1 L845.3 262.2 L846.7 264.2 L848.1 266.2 L849.4 268.3 L850.7 270.3 L852.0 272.3 L853.2 274.3 L854.4 276.3 L855.6 278.2 L856.7 280.2 L857.8 282.1 L858.9 284.1 L860.0 286.0 L861.0 288.0 L862.0 289.9 L863.0 291.8 L863.9 293.7 L864.9 295.7 L865.8 297.6 L866.7 299.4 L867.5 301.3 L868.4 303.2 L869.2 305.1 L870.0 307.0 L870.8 308.8 L871.6 310.7 L872.3 312.6 L873.3 315.0 L874.2 317.2 L875.2 319.9 L875.9 321.8 L876.9 324.6 L877.8 327.3 L878.7 330.1 L879.6 332.8 L880.5 335.6 L881.3 338.3 L882.0 340.6 L882.6 342.9 L883.3 345.6 L884.0 348.2 L884.5 350.2 L885.1 352.5 L885.6 354.8 L886.2 357.4 L886.6 359.4 L887.2 362.1 L887.7 364.9 L888.2 367.7 L888.7 370.5 L889.1 373.3 L889.5 376.1 L889.8 378.6 L890.1 380.8 L890.3 383.7 L890.6 386.5 L890.8 389.4 L890.9 392.2 L891.0 395.1 L891.0 398.0 L891.0 400.8 L890.9 403.7 L890.7 406.5 L890.5 409.4 L890.3 412.2 L890.0 415.1 L889.8 417.4 L889.5 419.8 L889.1 422.6 L888.7 425.4 L888.2 428.2 L887.7 431.0 L887.2 433.7 L886.6 436.5 L886.0 439.3 L885.4 442.0 L884.8 444.8 L884.1 447.5 L883.4 450.3 L882.6 453.1 L882.0 455.2 L881.4 457.7 L880.5 460.4 L879.7 463.2 L878.8 465.9 L878.2 467.9 L877.3 470.6 L876.3 473.4 L875.4 476.1 L874.7 478.0 L873.6 480.8 L872.9 482.7 L872.2 484.6 L871.4 486.5 L870.7 488.4 L869.9 490.3 L869.1 492.2 L868.2 494.1 L867.4 496.0 L866.5 498.0 L865.6 499.9 L864.7 501.8 L863.8 503.8 L862.9 505.7 L861.9 507.7 L860.9 509.7 L859.9 511.6 L858.8 513.6 L857.8 515.6 L856.7 517.6 L855.5 519.7 L854.4 521.6 L853.2 523.7 L852.0 525.8 L850.8 527.8 L849.5 529.9 L848.1 532.0 L846.8 534.0 L845.4 536.1 L844.3 537.8 L842.5 540.4 L841.0 542.5 L839.6 544.5 L837.9 546.8 L836.2 549.0 L834.9 550.7 L833.7 552.3 L832.1 554.3 L830.1 556.6 L828.2 558.9 L826.3 561.1 L824.4 563.2 L822.4 565.3 L820.8 566.9 L818.6 569.2 L816.6 571.2 L815.0 572.7 L812.6 574.9 L811.1 576.2 L808.6 578.3 L807.0 579.7 L804.7 581.6 L802.7 583.2 L800.8 584.5 L799.2 585.7 L797.4 586.9 L795.7 588.1 L793.8 589.4 L791.8 590.6 L789.8 591.8 L787.6 593.1 L785.5 594.2 L783.4 595.2 L781.4 596.2 L779.3 597.1 L777.3 597.9 L775.2 598.7 L773.2 599.4 L771.1 600.1 L769.1 600.6 L768.0 600.9"/>
<path d="M757.8 616.2 L755.7 616.6 L753.6 617.0 L751.5 617.2 L749.4 617.3 L747.3 617.3 L745.2 617.3 L743.1 617.1 L741.0 616.8 L738.9 616.4 L736.9 615.8 L734.8 615.1 L732.8 614.3 L730.7 613.3 L728.7 612.2 L726.7 611.0 L724.7 609.5 L722.9 608.0 L720.8 606.1 L719.1 604.5 L717.0 602.1 L715.1 599.7 L713.3 597.4 L711.7 595.0 L710.4 593.1 L708.8 590.3 L707.7 588.5 L706.2 585.7 L705.0 583.4 L704.2 581.6 L703.3 579.7 L702.4 577.8 L701.6 575.9 L700.7 573.9 L699.9 572.0 L699.0 569.7 L698.1 567.5 L697.3 565.3 L696.5 563.1 L695.6 561.0 L694.9 558.8 L694.1 556.7 L693.3 554.5 L692.6 552.4 L691.9 550.3 L691.1 548.3 L690.4 546.2 L689.7 544.1 L689.0 542.1 L688.4 540.1 L687.7 538.0 L687.0 536.0 L686.4 534.0 L685.7 532.0 L685.1 530.0 L684.5 528.0 L683.8 526.0 L683.2 524.0 L682.6 522.0 L682.0 520.1 L681.4 518.1 L680.8 516.2 L680.2 514.2 L679.6 512.2 L679.0 510.3 L678.5 508.3 L677.9 506.4 L677.3 504.5 L676.8 502.5 L676.2 500.6 L675.7 498.6 L675.2 496.7 L674.7 494.7 L674.1 492.8 L673.6 490.8 L673.1 488.9 L672.6 486.9 L672.2 484.9 L671.7 483.0 L671.2 481.0 L670.8 479.1 L670.4 477.1 L669.9 475.1 L669.5 473.1 L669.1 471.1 L668.7 469.2 L668.4 467.2 L668.0 465.2 L667.6 463.2 L667.3 461.2 L667.0 459.2 L666.6 457.2 L666.3 455.2 L666.0 453.2 L665.7 451.2 L665.5 449.2 L665.2 447.2 L664.9 445.2 L664.7 443.2 L664.4 441.2 L664.2 439.1 L664.0 437.1 L663.8 435.1 L663.6 433.1 L663.4 431.1 L663.2 429.1 L663.1 427.1 L662.9 425.1 L662.7 423.1 L662.6 421.1 L662.5 419.0 L662.3 417.0 L662.2 415.0 L662.1 413.0 L662.0 411.0 L661.9 409.0 L661.8 407.0 L661.7 405.0 L661.7 403.0 L661.6 401.0 L661.6 399.0 L661.5 397.0 L661.5 395.0 L661.4 392.0 L661.4 389.0 L661.3 386.0 L661.3 383.0 L661.3 380.0 L661.4 377.0 L661.4 374.0 L661.4 371.0 L661.5 368.1 L661.6 365.1 L661.7 362.1 L661.8 359.1 L662.0 356.1 L662.1 353.1 L662.3 350.1 L662.5 347.1 L662.7 344.1 L662.8 342.1 L663.0 340.1 L663.1 338.1 L663.3 336.2 L663.5 334.2 L663.7 332.2 L663.9 330.2 L664.1 328.2 L664.3 326.2 L664.5 324.2 L664.8 322.2 L665.0 320.2 L665.3 318.1 L665.5 316.1 L665.8 314.1 L666.1 312.1 L666.4 310.1 L666.7 308.1 L667.0 306.1 L667.4 304.1 L667.7 302.1 L668.1 300.1 L668.4 298.0 L668.8 296.0 L669.2 294.0 L669.6 292.0 L670.0 290.0 L670.5 287.9 L670.9 285.9 L671.4 283.9 L671.9 281.9 L672.4 279.8 L672.9 277.8 L673.4 275.8 L674.0 273.7 L674.6 271.7 L675.2 269.6 L675.8 267.6 L676.4 265.6 L677.1 263.5 L677.7 261.5 L678.4 259.4 L679.2 257.4 L679.9 255.3 L680.7 253.2 L681.5 251.2 L682.3 249.1 L683.2 247.0 L684.1 245.0 L685.0 242.9 L685.9 240.8 L686.9 238.7 L688.0 236.6 L689.0 234.5 L690.2 232.4 L691.2 230.5 L692.5 228.2 L693.8 226.1 L695.1 224.1 L696.6 221.9 L698.0 219.9 L699.6 217.7 L700.9 216.0 L702.9 213.6 L704.9 211.4 L706.9 209.3 L708.9 207.4 L710.9 205.5 L712.6 204.1 L714.9 202.3 L716.7 201.0 L719.0 199.5 L721.0 198.3 L723.0 197.2 L725.1 196.2 L727.1 195.2 L729.2 194.4 L731.3 193.7 L733.3 193.1 L735.4 192.5 L737.5 192.0 L739.5 191.7 L741.6 191.4 L743.7 191.1 L745.8 191.0 L747.8 190.9 L749.9 190.9 L752.0 190.9 L754.0 191.0 L756.1 191.2 L758.2 191.5 L760.2 191.8 L762.3 192.2 L764.3 192.6 L766.4 193.1 L768.5 193.6 L770.5 194.2 L772.6 194.9 L774.6 195.6 L776.6 196.4 L778.7 197.2 L780.6 198.1 L782.7 199.0 L784.8 200.0 L786.8 201.0 L788.8 202.1 L790.6 203.1 L792.7 204.3 L794.7 205.6 L796.6 206.8 L798.4 208.0 L800.1 209.1 L801.8 210.3 L803.8 211.8 L805.8 213.3 L807.7 214.8 L809.4 216.1 L811.7 218.0 L813.4 219.5 L815.6 221.4 L817.2 222.8 L819.5 225.0 L821.4 226.8 L822.9 228.3 L825.1 230.5 L827.2 232.6 L829.2 234.7 L831.1 236.8 L833.0 239.0 L834.8 241.1 L836.5 243.2 L838.2 245.2 L839.6 247.0 L841.5 249.4 L843.1 251.4 L844.4 253.2 L846.1 255.5 L847.5 257.5 L848.9 259.5 L850.3 261.5 L851.6 263.5 L852.8 265.4 L854.2 267.5 L855.4 269.5 L856.6 271.4 L857.8 273.4 L859.0 275.4 L860.1 277.4 L861.2 279.3 L862.2 281.1 L863.3 283.2 L864.4 285.2 L865.4 287.1 L866.3 289.0 L867.3 290.9 L868.2 292.9 L869.1 294.8 L870.0 296.7 L870.9 298.6 L871.8 300.5 L872.6 302.4 L873.4 304.3 L874.2 306.2 L875.0 308.1 L875.8 310.0 L876.5 311.9 L877.2 313.8 L877.9 315.6 L878.6 317.5 L879.7 320.3 L880.6 323.2 L881.6 326.0 L882.5 328.8 L883.4 331.6 L884.0 333.6 L884.8 336.3 L885.5 339.1 L886.3 341.9 L887.0 344.7 L887.7 347.5 L888.4 350.3 L889.0 353.1 L889.6 355.9 L890.2 358.8 L890.7 361.6 L891.2 364.4 L891.7 367.3 L892.1 370.1 L892.5 372.8 L892.8 374.9 L893.1 377.8 L893.4 380.6 L893.6 383.5 L893.8 386.4 L894.0 389.3 L894.1 392.2 L894.2 395.1 L894.2 398.0 L894.2 400.9 L894.1 403.7 L893.9 406.6 L893.7 409.5 L893.6 411.8 L893.3 414.3 L893.0 417.2 L892.7 420.0 L892.3 422.9 L891.9 425.7 L891.5 428.5 L891.1 430.7 L890.7 433.3 L890.1 436.1 L889.6 438.9 L889.0 441.7 L888.4 444.5 L887.8 446.7 L887.2 449.2 L886.5 452.0 L885.8 454.8 L885.0 457.6 L884.2 460.4 L883.4 463.2 L882.8 465.1 L882.0 467.9 L881.0 470.7 L880.1 473.5 L879.1 476.3 L878.5 478.2 L877.8 480.1 L877.1 482.0 L876.4 483.9 L875.6 485.8 L874.9 487.7 L874.1 489.6 L873.4 491.5 L872.5 493.4 L871.7 495.3 L870.9 497.3 L870.0 499.2 L869.2 501.1 L868.3 503.1 L867.4 505.0 L866.4 507.0 L865.5 508.9 L864.5 510.9 L863.5 512.8 L862.5 514.8 L861.4 516.8 L860.4 518.7 L859.2 520.8 L858.1 522.8 L857.0 524.8 L855.8 526.8 L854.6 528.8 L853.4 530.8 L852.1 532.9 L850.8 534.9 L849.5 536.9 L848.3 538.8 L846.8 541.1 L845.5 543.0 L843.9 545.2 L842.6 547.0 L840.9 549.4 L839.3 551.6 L837.9 553.5 L836.0 555.8 L834.3 558.0 L832.5 560.2 L831.2 561.9 L829.8 563.5 L828.3 565.3 L826.9 566.8 L825.4 568.6 L823.9 570.2 L822.4 571.8 L820.8 573.6 L818.6 576.0 L816.5 578.0 L815.1 579.5 L813.6 581.0 L811.6 582.9 L809.6 584.8 L807.6 586.7 L805.6 588.5 L803.5 590.3 L801.8 591.7 L799.5 593.7 L797.4 595.3 L795.6 596.8 L793.9 598.1 L792.2 599.4 L790.3 600.7 L788.5 602.0 L786.5 603.3 L784.4 604.7 L782.2 606.0 L779.9 607.4 L777.8 608.5 L775.7 609.6 L773.6 610.7 L771.7 611.5 L769.4 612.5 L767.3 613.4 L765.2 614.1 L763.1 614.8 L761.0 615.4 L758.8 616.0 L757.8 616.2"/>
<path d="M748.2 632.9 L746.1 633.4 L743.9 633.7 L741.8 633.9 L739.6 634.0 L737.5 634.0 L735.3 633.9 L733.2 633.7 L731.1 633.3 L729.0 632.7 L726.9 632.0 L724.8 631.2 L722.8 630.1 L720.7 628.9 L718.7 627.5 L716.7 626.0 L715.0 624.5 L712.8 622.2 L710.8 620.0 L709.4 618.3 L708.0 616.3 L706.8 614.6 L705.2 612.1 L703.7 609.6 L702.5 607.4 L701.1 604.7 L699.9 602.2 L699.0 600.3 L698.2 598.3 L697.3 596.3 L696.5 594.3 L695.7 592.1 L694.9 590.1 L694.1 587.7 L693.3 585.4 L692.5 583.0 L691.7 580.6 L691.0 578.2 L690.3 575.9 L689.6 573.6 L688.9 571.3 L688.3 569.0 L687.6 566.7 L687.0 564.4 L686.4 562.2 L685.8 560.0 L685.2 557.8 L684.6 555.6 L684.0 553.5 L683.5 551.3 L682.9 549.2 L682.3 547.2 L681.7 545.0 L681.2 542.9 L680.6 540.9 L680.1 538.8 L679.5 536.7 L679.0 534.7 L678.4 532.6 L677.9 530.6 L677.3 528.6 L676.8 526.6 L676.2 524.6 L675.7 522.6 L675.2 520.7 L674.6 518.7 L674.1 516.7 L673.6 514.8 L673.0 512.8 L672.5 510.9 L672.0 508.9 L671.5 507.0 L670.9 505.0 L670.4 503.1 L669.9 501.1 L669.4 499.2 L668.9 497.3 L668.4 495.3 L667.9 493.4 L667.4 491.4 L666.9 489.5 L666.5 487.6 L666.0 485.6 L665.5 483.7 L665.1 481.7 L664.6 479.8 L664.2 477.8 L663.8 475.8 L663.4 473.9 L663.0 471.9 L662.6 469.9 L662.2 467.9 L661.9 466.0 L661.5 464.0 L661.2 462.0 L660.8 460.0 L660.5 458.0 L660.2 456.0 L659.9 454.0 L659.6 452.0 L659.3 450.1 L659.0 448.1 L658.7 446.1 L658.5 444.1 L658.2 442.1 L658.0 440.1 L657.7 438.1 L657.5 436.1 L657.3 434.0 L657.1 432.0 L656.9 430.0 L656.7 428.0 L656.5 426.0 L656.3 424.0 L656.2 422.0 L656.0 420.0 L655.9 418.0 L655.7 416.0 L655.6 414.0 L655.5 412.0 L655.3 410.0 L655.2 408.0 L655.1 406.0 L655.0 404.0 L654.9 402.0 L654.8 400.0 L654.7 398.0 L654.7 396.0 L654.6 394.0 L654.5 392.0 L654.4 389.0 L654.4 386.0 L654.3 383.0 L654.3 380.0 L654.2 377.0 L654.2 374.0 L654.2 371.0 L654.2 368.0 L654.3 365.0 L654.3 362.0 L654.4 359.0 L654.5 356.0 L654.5 354.0 L654.6 352.0 L654.7 350.0 L654.8 348.0 L654.8 346.0 L654.9 344.0 L655.0 342.0 L655.2 340.0 L655.3 338.0 L655.4 336.0 L655.6 334.0 L655.7 332.0 L655.9 330.0 L656.0 328.0 L656.2 326.0 L656.4 324.0 L656.6 322.0 L656.8 320.0 L657.0 318.0 L657.2 316.0 L657.4 314.0 L657.7 312.0 L657.9 309.9 L658.2 307.9 L658.5 305.9 L658.7 303.9 L659.0 301.9 L659.3 299.9 L659.6 297.9 L660.0 295.9 L660.3 293.8 L660.7 291.8 L661.0 289.8 L661.4 287.8 L661.8 285.8 L662.2 283.8 L662.6 281.7 L663.0 279.7 L663.5 277.7 L663.9 275.7 L664.4 273.6 L664.9 271.6 L665.4 269.6 L666.0 267.6 L666.5 265.5 L667.1 263.5 L667.7 261.5 L668.3 259.4 L668.9 257.5 L669.5 255.4 L670.2 253.3 L670.9 251.3 L671.6 249.3 L672.3 247.2 L673.1 245.2 L673.9 243.1 L674.7 241.2 L675.5 239.0 L676.4 237.0 L677.3 234.9 L678.3 232.9 L679.2 230.8 L680.3 228.8 L681.3 226.7 L682.4 224.7 L683.4 222.8 L684.7 220.6 L686.0 218.5 L687.3 216.5 L688.6 214.4 L690.1 212.3 L691.3 210.6 L693.1 208.2 L694.8 206.2 L696.3 204.4 L698.3 202.3 L700.3 200.2 L702.3 198.3 L704.3 196.6 L706.3 195.0 L708.4 193.4 L710.4 192.0 L712.5 190.7 L714.5 189.5 L716.5 188.4 L718.6 187.4 L720.6 186.5 L722.6 185.6 L724.7 184.9 L726.7 184.3 L728.8 183.7 L730.8 183.2 L732.9 182.8 L734.9 182.5 L737.0 182.2 L739.0 182.0 L741.1 181.9 L743.1 181.8 L745.2 181.8 L747.2 181.9 L749.3 182.0 L751.3 182.2 L753.4 182.4 L755.4 182.8 L757.5 183.1 L759.5 183.5 L761.5 184.0 L763.6 184.5 L765.6 185.1 L767.7 185.8 L769.7 186.5 L771.7 187.2 L773.7 188.0 L775.8 188.8 L777.8 189.7 L779.6 190.5 L781.8 191.6 L783.8 192.6 L785.8 193.7 L787.8 194.8 L789.8 196.0 L791.8 197.2 L793.8 198.5 L795.8 199.8 L797.6 201.0 L799.8 202.5 L801.8 203.9 L803.8 205.4 L805.8 206.9 L807.7 208.5 L809.4 209.9 L811.7 211.7 L813.3 213.1 L815.6 215.2 L817.5 217.0 L819.2 218.5 L821.4 220.6 L823.4 222.5 L825.3 224.5 L826.7 226.0 L828.2 227.5 L829.7 229.1 L831.1 230.7 L832.5 232.2 L834.0 233.9 L835.9 236.2 L837.8 238.4 L839.5 240.5 L841.2 242.5 L842.7 244.4 L844.3 246.6 L845.5 248.2 L847.3 250.6 L848.7 252.6 L850.1 254.7 L851.5 256.7 L852.9 258.7 L854.1 260.5 L855.4 262.6 L856.7 264.6 L857.8 266.5 L859.1 268.6 L860.3 270.5 L861.4 272.5 L862.5 274.5 L863.5 276.2 L864.7 278.4 L865.7 280.3 L866.8 282.3 L867.8 284.2 L868.7 286.2 L869.7 288.1 L870.6 290.1 L871.6 292.0 L872.4 293.9 L873.3 295.8 L874.2 297.8 L875.0 299.7 L875.8 301.6 L876.6 303.5 L877.4 305.4 L878.2 307.3 L878.9 309.3 L879.7 311.2 L880.4 313.1 L881.1 315.0 L881.8 316.9 L882.4 318.8 L883.1 320.7 L883.7 322.6 L884.4 324.6 L885.2 327.3 L886.1 330.2 L886.9 333.0 L887.7 335.8 L888.3 338.1 L889.0 340.6 L889.7 343.4 L890.3 346.1 L890.8 348.1 L891.4 350.7 L891.8 352.9 L892.4 355.7 L893.0 358.6 L893.5 361.4 L893.9 364.3 L894.4 367.2 L894.8 370.0 L895.2 372.9 L895.5 375.8 L895.7 377.8 L896.0 380.6 L896.3 383.5 L896.5 386.4 L896.6 389.3 L896.8 392.2 L896.9 395.1 L896.9 398.0 L896.9 400.9 L896.8 403.8 L896.7 406.7 L896.6 409.6 L896.4 412.5 L896.2 415.4 L895.9 418.3 L895.6 421.2 L895.3 424.1 L894.9 426.9 L894.5 429.8 L894.1 432.7 L893.6 435.6 L893.1 438.5 L892.5 441.3 L892.0 444.2 L891.4 447.1 L890.7 449.9 L890.0 452.8 L889.3 455.7 L888.7 458.0 L888.1 460.4 L887.3 463.3 L886.4 466.2 L885.8 468.3 L885.0 471.0 L884.3 472.9 L883.7 474.8 L883.1 476.7 L882.4 478.6 L881.7 480.5 L881.1 482.5 L880.4 484.4 L879.6 486.3 L878.9 488.2 L878.2 490.2 L877.4 492.1 L876.6 494.0 L875.8 496.0 L875.0 497.9 L874.1 499.8 L873.3 501.8 L872.4 503.7 L871.5 505.7 L870.6 507.6 L869.6 509.6 L868.7 511.5 L867.7 513.5 L866.7 515.4 L865.7 517.3 L864.8 519.1 L863.5 521.3 L862.4 523.3 L861.3 525.3 L860.2 527.3 L859.1 529.1 L857.8 531.2 L856.6 533.2 L855.4 535.2 L854.3 536.9 L852.8 539.2 L851.5 541.2 L850.2 543.2 L848.8 545.2 L847.6 546.9 L845.9 549.3 L844.7 550.9 L842.9 553.4 L841.4 555.4 L839.9 557.4 L838.2 559.6 L836.6 561.7 L835.1 563.5 L833.2 565.9 L831.3 568.1 L829.5 570.3 L827.6 572.5 L825.7 574.7 L823.7 577.0 L821.7 579.3 L819.6 581.6 L817.5 583.8 L815.5 585.9 L814.0 587.6 L812.5 589.1 L810.5 591.1 L808.5 593.1 L806.6 595.0 L804.5 597.1 L802.7 598.8 L800.4 601.0 L798.5 602.7 L796.3 604.7 L794.2 606.5 L792.4 608.1 L790.8 609.4 L789.2 610.8 L787.4 612.1 L785.8 613.4 L783.8 614.9 L781.9 616.3 L780.0 617.7 L777.9 619.1 L775.8 620.5 L773.5 622.0 L771.1 623.4 L768.8 624.7 L766.6 625.9 L764.5 627.0 L762.3 628.1 L760.1 629.0 L758.0 629.9 L755.8 630.7 L753.6 631.5 L751.5 632.1 L749.3 632.7 L748.2 632.9"/>
<path d="M736.7 657.6 L734.4 658.1 L732.2 658.5 L729.9 658.8 L727.7 659.0 L725.5 658.9 L723.3 658.8 L721.3 658.5 L718.9 657.9 L717.0 657.3 L714.6 656.3 L712.5 655.2 L710.4 653.8 L708.3 652.2 L706.6 650.7 L704.3 648.2 L702.9 646.6 L701.4 644.6 L700.0 642.4 L698.7 640.3 L697.5 638.3 L696.1 635.5 L695.1 633.5 L694.3 631.6 L693.4 629.7 L692.6 627.6 L691.8 625.5 L691.0 623.3 L690.2 621.1 L689.6 619.1 L688.8 616.4 L688.0 613.8 L687.3 611.3 L686.6 608.6 L686.0 605.9 L685.3 603.1 L684.7 600.3 L684.1 597.6 L683.6 595.0 L683.1 592.4 L682.6 589.8 L682.1 587.2 L681.7 585.1 L681.2 582.2 L680.8 579.6 L680.4 577.2 L680.0 574.7 L679.6 572.2 L679.2 569.8 L678.8 567.4 L678.4 565.1 L678.1 562.7 L677.7 560.4 L677.3 558.1 L676.9 555.8 L676.5 553.6 L676.1 551.4 L675.7 549.2 L675.2 547.0 L674.8 544.9 L674.4 542.8 L674.0 540.7 L673.5 538.6 L673.1 536.6 L672.6 534.5 L672.1 532.5 L671.7 530.4 L671.2 528.4 L670.7 526.5 L670.2 524.5 L669.8 522.5 L669.3 520.6 L668.8 518.6 L668.3 516.7 L667.5 513.8 L666.7 510.9 L665.9 508.1 L665.1 505.2 L664.4 502.4 L663.8 500.4 L663.0 497.6 L662.3 494.8 L661.5 491.9 L660.7 489.1 L660.0 486.2 L659.2 483.3 L658.6 480.7 L658.0 478.5 L657.4 475.6 L656.7 472.7 L656.1 469.8 L655.5 466.8 L655.1 464.9 L654.7 462.9 L654.4 460.9 L654.0 459.0 L653.7 457.0 L653.4 455.0 L653.0 453.0 L652.7 451.0 L652.4 449.0 L652.2 447.0 L651.9 445.0 L651.6 443.1 L651.4 441.1 L651.1 439.1 L650.9 437.1 L650.6 435.1 L650.4 433.1 L650.2 431.0 L650.0 429.0 L649.8 427.0 L649.6 425.0 L649.5 423.0 L649.3 421.0 L649.1 419.0 L649.0 417.0 L648.8 415.0 L648.7 413.0 L648.6 411.0 L648.4 409.0 L648.3 407.0 L648.2 405.0 L648.1 403.0 L648.0 401.0 L647.9 399.0 L647.8 397.0 L647.7 395.0 L647.6 393.0 L647.6 391.0 L647.5 389.0 L647.4 386.0 L647.3 383.0 L647.2 380.0 L647.2 377.0 L647.1 374.0 L647.1 371.0 L647.0 368.0 L647.0 365.0 L647.0 362.0 L647.0 359.0 L647.1 356.0 L647.1 354.0 L647.1 352.0 L647.2 350.0 L647.2 348.0 L647.3 346.0 L647.3 344.0 L647.4 342.0 L647.5 340.0 L647.5 338.0 L647.6 336.0 L647.7 334.0 L647.8 332.0 L648.0 330.0 L648.1 328.0 L648.2 326.0 L648.3 324.0 L648.5 322.0 L648.6 320.0 L648.8 317.9 L649.0 315.9 L649.2 313.9 L649.3 311.9 L649.5 309.9 L649.7 307.9 L650.0 305.9 L650.2 303.9 L650.4 301.9 L650.7 299.9 L650.9 297.8 L651.2 295.8 L651.4 293.8 L651.7 291.8 L652.0 289.8 L652.3 287.8 L652.6 285.8 L653.0 283.7 L653.3 281.7 L653.7 279.7 L654.0 277.7 L654.4 275.7 L654.8 273.7 L655.2 271.6 L655.7 269.6 L656.1 267.6 L656.6 265.6 L657.0 263.6 L657.5 261.6 L658.0 259.5 L658.5 257.5 L659.1 255.5 L659.6 253.5 L660.2 251.4 L660.8 249.4 L661.4 247.4 L662.1 245.4 L662.7 243.4 L663.4 241.3 L664.1 239.3 L664.8 237.4 L665.6 235.3 L666.4 233.2 L667.2 231.2 L668.0 229.2 L668.9 227.2 L669.7 225.2 L670.7 223.1 L671.7 221.1 L672.7 219.1 L673.7 217.0 L674.7 215.1 L675.7 213.3 L676.7 211.6 L678.3 208.9 L679.5 206.9 L680.7 205.1 L682.3 202.9 L683.7 200.9 L685.2 198.9 L686.7 197.0 L688.6 194.8 L690.4 192.8 L691.8 191.4 L693.3 189.8 L694.8 188.4 L696.6 186.8 L698.8 185.0 L700.9 183.5 L702.9 182.0 L704.7 180.9 L706.9 179.5 L709.0 178.4 L711.0 177.4 L713.0 176.5 L715.1 175.7 L717.1 174.9 L719.1 174.3 L721.1 173.7 L723.2 173.2 L725.2 172.8 L727.2 172.4 L729.3 172.1 L731.3 171.9 L733.3 171.7 L735.4 171.6 L737.4 171.6 L739.4 171.6 L741.5 171.7 L743.5 171.8 L745.5 172.0 L747.5 172.2 L749.6 172.5 L751.6 172.9 L753.6 173.3 L755.6 173.8 L757.7 174.3 L759.7 174.8 L761.7 175.4 L763.7 176.1 L765.7 176.8 L767.8 177.5 L769.8 178.3 L771.8 179.2 L773.8 180.1 L775.8 181.0 L777.8 182.0 L779.8 183.0 L781.8 184.1 L783.8 185.2 L785.8 186.3 L787.8 187.5 L789.8 188.7 L791.8 190.0 L793.8 191.3 L795.5 192.5 L797.8 194.1 L799.8 195.5 L801.5 196.8 L803.7 198.5 L805.7 200.0 L807.7 201.6 L809.6 203.2 L811.6 204.9 L813.2 206.3 L815.6 208.4 L817.5 210.2 L819.5 212.1 L821.1 213.6 L823.3 215.7 L825.3 217.8 L827.3 219.8 L829.3 221.9 L831.2 224.0 L833.1 226.0 L834.9 228.1 L836.6 230.1 L838.0 231.8 L840.0 234.1 L841.6 236.2 L843.2 238.2 L844.8 240.2 L846.3 242.3 L847.7 244.1 L849.3 246.3 L850.6 248.1 L852.1 250.3 L853.5 252.3 L854.8 254.3 L856.1 256.3 L857.3 258.1 L858.7 260.3 L859.9 262.2 L861.1 264.2 L862.1 266.0 L863.4 268.2 L864.5 270.2 L865.6 272.1 L866.7 274.1 L867.8 276.1 L868.8 278.0 L869.8 279.8 L870.7 281.7 L871.7 283.7 L872.6 285.6 L873.6 287.6 L874.6 289.7 L875.5 291.7 L876.4 293.7 L877.2 295.6 L878.0 297.5 L878.8 299.5 L879.6 301.4 L880.4 303.4 L881.2 305.3 L881.9 307.2 L882.7 309.2 L883.4 311.1 L884.1 313.0 L884.8 315.0 L885.5 316.9 L886.1 318.8 L886.7 320.8 L887.3 322.7 L887.9 324.6 L888.5 326.5 L889.1 328.5 L889.6 330.4 L890.4 333.3 L890.9 335.3 L891.7 338.1 L892.4 341.0 L892.9 343.3 L893.5 345.8 L894.1 348.7 L894.7 351.5 L895.3 354.4 L895.8 357.3 L896.3 360.2 L896.8 363.1 L897.2 366.0 L897.6 368.9 L897.9 371.8 L898.3 374.7 L898.6 377.6 L898.8 380.5 L899.0 383.4 L899.3 386.3 L899.4 389.2 L899.6 392.1 L899.7 395.1 L899.7 398.0 L899.7 400.9 L899.6 403.8 L899.5 406.7 L899.4 409.6 L899.2 412.6 L899.0 415.5 L898.7 418.4 L898.5 421.3 L898.2 423.5 L897.9 426.2 L897.6 429.1 L897.2 431.4 L896.9 433.9 L896.4 436.8 L895.9 439.7 L895.4 442.6 L894.8 445.5 L894.2 448.4 L893.8 450.4 L893.2 452.8 L892.7 455.2 L892.0 458.1 L891.3 460.8 L890.7 463.0 L890.2 464.9 L889.6 466.8 L889.0 468.8 L888.4 470.7 L887.8 472.6 L887.2 474.6 L886.6 476.5 L885.9 478.4 L885.3 480.4 L884.6 482.3 L883.9 484.3 L883.2 486.2 L882.5 488.1 L881.8 490.1 L881.0 492.0 L880.3 494.0 L879.5 495.9 L878.7 497.8 L877.8 499.8 L877.0 501.7 L876.1 503.7 L875.2 505.6 L874.4 507.6 L873.4 509.5 L872.5 511.5 L871.6 513.4 L870.6 515.4 L869.6 517.3 L868.6 519.3 L867.5 521.3 L866.5 523.2 L865.4 525.2 L864.3 527.1 L863.2 529.0 L862.0 531.1 L860.8 533.0 L859.6 535.0 L858.4 537.0 L857.2 538.9 L855.9 540.9 L854.6 542.9 L853.3 544.9 L852.0 546.9 L850.6 548.8 L849.2 550.8 L847.8 552.9 L846.4 554.9 L844.9 556.9 L843.4 559.0 L841.9 560.9 L840.3 563.1 L839.1 564.7 L837.1 567.3 L835.4 569.5 L833.7 571.7 L832.3 573.5 L830.3 575.9 L828.4 578.3 L826.5 580.7 L824.5 583.1 L822.6 585.5 L820.6 587.9 L818.5 590.3 L816.5 592.7 L814.5 595.1 L813.0 596.8 L811.5 598.6 L809.5 600.8 L807.4 603.2 L805.8 604.9 L804.3 606.7 L802.2 609.0 L800.8 610.5 L799.0 612.4 L796.9 614.7 L795.4 616.3 L794.0 617.7 L792.6 619.2 L791.1 620.7 L789.6 622.2 L788.1 623.7 L786.5 625.2 L784.9 626.7 L783.2 628.2 L781.5 629.7 L779.8 631.3 L778.0 632.8 L776.3 634.3 L774.3 635.9 L772.4 637.5 L770.7 638.9 L768.4 640.6 L766.2 642.3 L763.9 643.9 L761.7 645.4 L759.4 646.9 L757.1 648.4 L754.9 649.7 L752.6 651.0 L750.6 652.1 L748.1 653.3 L745.8 654.4 L743.5 655.3 L741.2 656.2 L739.0 656.9 L736.7 657.6"/>
<path d="M723.3 685.7 L720.9 686.4 L718.6 686.9 L716.2 687.3 L713.9 687.5 L711.6 687.4 L709.3 687.2 L707.2 686.8 L704.8 686.0 L702.6 685.0 L700.4 683.7 L698.2 682.1 L696.1 680.1 L694.7 678.5 L693.1 676.5 L691.5 674.2 L690.2 672.1 L688.9 669.9 L687.5 667.0 L686.5 664.8 L685.6 662.7 L684.8 660.5 L683.9 658.3 L683.1 655.9 L682.5 653.8 L681.6 650.8 L680.8 648.1 L680.1 645.3 L679.4 642.5 L678.8 639.5 L678.2 636.4 L677.6 633.3 L677.0 630.3 L676.6 627.4 L676.1 624.5 L675.7 621.6 L675.3 618.7 L675.0 616.2 L674.6 612.9 L674.3 610.1 L674.0 607.3 L673.8 605.1 L673.6 603.0 L673.3 600.3 L673.1 597.5 L672.8 594.7 L672.6 592.0 L672.4 589.5 L672.2 586.6 L672.0 584.0 L671.8 581.4 L671.6 578.7 L671.4 576.1 L671.3 573.6 L671.1 571.1 L670.9 568.6 L670.7 566.1 L670.5 563.7 L670.2 561.3 L670.0 558.9 L669.8 556.9 L669.5 554.3 L669.2 552.1 L668.9 549.8 L668.6 547.6 L668.3 545.5 L667.9 543.3 L667.6 541.2 L667.2 539.1 L666.9 537.0 L666.5 535.0 L666.1 532.9 L665.6 530.9 L665.2 528.9 L664.8 527.0 L664.3 525.0 L663.8 523.1 L663.1 520.2 L662.4 517.3 L661.6 514.5 L660.8 511.6 L660.0 508.8 L659.2 506.0 L658.4 503.2 L657.5 500.4 L656.7 497.7 L656.1 495.8 L655.3 493.0 L654.5 490.2 L653.7 487.7 L653.1 485.5 L652.3 482.6 L651.5 479.8 L650.8 476.9 L650.1 474.0 L649.4 471.1 L648.8 468.1 L648.4 466.2 L648.0 464.2 L647.6 462.2 L647.3 460.2 L646.9 458.3 L646.6 456.3 L646.3 454.3 L646.0 452.3 L645.7 450.3 L645.4 448.3 L645.1 446.3 L644.9 444.3 L644.6 442.2 L644.4 440.2 L644.2 438.2 L643.9 436.2 L643.7 434.2 L643.6 432.2 L643.4 430.2 L643.2 428.1 L643.0 426.1 L642.9 424.1 L642.7 422.1 L642.6 420.1 L642.5 418.1 L642.4 416.1 L642.2 414.0 L642.1 412.0 L642.0 410.0 L641.9 408.0 L641.8 406.0 L641.8 404.0 L641.7 402.0 L641.6 400.0 L641.5 398.0 L641.5 396.0 L641.4 394.0 L641.3 391.0 L641.2 388.0 L641.1 385.0 L641.1 382.0 L641.0 379.0 L641.0 376.0 L640.9 373.6 L640.9 371.1 L640.8 368.1 L640.8 365.1 L640.8 362.1 L640.8 359.1 L640.8 356.1 L640.8 353.1 L640.8 350.1 L640.8 347.2 L640.9 344.2 L640.9 341.2 L641.0 338.2 L641.1 335.2 L641.2 332.2 L641.3 330.2 L641.4 328.2 L641.4 326.2 L641.5 324.2 L641.7 322.2 L641.8 320.2 L641.9 318.2 L642.0 316.2 L642.1 314.2 L642.3 312.2 L642.4 310.2 L642.5 308.1 L642.7 306.1 L642.9 304.1 L643.0 302.1 L643.2 300.1 L643.4 298.1 L643.6 296.1 L643.8 294.1 L644.0 292.0 L644.2 290.0 L644.4 288.0 L644.6 286.0 L644.9 284.0 L645.1 282.0 L645.4 279.9 L645.7 277.9 L646.0 275.9 L646.3 273.9 L646.6 271.8 L646.9 269.8 L647.2 267.8 L647.6 265.8 L647.9 263.7 L648.3 261.7 L648.7 259.7 L649.1 257.6 L649.5 255.6 L649.9 253.6 L650.4 251.5 L650.9 249.5 L651.4 247.4 L651.8 245.4 L652.4 243.4 L652.9 241.3 L653.5 239.3 L654.0 237.2 L654.6 235.2 L655.3 233.1 L655.9 231.1 L656.6 229.1 L657.2 227.0 L657.9 225.0 L658.7 222.9 L659.4 220.8 L660.2 218.8 L661.0 216.7 L661.9 214.7 L662.7 212.6 L663.6 210.6 L664.6 208.5 L665.5 206.5 L666.6 204.4 L667.6 202.4 L668.7 200.3 L669.8 198.2 L671.0 196.2 L672.1 194.3 L673.5 192.1 L674.9 190.0 L676.1 188.3 L677.8 185.9 L679.1 184.3 L681.1 181.8 L682.9 179.7 L684.8 177.7 L686.9 175.6 L689.1 173.6 L691.1 171.9 L692.9 170.5 L695.1 168.9 L697.2 167.6 L699.0 166.5 L700.8 165.5 L702.8 164.5 L705.1 163.5 L707.3 162.6 L709.3 161.9 L711.4 161.2 L713.4 160.7 L715.4 160.2 L717.5 159.8 L719.5 159.4 L721.5 159.1 L723.6 158.9 L725.6 158.8 L727.6 158.7 L729.7 158.6 L731.7 158.7 L733.8 158.8 L735.8 158.9 L737.8 159.1 L739.9 159.4 L741.9 159.7 L744.0 160.0 L746.0 160.5 L748.0 160.9 L750.1 161.4 L752.1 162.0 L754.1 162.6 L756.2 163.3 L758.2 164.0 L760.2 164.7 L762.3 165.5 L764.3 166.4 L766.3 167.2 L768.4 168.2 L770.4 169.2 L772.4 170.2 L774.4 171.3 L776.5 172.4 L778.5 173.5 L780.5 174.7 L782.5 175.9 L784.5 177.1 L786.3 178.3 L788.6 179.8 L790.6 181.2 L792.6 182.6 L794.6 184.0 L796.6 185.5 L798.5 187.0 L800.6 188.6 L802.6 190.2 L804.6 191.8 L806.5 193.4 L808.6 195.2 L810.2 196.6 L812.6 198.7 L814.5 200.6 L816.5 202.5 L818.1 204.0 L820.2 206.1 L822.3 208.2 L824.4 210.3 L826.4 212.4 L828.4 214.4 L830.3 216.5 L832.2 218.7 L834.0 220.7 L835.8 222.8 L837.2 224.5 L839.2 226.9 L840.8 229.0 L842.1 230.6 L844.0 233.1 L845.6 235.1 L847.0 236.9 L848.6 239.2 L849.9 240.9 L851.5 243.3 L852.8 245.1 L854.3 247.3 L855.7 249.3 L857.0 251.3 L858.3 253.4 L859.5 255.4 L860.8 257.4 L861.9 259.4 L863.1 261.4 L864.3 263.4 L865.3 265.2 L866.6 267.4 L867.6 269.4 L868.7 271.4 L869.8 273.4 L870.9 275.3 L871.9 277.3 L872.8 279.3 L873.8 281.3 L874.8 283.3 L875.7 285.2 L876.6 287.2 L877.5 289.2 L878.3 291.2 L879.2 293.1 L880.0 295.1 L880.8 297.0 L881.6 299.0 L882.4 301.0 L883.1 302.9 L883.9 304.9 L884.6 306.8 L885.4 308.8 L886.1 310.7 L886.8 312.7 L887.4 314.6 L888.1 316.6 L888.7 318.5 L889.3 320.5 L889.9 322.4 L890.5 324.3 L891.1 326.3 L891.6 328.2 L892.1 330.2 L892.7 332.1 L893.4 335.0 L894.1 337.8 L894.6 339.8 L895.1 341.8 L895.7 344.7 L896.4 347.6 L897.0 350.4 L897.5 353.3 L898.1 356.2 L898.6 359.1 L899.0 362.0 L899.5 364.9 L899.9 367.8 L900.2 370.6 L900.5 372.7 L900.8 375.6 L901.1 378.5 L901.4 381.4 L901.6 384.3 L901.9 387.2 L902.1 390.2 L902.3 393.1 L902.4 396.0 L902.4 399.0 L902.5 401.9 L902.4 404.8 L902.3 407.8 L902.1 410.7 L902.0 413.7 L901.9 416.6 L901.7 419.6 L901.4 422.6 L901.2 425.5 L900.9 428.5 L900.5 431.4 L900.2 433.7 L899.9 436.4 L899.6 438.4 L899.2 440.3 L898.9 442.3 L898.6 444.3 L898.2 446.3 L897.8 448.3 L897.5 450.2 L897.0 452.2 L896.6 454.2 L896.2 456.2 L895.7 458.1 L895.2 460.1 L894.7 462.1 L894.2 464.1 L893.7 466.0 L893.1 468.0 L892.6 470.0 L892.0 472.0 L891.3 473.9 L890.7 475.9 L890.1 477.9 L889.4 479.8 L888.7 481.8 L888.1 483.7 L887.4 485.7 L886.7 487.7 L886.0 489.6 L885.2 491.6 L884.5 493.5 L883.7 495.5 L882.9 497.4 L882.1 499.4 L881.2 501.3 L880.4 503.3 L879.5 505.1 L878.6 507.1 L877.7 509.1 L876.8 511.0 L875.8 512.9 L874.9 514.9 L873.9 516.8 L872.9 518.7 L871.8 520.7 L870.8 522.6 L869.7 524.5 L868.6 526.4 L867.5 528.3 L866.4 530.2 L865.2 532.2 L864.1 534.1 L862.9 536.0 L861.7 537.9 L860.6 539.6 L859.2 541.7 L858.0 543.6 L856.7 545.5 L855.3 547.4 L854.0 549.3 L852.7 551.2 L851.3 553.1 L849.9 555.0 L848.5 557.0 L847.0 558.9 L845.6 560.9 L844.1 562.9 L842.5 565.0 L841.0 567.0 L839.4 569.1 L838.1 570.9 L836.2 573.3 L834.5 575.5 L833.2 577.2 L832.0 578.8 L830.3 581.0 L828.4 583.4 L826.6 585.8 L824.8 588.2 L823.5 589.9 L822.0 591.9 L820.5 593.8 L818.9 595.8 L817.5 597.6 L815.8 599.8 L814.5 601.4 L812.5 604.0 L810.4 606.7 L809.1 608.2 L807.3 610.6 L805.7 612.6 L804.1 614.6 L802.2 617.1 L799.9 619.9 L798.5 621.6 L796.7 623.9 L794.7 626.3 L793.4 627.9 L792.1 629.4 L790.7 631.0 L789.3 632.6 L787.9 634.2 L786.4 635.9 L784.9 637.5 L783.4 639.2 L781.9 640.8 L780.4 642.5 L778.9 644.1 L777.2 645.8 L775.6 647.5 L773.9 649.2 L772.3 650.9 L770.8 652.3 L768.8 654.3 L767.3 655.7 L765.2 657.7 L763.4 659.4 L761.5 661.1 L759.6 662.8 L757.9 664.2 L755.5 666.2 L753.4 668.0 L751.2 669.7 L749.6 670.9 L747.2 672.7 L744.8 674.4 L742.4 676.1 L740.0 677.6 L737.6 679.1 L735.7 680.2 L732.8 681.7 L730.4 682.9 L728.5 683.8 L725.7 684.9 L723.6 685.7 L723.3 685.7"/>
<path d="M752.4 786.0 L753.2 784.0 L753.3 782.0 L753.1 780.0 L752.7 778.0 L752.2 776.0 L751.7 774.0 L751.1 772.0 L750.5 770.0 L749.9 768.0 L749.3 766.0 L748.7 764.0 L748.0 762.0 L747.4 760.0 L746.7 758.0 L746.1 756.0 L745.5 754.0 L744.8 752.0 L744.2 750.0 L743.6 748.0 L743.0 746.0 L742.4 744.0 L741.8 742.0 L741.2 740.0 L740.6 738.0 L740.0 736.0 L739.4 734.0 L738.8 732.0 L738.2 730.0 L737.6 728.0 L737.1 726.0 L736.6 724.0 L736.1 722.0 L735.7 720.0 L735.4 718.0 L735.1 716.0 L735.0 714.0 L734.9 712.0 L734.9 710.0 L735.1 708.0 L735.4 706.0 L735.8 704.0 L736.3 702.0 L737.0 700.0 L737.8 698.0 L738.7 696.0 L739.7 694.0 L740.9 692.0 L742.2 690.0 L743.5 688.1 L745.0 686.0 L746.5 684.1 L748.3 682.0 L750.0 680.0 L751.5 678.4 L753.5 676.3 L755.5 674.2 L757.5 672.2 L759.5 670.2 L761.5 668.2 L763.5 666.2 L765.5 664.1 L767.5 662.1 L769.5 660.0 L771.5 658.0 L773.4 656.0 L775.3 654.0 L777.2 652.0 L779.1 650.0 L780.5 648.5 L782.0 647.0 L783.5 645.4 L785.5 643.3 L787.5 641.2 L789.5 639.2 L791.5 637.1 L793.5 635.0 L795.5 633.0 L797.4 631.0 L799.3 629.0 L801.2 627.0 L803.1 625.0 L804.5 623.4 L806.5 621.3 L808.5 619.1 L810.5 617.0 L812.4 615.0 L814.2 613.0 L816.1 611.0 L817.5 609.5 L818.9 608.0 L820.5 606.3 L822.5 604.2 L824.5 602.0 L826.3 600.0 L828.1 598.0 L829.5 596.3 L831.4 594.0 L833.2 592.0 L834.5 590.5 L836.5 588.0 L838.2 586.0 L839.5 584.4 L841.4 582.0 L842.9 580.0 L844.5 578.0 L846.0 576.0 L847.5 574.0 L849.0 572.0 L850.4 570.0 L851.9 568.0 L853.3 566.0 L854.5 564.3 L856.0 562.0 L857.3 560.0 L858.5 558.2 L860.0 556.0 L861.2 554.0 L862.5 552.0 L863.8 550.0 L864.9 548.0 L866.1 546.0 L867.3 544.0 L868.5 542.0 L869.7 540.0 L870.8 538.0 L871.9 536.0 L873.0 534.0 L874.2 532.0 L875.2 530.0 L876.2 528.0 L877.3 526.0 L878.3 524.0 L879.3 522.0 L880.3 520.0 L881.2 518.0 L882.2 516.0 L883.1 514.0 L884.0 512.0 L884.9 510.0 L885.8 508.0 L886.7 506.0 L887.5 504.1 L888.4 502.0 L889.2 500.0 L890.0 498.0 L890.9 496.0 L891.6 494.0 L892.4 492.0 L893.1 490.0 L893.8 488.0 L894.6 486.0 L895.3 484.0 L896.0 482.0 L896.7 480.0 L897.4 478.0 L898.1 476.0 L898.8 474.0 L899.4 472.0 L900.0 470.0 L900.6 468.0 L901.1 466.0 L901.7 464.0 L902.2 462.0 L902.7 460.0 L903.1 458.0 L903.6 456.0 L904.0 454.0 L904.3 452.0 L904.7 450.0 L905.1 448.0 L905.4 446.0 L905.7 444.0 L906.0 442.0 L906.3 440.0 L906.5 438.0 L906.8 436.0 L907.0 434.0 L907.3 432.0 L907.5 430.0 L907.6 428.0 L907.8 426.0 L908.1 424.0 L908.2 422.0 L908.3 420.0 L908.4 418.0 L908.5 416.0 L908.6 414.0 L908.7 412.0 L909.0 410.0 L909.1 408.0 L909.1 406.0 L909.2 404.0 L909.2 402.0 L909.2 400.0 L909.2 398.0 L909.2 396.0 L909.1 394.0 L909.1 392.0 L909.0 390.0 L909.0 388.0 L908.8 386.0 L908.5 384.0 L908.3 382.0 L908.2 380.0 L908.1 378.0 L908.0 376.0 L907.9 374.0 L907.7 372.0 L907.4 370.0 L907.2 368.0 L907.1 366.0 L906.9 364.0 L906.5 362.0 L906.3 360.0 L906.1 358.0 L905.8 356.0 L905.4 354.0 L905.1 352.0 L904.8 350.0 L904.4 348.0 L904.1 346.0 L903.6 344.0 L903.2 342.0 L902.8 340.0 L902.3 338.0 L901.9 336.0 L901.4 334.0 L900.9 332.0 L900.3 330.0 L899.8 328.0 L899.3 326.0 L898.8 324.0 L898.2 322.0 L897.6 320.0 L897.0 318.0 L896.4 316.0 L895.8 314.0 L895.1 312.0 L894.4 310.0 L893.8 308.0 L893.1 306.0 L892.3 304.0 L891.6 302.0 L890.8 300.0 L890.0 298.0 L889.2 296.0 L888.4 294.0 L887.6 292.0 L886.8 290.0 L886.0 288.0 L885.1 286.0 L884.3 284.0 L883.5 282.1 L882.5 280.0 L881.6 278.0 L880.6 276.0 L879.7 274.0 L878.7 272.0 L877.7 270.0 L876.7 268.0 L875.7 266.0 L874.6 264.0 L873.5 262.0 L872.5 260.1 L871.5 258.3 L870.5 256.6 L869.5 254.8 L868.5 253.1 L867.3 251.0 L866.1 249.0 L864.9 247.0 L863.7 245.0 L862.5 243.2 L861.1 241.0 L859.8 239.0 L858.5 237.2 L857.0 235.0 L855.6 233.0 L854.2 231.0 L852.8 229.0 L851.5 227.3 L849.8 225.0 L848.5 223.4 L846.7 221.0 L845.1 219.0 L843.5 217.0 L841.9 215.0 L840.5 213.4 L838.5 211.0 L836.8 209.0 L835.5 207.4 L833.5 205.2 L831.5 203.1 L829.5 201.0 L827.6 199.0 L825.7 197.0 L823.8 195.0 L821.9 193.0 L820.5 191.6 L819.0 190.0 L817.5 188.5 L816.0 187.0 L814.5 185.6 L812.8 184.0 L810.7 182.0 L808.5 180.0 L806.5 178.2 L804.5 176.4 L802.9 175.0 L800.5 173.0 L798.5 171.3 L796.9 170.0 L794.5 168.0 L792.5 166.4 L790.8 165.0 L788.5 163.2 L786.9 162.0 L784.5 160.2 L782.8 159.0 L780.5 157.3 L778.6 156.0 L776.5 154.6 L774.5 153.2 L772.7 152.0 L770.5 150.6 L768.5 149.3 L766.5 148.1 L764.7 147.0 L762.5 145.7 L760.5 144.6 L758.5 143.4 L756.5 142.4 L754.5 141.3 L752.5 140.3 L750.5 139.3 L748.5 138.3 L746.5 137.4 L744.5 136.5 L742.5 135.6 L740.5 134.8 L738.6 134.0 L736.5 133.2 L734.5 132.4 L732.5 131.7 L730.6 131.0 L728.5 130.3 L726.5 129.7 L724.5 129.1 L722.5 128.5 L720.5 128.0 L718.5 127.5 L716.5 127.0 L714.5 126.6 L712.5 126.2 L710.5 125.9 L708.5 125.6 L706.5 125.4 L704.5 125.3 L702.5 125.2 L700.5 125.1 L698.5 125.2 L696.5 125.4 L694.5 125.6 L692.5 125.9 L690.5 126.3 L688.5 126.9 L686.5 127.5 L684.5 128.3 L682.5 129.2 L680.5 130.2 L678.5 131.4 L676.5 132.7 L674.7 134.0 L672.5 135.7 L670.5 137.5 L668.9 139.0 L667.5 140.4 L666.1 142.0 L664.5 143.8 L662.7 146.0 L661.2 148.0 L659.8 150.0 L658.5 151.9 L657.2 154.0 L656.0 156.0 L654.8 158.0 L653.8 160.0 L652.7 162.0 L651.8 164.0 L650.9 166.0 L650.0 168.0 L649.1 170.0 L648.3 172.0 L647.6 174.0 L646.9 176.0 L646.2 178.0 L645.5 180.0 L644.8 182.0 L644.2 184.0 L643.6 186.0 L643.0 188.0 L642.5 190.0 L641.9 192.0 L641.4 194.0 L640.9 196.0 L640.4 198.0 L639.9 200.0 L639.5 202.0 L639.0 204.0 L638.6 206.0 L638.2 208.0 L637.7 210.0 L637.3 212.0 L636.9 214.0 L636.5 216.0 L636.1 218.0 L635.8 220.0 L635.4 222.0 L635.0 224.0 L634.7 226.0 L634.3 228.0 L634.0 230.0 L633.6 232.0 L633.3 234.0 L633.0 236.0 L632.7 238.0 L632.4 240.0 L632.1 242.0 L631.8 244.0 L631.6 246.0 L631.3 248.0 L631.1 250.0 L630.8 252.0 L630.6 254.0 L630.4 256.0 L630.2 258.0 L630.0 260.0 L629.8 262.0 L629.6 264.0 L629.4 266.0 L629.2 268.0 L629.1 270.0 L628.9 272.0 L628.8 274.0 L628.6 276.0 L628.5 278.0 L628.3 280.0 L628.2 282.0 L628.0 284.0 L627.9 286.0 L627.8 288.0 L627.7 290.0 L627.6 292.0 L627.5 294.0 L627.4 296.0 L627.3 298.0 L627.2 300.0 L627.1 302.0 L627.0 304.0 L627.0 306.0 L626.9 308.0 L626.9 310.0 L626.8 312.0 L626.7 314.0 L626.6 316.0 L626.5 318.0 L626.4 320.0 L626.4 322.0 L626.3 324.0 L626.3 326.0 L626.2 328.0 L626.2 330.0 L626.2 332.0 L626.2 334.0 L626.1 336.0 L626.1 338.0 L626.1 340.0 L626.1 342.0 L626.0 344.0 L626.0 346.0 L626.0 348.0 L626.0 350.0 L625.9 352.0 L625.9 354.0 L625.9 356.0 L625.9 358.0 L625.8 360.0 L625.8 362.0 L625.8 364.0 L625.9 366.0 L625.9 368.0 L626.0 370.0 L626.0 372.0 L626.0 374.0 L626.0 376.0 L626.0 378.0 L625.9 380.0 L625.9 382.0 L625.9 384.0 L625.9 386.0 L625.9 388.0 L626.0 390.0 L626.0 392.0 L626.1 394.0 L626.1 396.0 L626.2 398.0 L626.3 400.0 L626.4 402.0 L626.6 404.0 L626.7 406.0 L626.9 408.0 L627.0 410.0 L627.2 412.0 L627.3 414.0 L627.5 416.0 L627.7 418.0 L627.9 420.0 L628.0 422.0 L628.2 424.0 L628.4 426.0 L628.6 428.0 L628.8 430.0 L629.0 432.0 L629.2 434.0 L629.4 436.0 L629.6 438.0 L629.8 440.0 L629.9 442.0 L630.2 444.0 L630.4 446.0 L630.6 448.0 L630.8 450.0 L631.0 452.0 L631.2 454.0 L631.4 456.0 L631.7 458.0 L631.9 460.0 L632.1 462.0 L632.4 464.0 L632.6 466.0 L632.8 468.0 L633.0 470.0 L633.3 472.0 L633.5 474.0 L633.7 476.0 L633.9 478.0 L634.2 480.0 L634.4 482.0 L634.6 484.0 L634.8 486.0 L635.0 488.0 L635.3 490.0 L635.5 492.0 L635.7 494.0 L635.9 496.0 L636.1 498.0 L636.4 500.0 L636.6 502.0 L636.8 504.0 L637.0 506.0 L637.3 508.0 L637.5 510.0 L637.8 512.0 L638.0 514.0 L638.3 516.0 L638.6 518.0 L638.9 520.0 L639.2 522.0 L639.5 524.0 L639.8 526.0 L640.1 528.0 L640.5 530.0 L640.9 532.0 L641.2 534.0 L641.6 536.0 L642.0 538.0 L642.4 540.0 L642.9 542.0 L643.3 544.0 L643.7 546.0 L644.2 548.0 L644.7 550.0 L645.2 552.0 L645.7 554.0 L646.2 556.0 L646.7 558.0 L647.2 560.0 L647.8 562.0 L648.3 564.0 L648.9 566.0 L649.4 568.0 L650.0 570.0 L650.5 572.0 L651.1 574.0 L651.6 576.0 L652.2 578.0 L652.7 580.0 L653.3 582.0 L653.8 584.0 L654.4 586.0 L654.9 588.0 L655.5 590.0 L656.0 592.0 L656.5 594.0 L657.1 596.0 L657.6 598.0 L658.1 600.0 L658.7 602.0 L659.2 604.0 L659.7 606.0 L660.2 608.0 L660.7 610.0 L661.2 612.0 L661.8 614.0 L662.3 616.0 L662.8 618.0 L663.3 620.0 L663.8 622.0 L664.4 624.0 L664.9 626.0 L665.4 628.0 L665.9 630.0 L666.5 632.0 L667.0 634.0 L667.5 636.0 L668.1 638.0 L668.6 640.0 L669.1 642.0 L669.7 644.0 L670.2 646.0 L670.7 648.0 L671.2 650.0 L671.7 652.0 L672.2 654.0 L672.7 656.0 L673.2 658.0 L673.7 660.0 L674.1 662.0 L674.5 664.0 L674.9 666.0 L675.2 668.0 L675.6 670.0 L675.8 672.0 L676.0 674.0 L676.2 676.0 L676.3 678.0 L676.3 680.0 L676.2 682.0 L676.0 684.0 L675.8 686.0 L675.4 688.0 L674.9 690.0 L674.2 692.0 L673.4 694.0 L672.5 695.8 L671.5 697.6 L669.9 700.0 L668.5 701.9 L666.8 704.0 L664.9 706.0 L663.5 707.5 L662.0 709.0 L660.5 710.4 L658.8 712.0 L656.6 714.0 L654.5 715.9 L652.5 717.6 L650.8 719.0 L648.5 721.0 L646.5 722.7 L644.5 724.5 L643.0 726.0 L641.5 727.8 L640.1 730.0 L639.6 732.0 L640.3 734.0 L642.5 734.8 L644.5 733.8 L646.5 733.8 L648.5 732.5 L650.5 731.6 L652.5 730.5 L654.5 730.1 L656.5 729.2 L658.5 728.5 L660.5 727.7 L662.5 726.9 L664.5 726.3 L666.5 725.5 L668.5 724.8 L670.5 724.1 L672.5 723.5 L674.5 723.0 L676.5 722.6 L678.5 722.2 L680.5 721.8 L682.5 721.6 L684.5 721.6 L686.5 721.7 L688.5 721.9 L690.5 722.2 L692.5 722.7 L694.5 723.3 L696.5 724.1 L698.5 725.0 L700.4 726.0 L702.5 727.2 L704.5 728.5 L706.5 729.9 L708.5 731.4 L710.5 732.9 L712.5 734.5 L714.2 736.0 L716.4 738.0 L718.3 740.0 L720.1 742.0 L721.5 743.6 L723.4 746.0 L724.8 748.0 L726.1 750.0 L727.3 752.0 L728.3 754.0 L729.3 756.0 L730.3 758.0 L731.2 760.0 L732.3 762.0 L733.4 764.0 L734.5 766.0 L735.5 767.9 L736.8 770.0 L738.2 772.0 L739.5 773.6 L741.4 776.0 L742.5 778.0 L744.0 780.0 L745.5 781.8 L746.7 784.0 L748.5 785.8 L750.5 786.8 L752.4 786.0"/>
<path d="M944.5 773.9 L942.6 773.0 L940.5 772.9 L938.5 771.9 L936.6 771.0 L934.5 770.9 L932.6 770.0 L930.5 769.9 L928.5 768.9 L926.6 768.0 L924.5 767.9 L922.6 767.0 L920.5 766.9 L918.5 765.9 L916.6 765.0 L914.5 764.9 L912.6 764.0 L910.5 763.9 L908.5 762.9 L906.6 762.0 L904.5 761.9 L902.6 761.0 L900.5 760.9 L898.5 759.9 L896.6 759.0 L894.5 758.9 L892.6 758.0 L890.5 757.9 L888.5 756.9 L886.5 756.0 L884.5 756.0 L882.5 755.0 L880.5 754.0 L878.5 754.0 L876.5 753.4 L874.5 753.6 L872.5 754.0 L870.5 754.1 L868.5 754.6 L866.5 754.7 L864.5 755.1 L862.5 755.4 L860.5 755.6 L858.5 756.0 L856.5 756.1 L854.5 756.6 L852.5 756.6 L850.5 757.1 L848.5 757.1 L846.5 757.6 L844.5 757.7 L842.5 758.1 L840.5 758.4 L838.5 758.6 L836.5 759.0 L834.5 759.1 L832.5 759.6 L830.5 759.7 L828.5 760.1 L826.5 760.4 L824.5 760.6 L822.5 761.0 L820.5 761.1 L818.5 761.6 L816.5 761.6 L814.5 762.1 L812.5 762.1 L810.5 762.6 L808.5 762.7 L806.5 763.1 L804.5 763.4 L802.5 763.6 L800.5 764.0 L798.5 764.1 L796.5 764.6 L794.5 764.7 L792.5 765.1 L790.5 765.4 L788.5 765.6 L786.5 766.0 L784.5 766.1 L782.5 766.6 L780.5 766.6 L778.5 767.1 L776.5 767.1 L774.5 767.6 L772.5 767.7 L770.5 768.1 L768.5 768.4 L766.5 768.6 L764.5 769.1 L762.5 769.1 L760.5 769.6 L758.5 769.7 L757.3 768.0 L757.1 766.0 L756.8 764.0 L756.2 762.0 L755.5 760.0 L755.2 758.0 L754.8 756.0 L754.2 754.0 L753.6 752.0 L753.2 750.0 L752.8 748.0 L752.3 746.0 L751.8 744.0 L751.3 742.0 L750.9 740.0 L750.5 738.0 L750.2 736.0 L749.8 734.0 L749.5 732.0 L749.2 730.0 L748.9 728.0 L748.7 726.0 L748.4 724.0 L748.3 722.0 L748.1 720.0 L748.1 718.0 L748.1 716.0 L748.2 714.0 L748.3 712.0 L748.5 710.0 L748.8 708.0 L749.2 706.0 L749.7 704.0 L750.3 702.0 L751.0 700.0 L751.9 698.0 L752.8 696.0 L753.8 694.0 L754.9 692.0 L756.1 690.0 L757.5 688.0 L759.0 686.0 L760.5 684.2 L762.3 682.0 L764.1 680.0 L765.5 678.5 L767.5 676.2 L769.5 674.0 L771.1 672.0 L772.5 670.3 L774.2 668.0 L775.5 666.3 L777.3 664.0 L778.5 662.3 L780.3 660.0 L781.5 658.4 L783.3 656.0 L784.9 654.0 L786.5 652.0 L788.1 650.0 L789.5 648.3 L791.4 646.0 L793.0 644.0 L794.5 642.2 L796.3 640.0 L798.0 638.0 L799.5 636.3 L801.4 634.0 L803.2 632.0 L804.5 630.4 L806.5 628.1 L808.3 626.0 L810.0 624.0 L811.5 622.3 L813.5 620.0 L815.2 618.0 L817.0 616.0 L818.5 614.3 L820.5 612.0 L822.2 610.0 L824.0 608.0 L825.5 606.3 L827.5 604.0 L829.2 602.0 L830.5 600.5 L832.5 598.1 L834.2 596.0 L835.5 594.4 L837.5 592.0 L839.1 590.0 L840.5 588.2 L842.3 586.0 L843.5 584.4 L845.4 582.0 L846.9 580.0 L848.4 578.0 L849.8 576.0 L851.3 574.0 L852.5 572.3 L854.1 570.0 L855.5 568.0 L856.8 566.0 L858.1 564.0 L859.4 562.0 L860.7 560.0 L862.0 558.0 L863.3 556.0 L864.5 554.0 L865.7 552.0 L866.9 550.0 L868.1 548.0 L869.3 546.0 L870.4 544.0 L871.5 542.1 L872.5 540.3 L873.5 538.5 L874.5 536.7 L875.5 534.9 L876.5 533.1 L877.5 531.2 L878.5 529.3 L879.5 527.3 L880.5 525.3 L881.5 523.3 L882.5 521.3 L883.5 519.3 L884.5 517.2 L885.5 515.1 L886.5 513.0 L887.4 511.0 L888.3 509.0 L889.2 507.0 L890.1 505.0 L891.0 503.0 L891.9 501.0 L892.7 499.0 L893.5 497.1 L894.4 495.0 L895.2 493.0 L896.0 491.0 L896.8 489.0 L897.5 487.1 L898.3 485.0 L899.1 483.0 L899.8 481.0 L900.6 479.0 L901.3 477.0 L902.0 475.0 L902.7 473.0 L903.4 471.0 L904.0 469.0 L904.6 467.0 L905.1 465.0 L905.7 463.0 L906.2 461.0 L906.6 459.0 L907.0 457.0 L907.4 455.0 L907.8 453.0 L908.1 451.0 L908.4 449.0 L908.7 447.0 L908.9 445.0 L909.2 443.0 L909.4 441.0 L909.7 439.0 L909.9 437.0 L910.1 435.0 L910.3 433.0 L910.4 431.0 L910.6 429.0 L910.8 427.0 L910.9 425.0 L911.1 423.0 L911.2 421.0 L911.3 419.0 L911.3 417.0 L911.4 415.0 L911.5 413.0 L911.6 411.0 L911.8 409.0 L911.8 407.0 L911.9 405.0 L911.9 403.0 L911.9 401.0 L911.9 399.0 L911.8 397.0 L911.8 395.0 L911.7 393.0 L911.7 391.0 L911.6 389.0 L911.5 387.0 L911.3 385.0 L911.1 383.0 L911.0 381.0 L910.8 379.0 L910.7 377.0 L910.6 375.0 L910.4 373.0 L910.2 371.0 L910.0 369.0 L909.8 367.0 L909.6 365.0 L909.4 363.0 L909.1 361.0 L908.9 359.0 L908.6 357.0 L908.4 355.0 L908.1 353.0 L907.8 351.0 L907.4 349.0 L907.1 347.0 L906.7 345.0 L906.3 343.0 L905.9 341.0 L905.5 339.0 L905.0 337.0 L904.5 335.0 L904.0 333.0 L903.5 331.0 L903.0 329.0 L902.4 327.0 L901.9 325.0 L901.3 323.0 L900.7 321.0 L900.1 319.0 L899.5 317.0 L898.9 315.0 L898.3 313.0 L897.6 311.0 L897.0 309.0 L896.3 307.0 L895.6 305.0 L894.9 303.0 L894.1 301.0 L893.4 299.0 L892.6 297.0 L891.8 295.0 L891.0 293.0 L890.3 291.0 L889.5 289.1 L888.6 287.0 L887.8 285.0 L887.0 283.0 L886.1 281.0 L885.3 279.0 L884.4 277.0 L883.5 275.1 L882.5 273.0 L881.6 271.0 L880.6 269.0 L879.6 267.0 L878.6 265.0 L877.6 263.0 L876.6 261.0 L875.5 259.0 L874.5 257.1 L873.5 255.3 L872.5 253.5 L871.5 251.7 L870.5 249.9 L869.5 248.2 L868.2 246.0 L867.0 244.0 L865.8 242.0 L864.6 240.0 L863.3 238.0 L862.0 236.0 L860.7 234.0 L859.5 232.3 L858.0 230.0 L856.6 228.0 L855.1 226.0 L853.7 224.0 L852.5 222.4 L850.7 220.0 L849.5 218.4 L847.7 216.0 L846.1 214.0 L844.5 212.0 L842.9 210.0 L841.5 208.3 L839.6 206.0 L837.9 204.0 L836.5 202.4 L834.5 200.1 L832.6 198.0 L830.8 196.0 L829.0 194.0 L827.5 192.4 L825.5 190.2 L823.5 188.0 L821.6 186.0 L819.7 184.0 L817.7 182.0 L815.7 180.0 L813.7 178.0 L811.7 176.0 L809.6 174.0 L807.5 172.0 L805.5 170.1 L803.5 168.2 L801.5 166.4 L800.0 165.0 L797.8 163.0 L795.5 161.0 L793.5 159.2 L791.5 157.5 L789.7 156.0 L787.5 154.1 L785.5 152.5 L783.7 151.0 L781.5 149.2 L779.5 147.6 L777.5 146.0 L775.5 144.5 L773.6 143.0 L771.5 141.4 L769.6 140.0 L767.5 138.4 L765.5 137.0 L763.5 135.5 L761.5 134.1 L759.5 132.7 L757.5 131.3 L755.6 130.0 L753.5 128.6 L751.5 127.2 L749.7 126.0 L747.5 124.5 L745.5 123.2 L743.7 122.0 L741.5 120.5 L739.5 119.2 L737.6 118.0 L735.5 116.6 L733.5 115.3 L731.6 114.0 L729.5 112.6 L727.5 111.3 L725.6 110.0 L723.5 108.5 L721.5 107.1 L719.5 105.7 L717.5 104.2 L715.9 103.0 L713.5 101.1 L711.5 99.5 L709.8 98.0 L707.6 96.0 L705.7 94.0 L704.0 92.0 L702.5 90.0 L701.3 88.0 L700.3 86.0 L699.5 84.0 L699.0 82.0 L698.7 80.0 L698.6 78.0 L698.8 76.0 L699.3 74.0 L699.3 72.0 L699.8 70.0 L699.8 68.0 L699.8 66.0 L700.3 64.0 L700.3 62.0 L700.8 60.0 L700.8 58.0 L700.8 56.0 L701.3 54.0 L701.3 52.0 L701.8 50.0"/>
<path d="M599.5 57.3 L601.5 58.6 L603.5 59.6 L605.5 60.8 L607.5 61.8 L609.5 62.8 L611.5 63.8 L613.5 64.8 L615.5 65.8 L617.5 67.3 L619.5 68.3 L621.5 69.3 L623.5 70.3 L625.5 71.3 L627.5 72.3 L629.5 73.3 L631.5 74.6 L633.5 75.6 L635.5 76.8 L637.5 77.8 L639.5 78.8 L641.5 79.8 L643.5 80.8 L645.5 81.8 L647.5 82.8 L649.5 84.3 L651.5 85.3 L653.0 87.0 L653.5 89.0 L653.9 91.0 L654.1 93.0 L654.1 95.0 L654.1 97.0 L653.9 99.0 L653.6 101.0 L653.2 103.0 L652.7 105.0 L652.1 107.0 L651.4 109.0 L650.7 111.0 L649.9 113.0 L649.1 115.0 L648.2 117.0 L647.3 119.0 L646.4 121.0 L645.5 123.0 L644.6 125.0 L643.6 127.0 L642.7 129.0 L641.8 131.0 L640.9 133.0 L640.1 135.0 L639.2 137.0 L638.4 139.0 L637.6 141.0 L636.9 143.0 L636.2 145.0 L635.6 147.0 L635.0 149.0 L634.4 151.0 L634.0 153.0 L633.5 155.0 L633.1 157.0 L632.7 159.0 L632.4 161.0 L632.0 163.0 L631.7 165.0 L631.5 167.0 L631.2 169.0 L630.9 171.0 L630.7 173.0 L630.5 175.0 L630.2 177.0 L630.0 179.0 L629.8 181.0 L629.6 183.0 L629.4 185.0 L629.3 187.0 L629.1 189.0 L628.9 191.0 L628.7 193.0 L628.6 195.0 L628.4 197.0 L628.3 199.0 L628.1 201.0 L628.0 203.0 L627.8 205.0 L627.7 207.0 L627.5 209.0 L627.4 211.0 L627.2 213.0 L627.1 215.0 L626.9 217.0 L626.7 219.0 L626.6 221.0 L626.4 223.0 L626.2 225.0 L626.0 227.0 L625.8 229.0 L625.6 231.0 L625.4 233.0 L625.2 235.0 L625.1 237.0 L624.9 239.0 L624.8 241.0 L624.6 243.0 L624.4 245.0 L624.3 247.0 L624.2 249.0 L624.0 251.0 L623.9 253.0 L623.8 255.0 L623.6 257.0 L623.5 259.0 L623.4 261.0 L623.3 263.0 L623.2 265.0 L623.1 267.0 L623.0 269.0 L622.9 271.0 L622.8 273.0 L622.7 275.0 L622.6 277.0 L622.5 279.0 L622.4 281.0 L622.3 283.0 L622.3 285.0 L622.2 287.0 L622.1 289.0 L622.0 291.0 L621.9 293.0 L621.8 295.0 L621.8 297.0 L621.7 299.0 L621.6 301.0 L621.5 303.0 L619.5 304.0 L617.5 304.0 L615.5 304.0 L613.5 304.0 L611.5 304.0 L609.5 304.0 L607.5 304.0 L605.5 304.0 L603.5 304.0 L601.5 304.0 L599.5 304.0"/>
<path d="M599.5 434.5 L601.5 434.5 L603.5 434.5 L605.5 434.5 L607.5 434.5 L609.5 434.5 L611.5 434.5 L613.5 434.5 L615.5 434.5 L617.5 434.5 L619.5 434.5 L621.5 434.5 L621.7 437.0 L621.9 439.0 L622.0 441.0 L622.2 443.0 L622.4 445.0 L622.6 447.0 L622.7 449.0 L622.9 451.0 L623.1 453.0 L623.3 455.0 L623.4 457.0 L623.6 459.0 L623.8 461.0 L624.0 463.0 L624.2 465.0 L624.4 467.0 L624.5 469.0 L624.7 471.0 L624.9 473.0 L625.0 475.0 L625.1 477.0 L625.2 479.0 L625.3 481.0 L625.4 483.0 L625.5 485.0 L625.7 487.0 L625.8 489.0 L625.9 491.0 L626.0 493.0 L626.1 495.0 L626.2 497.0 L626.3 499.0 L626.3 501.0 L626.4 503.0 L626.4 505.0 L626.4 507.0 L626.5 509.0 L626.6 511.0 L626.7 513.0 L626.8 515.0 L626.9 517.0 L627.1 519.0 L627.3 521.0 L627.5 523.0 L627.7 525.0 L627.9 527.0 L628.1 529.0 L628.4 531.0 L628.7 533.0 L629.0 535.0 L629.4 537.0 L629.7 539.0 L630.1 541.0 L630.4 543.0 L630.8 545.0 L631.2 547.0 L631.7 549.0 L632.2 551.0 L632.7 553.0 L633.3 555.0 L633.9 557.0 L634.5 559.0 L635.1 561.0 L635.7 563.0 L636.4 565.0 L637.0 567.0 L637.6 569.0 L638.3 571.0 L638.9 573.0 L639.6 575.0 L640.2 577.0 L640.8 579.0 L641.4 581.0 L642.0 583.0 L642.6 585.0 L643.2 587.0 L643.8 589.0 L644.4 591.0 L644.9 593.0 L645.5 595.0 L646.0 597.0 L646.5 599.0 L647.0 601.0 L647.5 603.0 L648.0 605.0 L648.5 607.0 L649.0 609.0 L649.4 611.0 L649.9 613.0 L650.3 615.0 L650.8 617.0 L651.3 619.0 L651.7 621.0 L652.2 623.0 L652.6 625.0 L653.1 627.0 L653.5 629.0 L654.0 631.0 L654.4 633.0 L654.9 635.0 L655.4 637.0 L655.8 639.0 L656.3 641.0 L656.8 643.0 L657.2 645.0 L657.7 647.0 L658.2 649.0 L658.6 651.0 L659.1 653.0 L659.6 655.0 L660.1 657.0 L660.5 659.0 L661.0 661.0 L661.4 663.0 L661.8 665.0 L662.1 667.0 L662.5 669.0 L662.7 671.0 L662.9 673.0 L663.1 675.0 L663.2 677.0 L663.2 679.0 L663.1 681.0 L662.9 683.0 L662.6 685.0 L662.3 687.0 L661.8 689.0 L661.2 691.0 L660.5 693.0 L659.6 695.0 L658.7 697.0 L657.6 699.0 L656.5 700.7 L655.0 703.0 L653.5 704.9 L651.8 707.0 L650.0 709.0 L648.5 710.5 L647.0 712.0 L645.5 713.4 L643.7 715.0 L641.5 717.0 L639.5 718.7 L637.9 720.0 L635.5 722.0 L633.5 723.4 L631.5 724.9 L629.5 723.4 L627.5 722.4 L625.6 721.0 L623.6 720.0 L621.6 719.0 L619.5 717.4 L617.5 716.3 L615.6 715.0 L613.6 714.0 L611.5 712.4 L609.5 711.3 L607.6 710.0 L605.6 709.0 L603.5 707.4 L601.5 706.3 L599.6 705.0 L599.5 704.9"/>
<path d="M944.5 773.6 L942.5 772.6 L940.5 772.6 L938.5 771.6 L936.5 770.6 L934.5 770.6 L932.5 769.6 L930.5 769.6 L928.5 768.6 L926.5 767.6 L924.5 767.6 L922.5 766.6 L920.5 766.6 L918.5 765.6 L916.5 764.6 L914.5 764.5 L912.5 763.5 L910.5 763.5 L908.5 762.5 L906.5 761.5 L904.5 761.5 L902.5 760.5 L900.5 760.5 L898.5 759.5 L896.5 758.5 L894.5 758.5 L892.5 757.5 L890.5 757.5 L888.5 756.5 L886.5 755.5 L884.5 755.5 L882.5 754.5 L880.5 753.5 L878.5 753.4 L876.5 752.4 L874.5 751.4 L872.5 751.4 L870.5 750.4 L868.5 750.4 L866.5 749.4 L864.5 748.3 L862.5 748.3 L860.5 747.3 L858.5 746.3 L856.5 746.3 L854.5 745.3 L852.5 744.2 L850.5 744.2 L848.5 743.2 L846.5 742.1 L844.5 742.1 L842.5 741.0 L840.5 740.0 L838.5 739.0 L836.5 739.0 L834.5 738.0 L832.5 737.0 L830.5 736.0 L828.5 736.0 L826.5 735.0 L824.5 734.0 L822.5 733.0 L820.5 732.0 L818.5 731.0 L816.5 730.0 L814.5 729.0 L812.5 728.0 L810.5 727.0 L808.5 726.0 L806.5 725.0 L804.5 723.6 L803.1 722.0 L802.1 720.0 L800.9 718.0 L799.9 716.0 L798.9 714.0 L797.1 712.0 L796.1 710.0 L794.9 708.0 L793.9 706.0 L792.9 704.0 L791.1 702.0 L790.1 700.0 L788.9 698.0 L787.9 696.0 L786.9 694.0 L785.1 692.0 L784.1 690.0 L782.9 688.0 L781.9 686.0 L780.9 684.0 L779.1 682.0 L779.4 680.0 L780.0 678.0 L780.7 676.0 L781.4 674.0 L782.4 672.0 L783.4 670.0 L784.5 668.0 L785.5 666.2 L786.8 664.0 L788.0 662.0 L789.2 660.0 L790.5 658.0 L791.8 656.0 L793.2 654.0 L794.5 652.0 L795.9 650.0 L797.3 648.0 L798.5 646.3 L800.2 644.0 L801.5 642.2 L803.1 640.0 L804.5 638.2 L806.2 636.0 L807.5 634.3 L809.3 632.0 L810.9 630.0 L812.5 628.0 L814.1 626.0 L815.5 624.3 L817.3 622.0 L819.0 620.0 L820.5 618.1 L822.2 616.0 L823.5 614.4 L825.5 612.0 L827.2 610.0 L828.5 608.4 L830.5 606.0 L832.1 604.0 L833.5 602.3 L835.3 600.0 L837.0 598.0 L838.5 596.1 L840.1 594.0 L841.5 592.3 L843.2 590.0 L844.5 588.4 L846.3 586.0 L847.5 584.4 L849.3 582.0 L850.5 580.3 L852.2 578.0 L853.5 576.1 L855.0 574.0 L856.3 572.0 L857.5 570.3 L859.0 568.0 L860.3 566.0 L861.5 564.1 L862.8 562.0 L864.1 560.0 L865.3 558.0 L866.5 556.0 L867.7 554.0 L868.9 552.0 L870.1 550.0 L871.2 548.0 L872.4 546.0 L873.5 544.0 L874.5 542.2 L875.5 540.4 L876.5 538.5 L877.5 536.7 L878.5 534.8 L879.5 533.0 L880.5 531.1 L881.5 529.1 L882.5 527.2 L883.5 525.2 L884.5 523.2 L885.5 521.2 L886.5 519.1 L887.5 517.1 L888.5 515.0 L889.4 513.0 L890.4 511.0 L891.3 509.0 L892.2 507.0 L893.2 505.0 L894.1 503.0 L895.0 501.0 L895.8 499.0 L896.7 497.0 L897.5 495.2 L898.4 493.0 L899.3 491.0 L900.1 489.0 L900.9 487.0 L901.8 485.0 L902.6 483.0 L903.4 481.0 L904.2 479.0 L905.0 477.0 L905.7 475.0 L906.5 473.0 L907.2 471.0 L907.8 469.0 L908.4 467.0 L909.0 465.0 L909.5 463.0 L910.0 461.0 L910.4 459.0 L910.8 457.0 L911.1 455.0 L911.4 453.0 L911.7 451.0 L911.9 449.0 L912.2 447.0 L912.4 445.0 L912.6 443.0 L912.7 441.0 L912.9 439.0 L913.1 437.0 L913.2 435.0 L913.4 433.0 L913.5 431.0 L913.6 429.0 L913.8 427.0 L913.9 425.0 L914.0 423.0 L914.1 421.0 L914.2 419.0 L914.2 417.0 L914.3 415.0 L914.4 413.0 L914.5 411.0 L914.5 409.0 L914.6 407.0 L914.6 405.0 L914.6 403.0 L914.6 401.0 L914.6 399.0 L914.5 397.0 L914.5 395.0 L914.4 393.0 L914.3 391.0 L914.2 389.0 L914.1 387.0 L914.0 385.0 L913.8 383.0 L913.7 381.0 L913.5 379.0 L913.4 377.0 L913.2 375.0 L913.0 373.0 L912.9 371.0 L912.7 369.0 L912.5 367.0 L912.3 365.0 L912.1 363.0 L911.9 361.0 L911.6 359.0 L911.4 357.0 L911.1 355.0 L910.9 353.0 L910.6 351.0 L910.3 349.0 L909.9 347.0 L909.6 345.0 L909.2 343.0 L908.8 341.0 L908.4 339.0 L907.9 337.0 L907.4 335.0 L906.9 333.0 L906.4 331.0 L905.9 329.0 L905.3 327.0 L904.8 325.0 L904.2 323.0 L903.6 321.0 L903.0 319.0 L902.4 317.0 L901.8 315.0 L901.1 313.0 L900.5 311.0 L899.8 309.0 L899.2 307.0 L898.5 305.1 L897.8 303.0 L897.1 301.0 L896.3 299.0 L895.6 297.0 L894.8 295.0 L894.1 293.0 L893.3 291.0 L892.5 289.0 L891.7 287.0 L890.9 285.0 L890.1 283.0 L889.3 281.0 L888.4 279.0 L887.6 277.0 L886.7 275.0 L885.8 273.0 L884.9 271.0 L884.0 269.0 L883.0 267.0 L882.1 265.0 L881.1 263.0 L880.1 261.0 L879.1 259.0 L878.1 257.0 L877.1 255.0 L876.0 253.0 L874.9 251.0 L873.8 249.0 L872.7 247.0 L871.6 245.0 L870.5 243.1 L869.3 241.0 L868.1 239.0 L866.9 237.0 L865.6 235.0 L864.5 233.3 L863.0 231.0 L861.7 229.0 L860.5 227.2 L859.0 225.0 L857.6 223.0 L856.2 221.0 L854.8 219.0 L853.5 217.3 L851.8 215.0 L850.5 213.2 L848.8 211.0 L847.5 209.3 L845.7 207.0 L844.1 205.0 L842.5 203.1 L840.8 201.0 L839.5 199.4 L837.5 197.0 L835.8 195.0 L834.0 193.0 L832.5 191.2 L830.6 189.0 L828.8 187.0 L827.0 185.0 L825.5 183.3 L823.5 181.1 L821.6 179.0 L819.7 177.0 L817.8 175.0 L816.0 173.0 L814.5 171.5 L813.1 170.0 L811.5 168.4 L809.5 166.3 L807.5 164.3 L805.5 162.2 L803.5 160.2 L801.5 158.3 L799.5 156.3 L797.5 154.3 L795.5 152.4 L793.5 150.4 L792.0 149.0 L790.5 147.6 L788.8 146.0 L786.7 144.0 L784.6 142.0 L782.5 140.0 L780.5 138.2 L778.5 136.3 L776.5 134.5 L774.9 133.0 L772.7 131.0 L770.5 129.0 L768.5 127.2 L766.5 125.3 L764.5 123.5 L762.9 122.0 L760.7 120.0 L758.6 118.0 L756.5 116.0 L754.5 114.1 L752.5 112.2 L750.5 110.2 L748.5 108.2 L746.5 106.1 L744.5 104.0 L742.7 102.0 L741.0 100.0 L739.5 98.3 L737.7 96.0 L736.1 94.0 L734.7 92.0 L733.5 90.2 L732.1 88.0 L730.9 86.0 L729.8 84.0 L728.9 82.0 L728.1 80.0 L727.8 78.0 L728.3 76.0 L728.3 74.0 L728.3 72.0 L728.8 70.0 L728.8 68.0 L729.3 66.0 L729.3 64.0 L729.3 62.0 L729.8 60.0 L729.8 58.0 L730.3 56.0 L730.3 54.0 L730.8 52.0 L730.8 50.0"/>
<path d="M599.5 577.7 L601.5 577.7 L603.5 577.2 L605.5 576.7 L607.5 576.7 L609.5 576.2 L611.5 576.2 L613.5 575.7 L615.5 575.7 L617.5 575.2 L619.5 574.7 L621.5 574.7 L623.5 574.2 L625.5 574.2 L627.5 573.9 L628.0 576.0 L628.6 578.0 L629.4 580.0 L630.2 582.0 L630.8 584.0 L631.5 586.0 L632.2 588.0 L632.9 590.0 L633.5 592.0 L634.1 594.0 L634.7 596.0 L635.3 598.0 L635.8 600.0 L636.3 602.0 L636.7 604.0 L637.2 606.0 L637.6 608.0 L638.0 610.0 L638.3 612.0 L638.7 614.0 L639.1 616.0 L639.5 618.0 L639.8 620.0 L640.2 622.0 L640.6 624.0 L641.0 626.0 L641.3 628.0 L641.7 630.0 L642.1 632.0 L642.5 634.0 L642.8 636.0 L643.2 638.0 L643.6 640.0 L644.0 642.0 L644.4 644.0 L644.8 646.0 L645.2 648.0 L645.6 650.0 L646.0 652.0 L646.5 654.0 L647.0 656.0 L647.5 658.0 L648.1 660.0 L648.7 662.0 L649.4 664.0 L650.0 666.0 L650.7 668.0 L651.3 670.0 L651.8 672.0 L652.3 674.0 L652.7 676.0 L652.9 678.0 L653.0 680.0 L653.0 682.0 L652.9 684.0 L652.6 686.0 L652.3 688.0 L651.8 690.0 L651.2 692.0 L650.5 694.0 L649.7 696.0 L648.8 698.0 L647.7 700.0 L646.2 702.0 L644.6 704.0 L642.6 706.0 L640.5 707.4 L638.5 706.4 L636.5 705.4 L634.5 704.4 L632.5 703.2 L630.5 702.2 L628.5 701.2 L626.5 700.2 L624.6 699.0 L622.6 698.0 L620.6 697.0 L618.6 696.0 L616.6 695.0 L614.6 694.0 L612.6 693.0 L610.6 692.0 L608.6 691.0 L606.6 690.0 L604.6 689.0 L602.6 688.0 L600.6 687.0 L599.5 686.8"/>
<path d="M944.5 773.3 L942.5 772.3 L940.5 772.3 L938.5 771.3 L936.5 770.3 L934.5 770.3 L932.5 769.3 L930.5 769.3 L928.5 768.3 L926.5 767.3 L924.5 767.2 L922.5 766.2 L920.5 766.2 L918.5 765.2 L916.5 764.2 L914.5 764.2 L912.5 763.2 L910.5 763.2 L908.5 762.2 L906.5 761.2 L904.5 761.1 L902.5 760.1 L900.5 760.1 L898.5 759.1 L896.5 758.1 L894.5 758.1 L892.5 757.0 L890.5 757.0 L888.6 756.0 L886.6 754.0 L884.6 752.0 L882.6 750.0 L880.5 748.4 L879.1 747.0 L877.5 745.4 L876.1 744.0 L874.5 742.4 L872.6 741.0 L870.6 739.0 L868.6 737.0 L866.6 735.0 L864.6 733.0 L862.6 731.0 L860.6 729.0 L858.6 727.0 L856.6 725.0 L854.5 723.4 L853.1 722.0 L851.5 720.4 L850.1 719.0 L848.5 717.4 L846.6 716.0 L844.6 714.0 L842.6 712.0 L840.6 710.0 L838.6 708.0 L836.6 706.0 L834.6 704.0 L832.6 702.0 L830.6 700.0 L828.5 698.4 L827.1 697.0 L825.5 695.4 L824.1 694.0 L822.5 692.4 L820.6 691.0 L818.6 689.0 L816.6 687.0 L814.6 685.0 L812.6 683.0 L810.6 681.0 L808.6 679.0 L806.6 677.0 L804.6 675.0 L802.5 673.4 L801.1 672.0 L799.5 670.4 L798.1 669.0 L796.5 667.4 L794.6 666.0 L794.8 664.0 L795.9 662.0 L797.0 660.0 L798.1 658.0 L799.3 656.0 L800.5 654.0 L801.5 652.3 L802.9 650.0 L804.0 648.0 L805.3 646.0 L806.5 644.1 L807.9 642.0 L809.3 640.0 L810.5 638.3 L812.2 636.0 L813.5 634.2 L815.1 632.0 L816.5 630.1 L818.1 628.0 L819.5 626.1 L821.1 624.0 L822.5 622.1 L824.1 620.0 L825.5 618.2 L827.2 616.0 L828.5 614.3 L830.3 612.0 L831.9 610.0 L833.4 608.0 L835.0 606.0 L836.5 604.1 L838.2 602.0 L839.5 600.3 L841.3 598.0 L842.5 596.4 L844.3 594.0 L845.8 592.0 L847.3 590.0 L848.8 588.0 L850.3 586.0 L851.5 584.3 L853.1 582.0 L854.5 580.1 L855.9 578.0 L857.3 576.0 L858.5 574.2 L860.0 572.0 L861.2 570.0 L862.5 568.0 L863.8 566.0 L865.0 564.0 L866.2 562.0 L867.4 560.0 L868.5 558.2 L869.8 556.0 L870.9 554.0 L872.1 552.0 L873.2 550.0 L874.3 548.0 L875.4 546.0 L876.5 544.1 L877.5 542.3 L878.5 540.4 L879.5 538.5 L880.5 536.7 L881.5 534.8 L882.4 533.0 L883.5 531.0 L884.5 529.0 L885.5 527.1 L886.5 525.1 L887.5 523.1 L888.5 521.1 L889.5 519.0 L890.5 517.0 L891.5 515.0 L892.4 513.0 L893.4 511.0 L894.3 509.0 L895.3 507.0 L896.2 505.0 L897.2 503.0 L898.1 501.0 L899.0 499.0 L899.9 497.0 L900.8 495.0 L901.7 493.0 L902.6 491.0 L903.5 489.1 L904.4 487.0 L905.3 485.0 L906.2 483.0 L907.1 481.0 L907.9 479.0 L908.8 477.0 L909.6 475.0 L910.4 473.0 L911.1 471.0 L911.9 469.0 L912.5 467.0 L913.1 465.0 L913.6 463.0 L914.0 461.0 L914.3 459.0 L914.6 457.0 L914.9 455.0 L915.1 453.0 L915.3 451.0 L915.5 449.0 L915.7 447.0 L915.8 445.0 L915.9 443.0 L916.1 441.0 L916.2 439.0 L916.3 437.0 L916.4 435.0 L916.5 433.0 L916.6 431.0 L916.7 429.0 L916.8 427.0 L916.9 425.0 L916.9 423.0 L917.0 421.0 L917.1 419.0 L917.1 417.0 L917.2 415.0 L917.2 413.0 L917.3 411.0 L917.3 409.0 L917.4 407.0 L917.4 405.0 L917.4 403.0 L917.4 401.0 L917.3 399.0 L917.3 397.0 L917.2 395.0 L917.1 393.0 L917.0 391.0 L916.9 389.0 L916.7 387.0 L916.6 385.0 L916.5 383.0 L916.3 381.0 L916.2 379.0 L916.0 377.0 L915.9 375.0 L915.7 373.0 L915.5 371.0 L915.4 369.0 L915.2 367.0 L915.0 365.0 L914.8 363.0 L914.6 361.0 L914.4 359.0 L914.2 357.0 L913.9 355.0 L913.7 353.0 L913.4 351.0 L913.1 349.0 L912.8 347.0 L912.5 345.0 L912.2 343.0 L911.8 341.0 L911.4 339.0 L910.9 337.0 L910.4 335.0 L909.9 333.0 L909.4 331.0 L908.8 329.0 L908.3 327.0 L907.7 325.0 L907.1 323.0 L906.5 321.0 L905.9 319.0 L905.3 317.0 L904.7 315.0 L904.0 313.0 L903.4 311.0 L902.7 309.0 L902.1 307.0 L901.4 305.0 L900.7 303.0 L900.0 301.0 L899.3 299.0 L898.6 297.0 L897.8 295.0 L897.1 293.0 L896.3 291.0 L895.6 289.0 L894.8 287.0 L894.0 285.0 L893.2 283.0 L892.4 281.0 L891.6 279.0 L890.8 277.0 L889.9 275.0 L889.1 273.0 L888.2 271.0 L887.3 269.0 L886.5 267.2 L885.5 265.0 L884.6 263.0 L883.6 261.0 L882.7 259.0 L881.7 257.0 L880.7 255.0 L879.7 253.0 L878.7 251.0 L877.7 249.0 L876.6 247.0 L875.5 245.0 L874.5 243.1 L873.5 241.3 L872.5 239.6 L871.5 237.8 L870.4 236.0 L869.2 234.0 L868.0 232.0 L866.8 230.0 L865.5 228.0 L864.2 226.0 L862.9 224.0 L861.6 222.0 L860.2 220.0 L858.8 218.0 L857.5 216.1 L856.0 214.0 L854.5 212.0 L853.0 210.0 L851.5 208.0 L850.0 206.0 L848.5 204.0 L847.0 202.0 L845.5 200.1 L843.8 198.0 L842.5 196.4 L840.6 194.0 L838.9 192.0 L837.5 190.2 L835.6 188.0 L834.0 186.0 L832.5 184.2 L830.6 182.0 L828.9 180.0 L827.5 178.4 L825.5 176.0 L823.7 174.0 L822.0 172.0 L820.5 170.3 L818.5 168.1 L816.7 166.0 L814.9 164.0 L813.5 162.5 L811.5 160.2 L809.5 158.0 L807.7 156.0 L805.9 154.0 L804.5 152.5 L803.1 151.0 L801.5 149.2 L799.5 147.0 L797.6 145.0 L795.8 143.0 L794.0 141.0 L792.5 139.4 L790.5 137.2 L788.5 135.0 L786.7 133.0 L784.9 131.0 L783.5 129.5 L781.5 127.2 L779.5 125.0 L777.8 123.0 L776.0 121.0 L774.5 119.3 L772.6 117.0 L770.9 115.0 L769.5 113.3 L767.6 111.0 L766.0 109.0 L764.5 107.1 L762.9 105.0 L761.5 103.2 L759.9 101.0 L758.5 99.0 L757.1 97.0 L755.8 95.0 L754.5 93.0 L753.3 91.0 L752.1 89.0 L751.0 87.0 L749.9 85.0 L748.9 83.0 L747.9 81.0 L747.9 79.0 L748.4 77.0 L748.4 75.0 L748.4 73.0 L748.9 71.0 L748.9 69.0 L749.4 67.0 L749.4 65.0 L749.4 63.0 L749.9 61.0 L749.9 59.0 L750.4 57.0 L750.4 55.0 L750.9 53.0 L750.9 51.0 L750.9 50.0"/>
<path d="M944.5 773.1 L942.5 772.1 L940.5 772.0 L938.5 771.0 L936.5 770.0 L934.5 770.0 L932.5 768.2 L930.5 766.5 L929.0 765.0 L927.5 763.5 L926.0 762.0 L924.5 760.5 L923.0 759.0 L921.5 757.5 L919.8 756.0 L917.8 754.0 L915.8 752.0 L913.8 750.0 L911.5 748.2 L909.5 746.2 L907.5 744.2 L905.5 742.2 L903.5 740.5 L902.0 739.0 L900.5 737.5 L899.0 736.0 L897.5 734.5 L896.0 733.0 L893.8 731.0 L891.8 729.0 L889.8 727.0 L887.8 725.0 L885.5 723.2 L883.5 721.2 L881.5 719.2 L879.5 717.2 L877.5 715.5 L876.0 714.0 L874.5 712.5 L873.0 711.0 L871.5 709.5 L870.0 708.0 L867.8 706.0 L865.8 704.0 L863.8 702.0 L861.8 700.0 L859.5 698.2 L857.5 696.2 L855.5 694.2 L853.5 692.2 L851.5 690.5 L850.0 689.0 L848.5 687.5 L847.0 686.0 L845.5 684.5 L844.0 683.0 L841.8 681.0 L839.8 679.0 L837.8 677.0 L835.8 675.0 L833.5 673.2 L831.5 671.2 L829.5 669.2 L827.5 667.2 L825.5 665.5 L824.0 664.0 L822.5 662.5 L821.0 661.0 L819.5 659.5 L818.0 658.0 L815.8 656.0 L813.8 654.0 L811.8 652.0 L809.8 650.0 L809.9 648.0 L811.2 646.0 L812.5 644.0 L813.8 642.0 L815.1 640.0 L816.4 638.0 L817.8 636.0 L819.2 634.0 L820.5 632.1 L822.0 630.0 L823.4 628.0 L824.8 626.0 L826.2 624.0 L827.5 622.1 L829.0 620.0 L830.4 618.0 L831.9 616.0 L833.4 614.0 L834.9 612.0 L836.4 610.0 L837.9 608.0 L839.4 606.0 L841.0 604.0 L842.5 602.0 L844.0 600.0 L845.5 598.0 L847.0 596.0 L848.4 594.0 L849.9 592.0 L851.3 590.0 L852.5 588.4 L854.2 586.0 L855.5 584.1 L857.0 582.0 L858.3 580.0 L859.5 578.3 L861.0 576.0 L862.3 574.0 L863.5 572.0 L864.8 570.0 L866.0 568.0 L867.2 566.0 L868.4 564.0 L869.5 562.0 L870.7 560.0 L871.8 558.0 L873.0 556.0 L874.1 554.0 L875.2 552.0 L876.3 550.0 L877.4 548.0 L878.5 546.0 L879.5 544.2 L880.5 542.3 L881.5 540.4 L882.5 538.5 L883.5 536.6 L884.5 534.7 L885.5 532.8 L886.4 531.0 L887.5 529.0 L888.5 527.0 L889.5 525.0 L890.5 523.0 L891.5 521.0 L892.5 519.0 L893.5 517.0 L894.5 515.0 L895.5 513.0 L896.4 511.0 L897.4 509.0 L898.4 507.0 L899.4 505.0 L900.3 503.0 L901.3 501.0 L902.3 499.0 L903.2 497.0 L904.2 495.0 L905.1 493.0 L906.1 491.0 L907.0 489.0 L908.0 487.0 L909.0 485.0 L909.9 483.0 L910.9 481.0 L911.8 479.0 L912.7 477.0 L913.7 475.0 L914.5 473.1 L915.4 471.0 L916.2 469.0 L916.9 467.0 L917.4 465.0 L917.9 463.0 L918.2 461.0 L918.4 459.0 L918.6 457.0 L918.7 455.0 L918.9 453.0 L919.0 451.0 L919.1 449.0 L919.2 447.0 L919.3 445.0 L919.3 443.0 L919.4 441.0 L919.5 439.0 L919.5 437.0 L919.6 435.0 L919.7 433.0 L919.7 431.0 L919.8 429.0 L919.8 427.0 L919.9 425.0 L919.9 423.0 L920.0 421.0 L920.0 419.0 L920.0 417.0 L920.1 415.0 L920.1 413.0 L920.1 411.0 L920.2 409.0 L920.2 407.0 L920.2 405.0 L920.2 403.0 L920.2 401.0 L920.1 399.0 L920.0 397.0 L919.9 395.0 L919.8 393.0 L919.7 391.0 L919.6 389.0 L919.4 387.0 L919.3 385.0 L919.1 383.0 L919.0 381.0 L918.8 379.0 L918.7 377.0 L918.5 375.0 L918.4 373.0 L918.2 371.0 L918.1 369.0 L917.9 367.0 L917.7 365.0 L917.5 363.0 L917.4 361.0 L917.2 359.0 L917.0 357.0 L916.8 355.0 L916.5 353.0 L916.3 351.0 L916.1 349.0 L915.8 347.0 L915.5 345.0 L915.2 343.0 L914.8 341.0 L914.4 339.0 L913.9 337.0 L913.5 335.0 L912.9 333.0 L912.4 331.0 L911.8 329.0 L911.2 327.0 L910.6 325.0 L910.0 323.0 L909.4 321.0 L908.8 319.0 L908.2 317.0 L907.6 315.0 L906.9 313.0 L906.3 311.0 L905.6 309.0 L905.0 307.0 L904.3 305.0 L903.6 303.0 L902.9 301.0 L902.2 299.0 L901.5 297.0 L900.8 295.0 L900.1 293.0 L899.4 291.0 L898.6 289.0 L897.9 287.0 L897.1 285.0 L896.3 283.0 L895.6 281.0 L894.8 279.0 L894.0 277.0 L893.2 275.0 L892.3 273.0 L891.5 271.0 L890.7 269.0 L889.8 267.0 L888.9 265.0 L888.1 263.0 L887.2 261.0 L886.2 259.0 L885.3 257.0 L884.4 255.0 L883.5 253.2 L882.5 251.1 L881.5 249.1 L880.5 247.1 L879.5 245.1 L878.5 243.2 L877.5 241.3 L876.5 239.5 L875.5 237.6 L874.5 235.8 L873.5 234.1 L872.3 232.0 L871.1 230.0 L869.9 228.0 L868.7 226.0 L867.5 224.1 L866.1 222.0 L864.8 220.0 L863.5 218.0 L862.2 216.0 L860.8 214.0 L859.5 212.1 L858.0 210.0 L856.6 208.0 L855.1 206.0 L853.7 204.0 L852.2 202.0 L850.7 200.0 L849.2 198.0 L847.6 196.0 L846.1 194.0 L844.5 192.0 L843.0 190.0 L841.5 188.1 L839.8 186.0 L838.5 184.3 L836.6 182.0 L835.0 180.0 L833.5 178.1 L831.8 176.0 L830.5 174.4 L828.5 172.0 L826.9 170.0 L825.5 168.3 L823.6 166.0 L822.0 164.0 L820.5 162.2 L818.7 160.0 L817.0 158.0 L815.5 156.1 L813.8 154.0 L812.1 152.0 L810.5 150.0 L808.8 148.0 L807.5 146.4 L805.6 144.0 L804.0 142.0 L802.5 140.2 L800.8 138.0 L799.5 136.4 L797.6 134.0 L796.0 132.0 L794.5 130.1 L792.9 128.0 L791.5 126.1 L789.9 124.0 L788.5 122.1 L786.9 120.0 L785.5 118.0 L784.1 116.0 L782.7 114.0 L781.5 112.3 L779.9 110.0 L778.6 108.0 L777.3 106.0 L776.0 104.0 L774.7 102.0 L773.5 100.0 L772.3 98.0 L771.1 96.0 L770.0 94.0 L768.9 92.0 L767.8 90.0 L766.8 88.0 L766.0 86.0 L765.2 84.0 L764.8 82.0 L764.8 80.0 L765.4 78.0 L765.4 76.0 L765.4 74.0 L765.8 72.0 L765.8 70.0 L766.4 68.0 L766.4 66.0 L766.4 64.0 L766.8 62.0 L766.8 60.0 L767.4 58.0 L767.4 56.0 L767.8 54.0 L767.8 52.0 L767.8 50.0"/>
<path d="M944.5 392.4 L942.5 392.4 L940.5 392.4 L938.5 392.4 L936.5 392.4 L934.5 392.4 L932.5 392.4 L930.5 392.4 L928.5 392.4 L926.5 392.4 L924.5 392.4 L922.5 392.4 L922.3 390.0 L922.2 388.0 L922.0 386.0 L921.9 384.0 L921.7 382.0 L921.6 380.0 L921.4 378.0 L921.3 376.0 L921.1 374.0 L921.0 372.0 L920.8 370.0 L920.7 368.0 L920.5 366.0 L920.4 364.0 L920.2 362.0 L920.0 360.0 L919.9 358.0 L919.7 356.0 L919.5 354.0 L919.3 352.0 L919.1 350.0 L918.9 348.0 L918.6 346.0 L918.4 344.0 L918.1 342.0 L917.7 340.0 L917.3 338.0 L916.8 336.0 L916.3 334.0 L915.7 332.0 L915.1 330.0 L914.5 328.0 L913.9 326.0 L913.3 324.0 L912.7 322.0 L912.1 320.0 L911.5 318.0 L910.8 316.0 L910.2 314.0 L909.5 312.0 L908.9 310.0 L908.2 308.0 L907.6 306.0 L906.9 304.0 L906.2 302.0 L905.6 300.0 L904.9 298.0 L904.2 296.0 L903.5 294.1 L902.8 292.0 L902.0 290.0 L901.3 288.0 L900.6 286.0 L899.8 284.0 L899.1 282.0 L898.3 280.0 L897.6 278.0 L896.8 276.0 L896.0 274.0 L895.2 272.0 L894.4 270.0 L893.6 268.0 L892.8 266.0 L891.9 264.0 L891.1 262.0 L890.2 260.0 L889.3 258.0 L888.5 256.1 L887.5 254.0 L886.6 252.0 L885.7 250.0 L884.7 248.0 L883.8 246.0 L882.8 244.0 L881.8 242.0 L880.8 240.0 L879.8 238.0 L878.7 236.0 L877.6 234.0 L876.5 232.0 L875.5 230.1 L874.5 228.4 L873.1 226.0 L871.9 224.0 L870.7 222.0 L869.5 220.1 L868.2 218.0 L866.9 216.0 L865.6 214.0 L864.2 212.0 L862.9 210.0 L861.5 208.0 L860.1 206.0 L858.7 204.0 L857.5 202.3 L855.9 200.0 L854.5 198.1 L852.9 196.0 L851.5 194.0 L850.0 192.0 L848.5 190.0 L847.0 188.0 L845.5 186.0 L844.0 184.0 L842.5 182.1 L840.9 180.0 L839.5 178.1 L837.9 176.0 L836.5 174.2 L834.8 172.0 L833.5 170.3 L831.7 168.0 L830.5 166.4 L828.7 164.0 L827.1 162.0 L825.6 160.0 L824.1 158.0 L822.6 156.0 L821.1 154.0 L819.6 152.0 L818.1 150.0 L816.6 148.0 L815.1 146.0 L813.6 144.0 L812.2 142.0 L810.7 140.0 L809.5 138.3 L807.9 136.0 L806.5 134.1 L805.1 132.0 L803.7 130.0 L802.5 128.3 L801.0 126.0 L799.7 124.0 L798.5 122.2 L797.1 120.0 L795.8 118.0 L794.6 116.0 L793.5 114.1 L792.2 112.0 L791.1 110.0 L790.0 108.0 L788.9 106.0 L787.8 104.0 L786.8 102.0 L785.8 100.0 L784.8 98.0 L783.9 96.0 L782.9 94.0 L782.0 92.0 L781.1 90.0 L780.1 88.0 L778.9 86.0 L777.5 84.6 L777.1 82.0 L777.1 80.0 L777.5 78.0 L777.5 76.0 L777.5 74.0 L778.1 72.0 L778.1 70.0 L778.5 68.0 L778.5 66.0 L779.1 64.0 L779.1 62.0 L779.1 60.0 L779.5 58.0 L779.5 56.0 L780.1 54.0 L780.1 52.0 L780.1 50.0"/>
<path d="M944.5 749.5 L942.5 748.0 L940.5 746.0 L938.5 744.0 L936.5 742.0 L934.5 740.1 L932.5 738.1 L930.5 736.1 L928.5 734.1 L926.5 732.1 L924.5 730.5 L923.0 729.0 L921.5 727.5 L920.0 726.0 L918.5 724.5 L916.5 723.0 L914.5 721.0 L912.5 719.0 L910.5 717.0 L908.5 715.1 L906.5 713.1 L904.5 711.1 L902.5 709.1 L900.5 707.1 L898.5 705.5 L897.0 704.0 L895.5 702.5 L894.0 701.0 L892.5 699.5 L890.5 698.0 L888.5 696.0 L886.5 694.0 L884.5 692.0 L882.5 690.1 L880.5 688.1 L878.5 686.1 L876.5 684.1 L874.5 682.1 L872.5 680.5 L871.0 679.0 L869.5 677.5 L868.0 676.0 L866.5 674.5 L864.5 673.0 L862.5 671.0 L860.5 669.0 L858.5 667.0 L856.5 665.1 L854.5 663.1 L852.5 661.1 L850.5 659.1 L848.5 657.1 L846.5 655.5 L845.0 654.0 L843.5 652.5 L842.0 651.0 L840.5 649.5 L838.5 648.0 L836.5 646.0 L834.5 644.0 L832.5 642.0 L830.5 640.1 L828.5 638.1 L826.5 636.1 L824.5 634.1 L825.8 632.0 L827.1 630.0 L828.5 628.0 L829.8 626.0 L831.0 624.0 L832.2 622.0 L833.5 620.1 L835.0 618.0 L836.4 616.0 L837.9 614.0 L839.3 612.0 L840.8 610.0 L842.3 608.0 L843.8 606.0 L845.3 604.0 L846.5 602.3 L848.2 600.0 L849.5 598.2 L851.1 596.0 L852.5 594.0 L853.9 592.0 L855.3 590.0 L856.5 588.3 L858.1 586.0 L859.5 584.0 L860.8 582.0 L862.1 580.0 L863.4 578.0 L864.5 576.2 L865.9 574.0 L867.1 572.0 L868.2 570.0 L869.4 568.0 L870.5 566.1 L871.5 564.3 L872.5 562.6 L873.5 560.8 L874.5 559.0 L875.5 557.2 L876.5 555.4 L877.5 553.6 L878.5 551.7 L879.5 549.9 L880.5 548.0 L881.5 546.1 L882.5 544.2 L883.5 542.3 L884.5 540.4 L885.5 538.5 L886.5 536.6 L887.5 534.7 L888.5 532.8 L889.5 530.8 L890.4 529.0 L891.5 527.0 L892.5 525.0 L893.5 523.0 L894.5 521.0 L895.5 519.0 L896.5 517.0 L897.5 515.0 L898.5 513.0 L899.5 511.1 L900.5 509.1 L901.5 507.1 L902.5 505.1 L903.5 503.2 L904.5 501.2 L905.5 499.2 L906.5 497.2 L907.5 495.2 L908.5 493.2 L909.5 491.1 L910.5 489.3 L911.5 487.4 L912.5 485.5 L913.5 483.4 L914.5 481.5 L915.5 479.7 L916.5 477.9 L917.5 476.1 L918.5 474.0 L919.5 472.2 L920.5 470.5 L921.5 468.0 L923.5 468.2 L925.5 469.1 L927.3 470.0 L929.3 471.0 L931.3 472.0 L933.5 472.2 L935.5 473.2 L937.5 474.2 L939.5 475.2 L941.5 476.2 L943.3 477.0 L944.5 477.2"/>
<path d="M944.5 355.9 L942.5 355.9 L940.5 355.9 L938.5 355.9 L936.5 355.9 L934.5 355.9 L932.5 355.9 L930.5 355.9 L928.5 355.9 L926.5 355.9 L924.5 355.9 L922.5 355.9 L922.3 353.0 L922.1 351.0 L921.9 349.0 L921.8 347.0 L921.6 345.0 L921.4 343.0 L921.2 341.0 L920.9 339.0 L920.4 337.0 L919.8 335.0 L919.2 333.0 L918.6 331.0 L917.9 329.0 L917.3 327.0 L916.6 325.0 L916.0 323.0 L915.4 321.0 L914.8 319.0 L914.1 317.0 L913.4 315.0 L912.8 313.0 L912.1 311.0 L911.5 309.0 L910.8 307.0 L910.2 305.0 L909.5 303.0 L908.9 301.0 L908.2 299.0 L907.5 297.0 L906.8 295.0 L906.1 293.0 L905.4 291.0 L904.7 289.0 L904.0 287.0 L903.3 285.0 L902.6 283.0 L901.8 281.0 L901.1 279.0 L900.4 277.0 L899.6 275.0 L898.8 273.0 L898.1 271.0 L897.3 269.0 L896.5 267.0 L895.7 265.0 L894.9 263.0 L894.1 261.0 L893.3 259.0 L892.4 257.0 L891.6 255.0 L890.7 253.0 L889.8 251.0 L889.0 249.0 L888.1 247.0 L887.1 245.0 L886.2 243.0 L885.3 241.0 L884.3 239.0 L883.3 237.0 L882.3 235.0 L881.3 233.0 L880.2 231.0 L879.2 229.0 L878.1 227.0 L877.0 225.0 L875.8 223.0 L874.6 221.0 L873.5 219.1 L872.2 217.0 L871.0 215.0 L869.7 213.0 L868.5 211.2 L867.1 209.0 L865.7 207.0 L864.5 205.2 L863.0 203.0 L861.6 201.0 L860.5 199.3 L858.9 197.0 L857.5 195.1 L856.0 193.0 L854.6 191.0 L853.1 189.0 L851.7 187.0 L850.5 185.3 L848.8 183.0 L847.5 181.2 L845.9 179.0 L844.5 177.1 L843.0 175.0 L841.5 173.0 L840.1 171.0 L838.6 169.0 L837.2 167.0 L835.7 165.0 L834.5 163.3 L832.9 161.0 L831.5 159.1 L830.0 157.0 L828.6 155.0 L827.2 153.0 L825.8 151.0 L824.5 149.1 L823.1 147.0 L821.7 145.0 L820.5 143.2 L819.0 141.0 L817.7 139.0 L816.5 137.1 L815.1 135.0 L813.9 133.0 L812.7 131.0 L811.5 129.1 L810.2 127.0 L809.0 125.0 L807.8 123.0 L806.7 121.0 L805.6 119.0 L804.5 117.0 L803.5 115.1 L802.5 113.2 L801.5 111.3 L800.5 109.3 L799.5 107.3 L798.7 105.0 L797.9 103.0 L797.9 101.0 L800.4 99.0 L802.4 97.0 L804.4 95.0 L806.5 93.4 L807.9 92.0 L810.4 90.0 L812.4 88.0 L814.4 86.0 L816.5 84.4 L817.9 83.0 L819.5 81.4 L821.4 80.0 L823.4 78.0 L825.4 76.0 L827.5 74.4 L828.9 73.0 L831.4 71.0 L833.4 69.0 L835.4 67.0 L837.5 65.4 L838.9 64.0 L840.5 62.4 L842.4 61.0 L844.4 59.0 L846.4 57.0 L848.5 55.4 L849.9 54.0 L852.4 52.0 L854.4 50.0"/>
<path d="M944.5 719.7 L942.8 718.0 L940.8 716.0 L938.6 714.0 L936.6 712.0 L934.6 710.0 L932.6 708.0 L930.5 706.4 L928.5 704.4 L926.5 702.4 L924.5 700.4 L922.8 699.0 L920.8 697.0 L918.8 695.0 L916.8 693.0 L914.8 691.0 L912.6 689.0 L910.6 687.0 L908.6 685.0 L906.6 683.0 L904.5 681.4 L902.5 679.4 L900.5 677.4 L898.5 675.4 L896.8 674.0 L894.8 672.0 L892.8 670.0 L890.8 668.0 L888.8 666.0 L886.6 664.0 L884.6 662.0 L882.6 660.0 L880.6 658.0 L878.5 656.4 L876.5 654.4 L874.5 652.4 L872.5 650.4 L870.8 649.0 L868.8 647.0 L866.8 645.0 L864.8 643.0 L862.8 641.0 L860.6 639.0 L858.6 637.0 L856.6 635.0 L854.6 633.0 L852.5 631.4 L850.5 629.4 L848.5 627.4 L846.5 625.4 L844.8 624.0 L842.8 622.0 L840.8 620.0 L839.4 618.0 L840.8 616.0 L842.2 614.0 L843.5 612.3 L845.2 610.0 L846.5 608.2 L848.1 606.0 L849.5 604.0 L851.0 602.0 L852.4 600.0 L853.8 598.0 L855.1 596.0 L856.4 594.0 L857.8 592.0 L859.2 590.0 L860.5 588.2 L862.0 586.0 L863.3 584.0 L864.5 582.2 L865.9 580.0 L867.1 578.0 L868.3 576.0 L869.4 574.0 L870.5 572.1 L871.5 570.3 L872.5 568.5 L873.5 566.7 L874.5 564.9 L875.5 563.1 L876.5 561.2 L877.5 559.4 L878.5 557.5 L879.5 555.6 L880.5 553.8 L881.5 552.0 L882.5 550.1 L883.5 548.1 L884.5 546.2 L885.5 544.3 L886.5 542.3 L887.5 540.3 L888.5 538.5 L889.5 536.7 L890.5 534.7 L891.5 532.6 L892.5 530.8 L893.5 529.0 L894.5 527.1 L895.4 525.0 L896.4 523.0 L897.5 521.1 L898.5 519.2 L899.5 517.0 L900.5 515.1 L901.5 513.3 L902.5 511.5 L903.4 509.0 L905.5 508.2 L907.5 508.7 L909.5 509.7 L911.5 510.7 L913.5 511.7 L915.5 512.4 L917.5 513.2 L919.5 514.2 L921.5 515.2 L923.5 516.2 L925.5 516.7 L927.5 517.7 L929.5 518.7 L931.5 519.7 L933.5 520.2 L935.5 521.2 L937.5 522.2 L939.5 523.2 L941.5 523.7 L943.5 524.7 L944.5 525.2"/>
<path d="M944.5 319.1 L942.5 319.6 L940.5 320.1 L938.5 320.6 L936.5 321.1 L934.5 321.6 L932.5 321.6 L930.5 322.1 L928.5 322.6 L926.5 323.1 L924.5 323.6 L922.5 324.1 L920.5 324.6 L919.0 322.0 L918.0 320.0 L917.6 318.0 L916.6 316.0 L916.1 314.0 L915.3 312.0 L914.8 310.0 L914.1 308.0 L913.4 306.0 L912.8 304.0 L912.2 302.0 L911.5 300.0 L910.8 298.0 L910.2 296.0 L909.5 294.0 L908.8 292.0 L908.1 290.0 L907.4 288.0 L906.7 286.0 L906.0 284.0 L905.3 282.0 L904.6 280.0 L903.9 278.0 L903.2 276.0 L902.4 274.0 L901.7 272.0 L901.0 270.0 L900.2 268.0 L899.5 266.1 L898.7 264.0 L897.9 262.0 L897.1 260.0 L896.4 258.0 L895.6 256.0 L894.7 254.0 L893.9 252.0 L893.1 250.0 L892.2 248.0 L891.4 246.0 L890.5 244.0 L889.6 242.0 L888.7 240.0 L887.8 238.0 L886.9 236.0 L885.9 234.0 L884.9 232.0 L884.0 230.0 L882.9 228.0 L881.9 226.0 L880.8 224.0 L879.7 222.0 L878.6 220.0 L877.5 218.1 L876.3 216.0 L875.1 214.0 L873.8 212.0 L872.6 210.0 L871.3 208.0 L870.0 206.0 L868.7 204.0 L867.5 202.2 L866.0 200.0 L864.6 198.0 L863.5 196.3 L861.9 194.0 L860.5 192.0 L859.1 190.0 L857.7 188.0 L856.5 186.2 L855.0 184.0 L853.6 182.0 L852.2 180.0 L850.8 178.0 L849.5 176.2 L848.0 174.0 L846.6 172.0 L845.2 170.0 L843.8 168.0 L842.5 166.0 L841.1 164.0 L839.7 162.0 L838.5 160.2 L837.0 158.0 L835.7 156.0 L834.5 154.2 L833.1 152.0 L831.8 150.0 L830.5 148.0 L829.2 146.0 L827.9 144.0 L826.7 142.0 L825.5 140.0 L824.3 138.0 L823.2 136.0 L822.0 134.0 L820.8 132.0 L819.6 130.0 L818.5 128.0 L817.7 126.0 L816.7 124.0 L815.5 122.0 L817.5 120.5 L819.5 119.0 L821.5 117.0 L823.5 115.0 L825.5 113.0 L827.5 111.5 L829.0 110.0 L831.5 108.0 L833.5 106.0 L835.5 104.0 L837.5 102.5 L839.0 101.0 L841.5 99.0 L843.5 97.0 L845.5 95.0 L847.5 93.5 L849.0 92.0 L850.5 90.5 L852.5 89.0 L854.5 87.0 L856.5 85.0 L858.5 83.5 L860.0 82.0 L862.5 80.0 L864.5 78.0 L866.5 76.0 L868.5 74.0 L870.5 72.5 L872.5 71.0 L874.5 69.0 L876.5 67.0 L878.5 65.0 L880.5 63.5 L882.0 62.0 L884.5 60.0 L886.5 58.0 L888.5 56.0 L890.5 54.5 L892.0 53.0 L894.5 51.0 L895.5 50.0"/>
<path d="M944.5 689.7 L942.8 688.0 L940.8 686.0 L938.8 684.0 L936.5 682.2 L934.5 680.2 L932.5 678.2 L930.5 676.2 L928.5 674.3 L926.5 672.3 L924.5 670.3 L922.5 668.3 L920.5 666.3 L918.5 664.7 L916.8 663.0 L914.8 661.0 L912.8 659.0 L910.5 657.2 L908.5 655.2 L906.5 653.2 L904.5 651.2 L902.5 649.3 L900.5 647.3 L898.5 645.3 L896.5 643.3 L894.5 641.3 L892.5 639.7 L890.8 638.0 L888.8 636.0 L886.8 634.0 L884.5 632.2 L882.5 630.2 L880.5 628.2 L878.5 626.2 L876.5 624.3 L874.5 622.3 L872.5 620.3 L870.5 618.3 L868.5 616.3 L866.5 614.7 L864.8 613.0 L862.8 611.0 L860.8 609.0 L858.5 607.2 L856.5 605.2 L854.5 603.2 L855.9 601.0 L857.2 599.0 L858.2 597.0 L859.5 595.1 L861.0 593.0 L862.5 591.0 L863.9 589.0 L865.3 587.0 L866.5 585.2 L867.8 583.0 L869.0 581.0 L870.2 579.0 L871.3 577.0 L872.4 575.0 L873.4 573.0 L874.5 571.1 L875.5 569.2 L876.5 567.1 L877.5 565.3 L878.5 563.5 L879.5 561.8 L880.5 559.8 L881.5 557.7 L882.5 556.0 L883.5 554.2 L884.5 552.4 L885.3 550.0 L886.4 548.0 L888.5 548.1 L890.5 548.6 L892.5 549.6 L894.5 550.6 L896.5 551.6 L898.5 552.2 L900.3 553.0 L902.3 554.0 L904.3 555.0 L906.3 556.0 L908.5 556.6 L910.5 557.6 L912.5 558.6 L914.5 559.6 L916.5 560.1 L918.3 561.0 L920.3 562.0 L922.3 563.0 L924.5 563.6 L926.5 564.6 L928.5 565.6 L930.5 566.6 L932.5 567.2 L934.3 568.0 L936.3 569.0 L938.3 570.0 L940.5 570.6 L942.5 571.6 L944.5 572.6"/>
<path d="M944.5 292.5 L942.5 293.0 L940.5 293.5 L938.5 294.0 L936.5 294.5 L934.5 295.0 L932.5 295.5 L930.5 295.5 L928.5 296.0 L926.5 296.5 L924.5 297.0 L922.5 297.5 L920.5 298.0 L918.5 298.0 L916.5 298.5 L914.5 299.0 L913.3 297.0 L913.0 295.0 L911.9 293.0 L911.5 291.0 L910.8 289.0 L910.1 287.0 L909.5 285.0 L908.8 283.0 L908.1 281.0 L907.3 279.0 L906.7 277.0 L906.0 275.0 L905.3 273.0 L904.6 271.0 L903.9 269.0 L903.1 267.0 L902.4 265.0 L901.7 263.0 L900.9 261.0 L900.2 259.0 L899.5 257.1 L898.7 255.0 L897.9 253.0 L897.1 251.0 L896.3 249.0 L895.5 247.0 L894.7 245.0 L893.9 243.0 L893.1 241.0 L892.2 239.0 L891.3 237.0 L890.5 235.1 L889.6 233.0 L888.6 231.0 L887.7 229.0 L886.7 227.0 L885.8 225.0 L884.8 223.0 L883.7 221.0 L882.6 219.0 L881.5 217.0 L880.5 215.2 L879.2 213.0 L878.0 211.0 L876.8 209.0 L875.5 207.0 L874.2 205.0 L873.0 203.0 L871.6 201.0 L870.5 199.3 L869.0 197.0 L867.7 195.0 L866.5 193.2 L865.0 191.0 L863.6 189.0 L862.5 187.3 L860.9 185.0 L859.6 183.0 L858.2 181.0 L856.9 179.0 L855.5 177.0 L854.2 175.0 L852.9 173.0 L851.5 171.0 L850.2 169.0 L848.9 167.0 L847.6 165.0 L846.3 163.0 L845.0 161.0 L843.8 159.0 L842.5 157.0 L841.2 155.0 L839.9 153.0 L838.6 151.0 L837.5 149.2 L836.5 147.2 L835.5 145.4 L834.0 143.0 L834.0 141.0 L835.5 139.5 L837.0 138.0 L839.2 136.0 L841.5 134.2 L843.5 132.2 L845.5 130.5 L847.0 129.0 L849.2 127.0 L851.5 125.2 L853.5 123.2 L855.5 121.5 L857.0 120.0 L859.2 118.0 L861.5 116.2 L863.5 114.2 L865.5 112.5 L867.0 111.0 L869.2 109.0 L871.2 107.0 L873.5 105.2 L875.5 103.5 L877.0 102.0 L878.5 100.5 L880.2 99.0 L882.5 97.2 L884.5 95.2 L886.5 93.5 L888.0 92.0 L890.2 90.0 L892.2 88.0 L894.5 86.2 L896.5 84.5 L898.0 83.0 L899.5 81.5 L901.2 80.0 L903.5 78.2 L905.5 76.2 L907.5 74.5 L909.0 73.0 L911.2 71.0 L913.2 69.0 L915.5 67.2 L917.5 65.5 L919.0 64.0 L920.5 62.5 L922.2 61.0 L924.5 59.2 L926.5 57.2 L928.5 55.5 L930.0 54.0 L931.5 52.5 L933.2 51.0 L934.2 50.0"/>
<path d="M944.5 265.9 L942.5 266.4 L940.5 266.9 L938.5 267.4 L936.5 267.9 L934.5 268.4 L932.5 268.9 L930.5 268.9 L928.5 269.4 L926.5 269.9 L924.5 270.4 L922.5 270.9 L920.5 271.4 L918.5 271.7 L916.5 271.9 L914.5 272.4 L912.5 272.9 L910.5 273.4 L908.5 273.9 L908.1 271.0 L907.0 269.0 L906.5 267.0 L905.6 265.0 L905.1 263.0 L904.3 261.0 L903.6 259.0 L903.0 257.0 L902.2 255.0 L901.5 253.0 L900.7 251.0 L900.0 249.0 L899.2 247.0 L898.5 245.1 L897.7 243.0 L896.9 241.0 L896.1 239.0 L895.3 237.0 L894.5 235.1 L893.6 233.0 L892.8 231.0 L891.9 229.0 L891.0 227.0 L890.1 225.0 L889.2 223.0 L888.3 221.0 L887.3 219.0 L886.2 217.0 L885.1 215.0 L884.0 213.0 L882.8 211.0 L881.6 209.0 L880.5 207.1 L879.2 205.0 L877.9 203.0 L876.6 201.0 L875.5 199.3 L874.0 197.0 L872.7 195.0 L871.5 193.2 L870.1 191.0 L868.8 189.0 L867.5 187.1 L866.1 185.0 L864.8 183.0 L863.5 181.0 L862.3 179.0 L860.9 177.0 L859.6 175.0 L858.2 173.0 L856.9 171.0 L855.7 169.0 L854.6 167.0 L853.5 165.3 L852.0 163.0 L851.0 161.0 L852.5 159.5 L854.5 158.0 L856.5 156.0 L858.5 154.0 L860.5 152.0 L862.5 150.5 L864.5 149.0 L866.5 147.0 L868.5 145.0 L870.5 143.0 L872.5 141.5 L874.0 140.0 L876.5 138.0 L878.5 136.0 L880.5 134.0 L882.5 132.5 L884.0 131.0 L886.5 129.0 L888.5 127.0 L890.5 125.0 L892.5 123.0 L894.5 121.5 L896.5 120.0 L898.5 118.0 L900.5 116.0 L902.5 114.0 L904.5 112.5 L906.0 111.0 L908.5 109.0 L910.5 107.0 L912.5 105.0 L914.5 103.5 L916.0 102.0 L918.5 100.0 L920.5 98.0 L922.5 96.0 L924.5 94.5 L926.0 93.0 L927.5 91.5 L929.5 90.0 L931.5 88.0 L933.5 86.0 L935.5 84.5 L937.0 83.0 L939.5 81.0 L941.5 79.0 L943.5 77.0 L944.5 76.0"/>
<path d="M944.5 239.3 L942.5 239.8 L940.5 240.3 L938.5 240.8 L936.5 241.3 L934.5 241.8 L932.5 242.3 L930.5 242.3 L928.5 242.8 L926.5 243.3 L924.5 243.8 L922.5 244.3 L920.5 244.8 L918.5 245.3 L916.5 245.3 L914.5 245.8 L912.5 246.3 L910.5 246.8 L908.5 247.3 L906.5 247.8 L904.5 247.8 L902.5 246.4 L901.9 244.0 L901.2 242.0 L900.3 240.0 L899.7 238.0 L898.8 236.0 L898.1 234.0 L897.2 232.0 L896.5 230.0 L895.7 228.0 L894.9 226.0 L894.1 224.0 L893.2 222.0 L892.3 220.0 L891.4 218.0 L890.5 216.1 L889.5 214.2 L888.5 212.3 L887.5 210.6 L886.0 208.0 L884.7 206.0 L883.5 204.0 L882.3 202.0 L881.0 200.0 L879.7 198.0 L878.5 196.2 L877.0 194.0 L875.7 192.0 L874.5 190.0 L873.3 188.0 L871.9 186.0 L870.6 184.0 L869.2 182.0 L869.0 180.0 L870.5 178.5 L872.2 177.0 L874.2 175.0 L876.5 173.2 L878.5 171.5 L880.0 170.0 L881.5 168.5 L883.2 167.0 L885.5 165.2 L887.5 163.2 L889.5 161.5 L891.0 160.0 L893.2 158.0 L895.2 156.0 L897.5 154.2 L899.5 152.5 L901.0 151.0 L902.5 149.5 L904.2 148.0 L906.5 146.2 L908.5 144.2 L910.5 142.5 L912.0 141.0 L914.2 139.0 L916.2 137.0 L918.5 135.2 L920.5 133.5 L922.0 132.0 L923.5 130.5 L925.2 129.0 L927.5 127.2 L929.5 125.2 L931.5 123.5 L933.0 122.0 L935.2 120.0 L937.2 118.0 L939.5 116.2 L941.5 114.5 L943.0 113.0 L944.5 111.5"/>
<path d="M944.5 213.2 L942.5 213.2 L940.5 213.7 L938.5 214.2 L936.5 214.7 L934.5 215.2 L932.5 215.7 L930.5 215.7 L928.5 216.2 L926.5 216.7 L924.5 217.2 L922.5 217.7 L920.5 218.2 L918.5 218.7 L916.5 218.7 L914.5 219.2 L912.5 219.7 L910.5 220.2 L908.5 220.7 L906.5 221.2 L904.5 221.4 L902.5 221.7 L900.5 222.2 L898.5 222.7 L897.2 221.0 L896.7 219.0 L895.6 217.0 L894.8 215.0 L893.8 213.0 L892.9 211.0 L891.8 209.0 L890.5 207.0 L889.1 205.0 L887.7 203.0 L886.5 201.3 L887.0 199.0 L889.5 197.0 L891.5 195.0 L893.5 193.0 L895.5 191.5 L897.0 190.0 L898.5 188.5 L900.5 187.0 L902.5 185.0 L904.5 183.0 L906.5 181.5 L908.0 180.0 L910.5 178.0 L912.5 176.0 L914.5 174.0 L916.5 172.0 L918.5 170.5 L920.5 169.0 L922.5 167.0 L924.5 165.0 L926.5 163.0 L928.5 161.5 L930.0 160.0 L932.5 158.0 L934.5 156.0 L936.5 154.0 L938.5 152.5 L940.0 151.0 L942.5 149.0 L944.5 147.0"/>
</g>
<path clip-path="url(#cv)" d="M819.3 395.0L819.3 375.9 M819.3 355.3L819.3 166.4 M819.3 145.8L819.3 -3.0 M819.0 395.0L809.6 341.9 M804.5 313.3L774.2 141.1 M769.1 112.5L749.8 3.1 M818.6 395.1L790.1 316.8 M780.2 289.5L724.9 137.7 M715.0 110.4L682.5 21.1 M818.3 395.3L766.8 306.1 M752.3 280.9L681.3 158.0 M666.8 132.8L619.3 50.6 M810.3 386.3L763.6 330.6 M744.9 308.4L662.7 210.3 M644.0 188.1L562.2 90.6 M808.6 388.0L772.5 357.7 M750.2 339.0L664.2 266.9 M642.0 248.2L512.9 139.9 M807.2 390.0L778.5 373.4 M753.4 358.9L661.7 306.0 M636.6 291.5L472.9 197.0 M806.1 392.2L782.4 383.6 M755.2 373.7L660.4 339.2 M633.1 329.2L443.4 260.2 M806.1 401.8L785.5 409.3 M753.6 420.9L665.7 452.9 M633.7 464.5L443.4 533.8 M807.2 404.0L782.2 418.4 M752.8 435.4L666.7 485.1 M637.3 502.1L472.9 597.0 M808.6 406.0L780.1 429.9 M754.1 451.7L669.5 522.7 M643.4 544.6L512.9 654.1 M810.3 407.7L776.1 448.5 M754.2 474.5L675.5 568.3 M653.7 594.4L562.2 703.4 M818.3 398.7L773.2 476.8 M756.2 506.2L684.1 631.2 M667.1 660.7L619.3 743.4 M818.6 398.9L790.6 475.9 M778.9 507.9L725.0 656.0 M713.4 687.9L682.5 772.9 M819.0 399.0L813.2 431.5 M807.3 465.0L777.9 631.6 M772.0 665.1L749.8 790.9 M819.3 399.0L819.3 548.7 M819.3 574.3L819.3 797.0 M819.6 399.0L841.5 523.0 M846.0 548.3L888.8 790.9 M820.0 398.9L855.5 496.5 M864.3 520.7L956.1 772.9 M820.3 398.7L864.0 474.4 M876.8 496.6L1019.3 743.4 M820.6 398.5L870.3 457.8 M886.8 477.5L1076.4 703.4 M820.8 398.3L875.7 444.3 M895.4 460.8L1125.7 654.1 M821.0 398.0L876.8 430.2 M899.0 443.0L1165.7 597.0 M821.2 397.7L876.0 417.6 M900.1 426.4L1195.2 533.8 M821.3 397.3L873.5 406.6 M898.8 411.0L1213.2 466.5 M821.3 397.0L882.3 397.0 M894.7 397.0L1219.3 397.0 M821.3 396.7L879.4 386.4 M899.8 382.8L1213.2 327.5 M821.2 396.3L878.7 375.4 M898.1 368.3L1195.2 260.2 M821.0 396.0L878.4 362.9 M896.3 352.6L1165.7 197.0 M820.8 395.7L877.0 348.6 M892.8 335.3L1125.7 139.9 M820.6 395.5L873.9 331.9 M887.2 316.1L1076.4 90.6 M820.3 395.3L871.1 307.3 M881.4 289.4L1019.3 50.6 M820.0 395.1L863.0 277.0 M870.1 257.5L956.1 21.1 M819.6 395.0L844.8 252.5 M848.4 232.1L888.8 3.1" stroke="#000" stroke-width="0.9" fill="none"/>
<g font-family="&quot;Liberation Sans&quot;, sans-serif" font-size="15" fill="#000" text-anchor="middle">
<text transform="translate(819.3 365.6) rotate(-90.0)" y="5.4">90</text>
<text transform="translate(819.3 156.1) rotate(-90.0)" y="5.4">90</text>
<text transform="translate(807.1 327.6) rotate(72.2)" y="5.4">100</text>
<text transform="translate(771.7 126.8) rotate(72.2)" y="5.4">100</text>
<text transform="translate(785.2 303.2) rotate(56.5)" y="5.4">110</text>
<text transform="translate(719.9 124.0) rotate(56.5)" y="5.4">110</text>
<text transform="translate(759.6 293.5) rotate(43.6)" y="5.4">120</text>
<text transform="translate(674.0 145.4) rotate(43.6)" y="5.4">120</text>
<text transform="translate(754.2 319.5) rotate(33.2)" y="5.4">130</text>
<text transform="translate(653.3 199.2) rotate(33.2)" y="5.4">130</text>
<text transform="translate(761.4 348.4) rotate(24.8)" y="5.4">140</text>
<text transform="translate(653.1 257.6) rotate(24.8)" y="5.4">140</text>
<text transform="translate(765.9 366.2) rotate(17.6)" y="5.4">150</text>
<text transform="translate(649.2 298.8) rotate(17.6)" y="5.4">150</text>
<text transform="translate(768.8 378.6) rotate(11.3)" y="5.4">160</text>
<text transform="translate(646.8 334.2) rotate(11.3)" y="5.4">160</text>
<text transform="translate(769.5 415.1) rotate(-11.3)" y="5.4">-160</text>
<text transform="translate(649.7 458.7) rotate(-11.3)" y="5.4">-160</text>
<text transform="translate(767.5 426.9) rotate(-17.6)" y="5.4">-150</text>
<text transform="translate(652.0 493.6) rotate(-17.6)" y="5.4">-150</text>
<text transform="translate(767.1 440.8) rotate(-24.8)" y="5.4">-140</text>
<text transform="translate(656.4 533.7) rotate(-24.8)" y="5.4">-140</text>
<text transform="translate(765.2 461.5) rotate(-33.2)" y="5.4">-130</text>
<text transform="translate(664.6 581.4) rotate(-33.2)" y="5.4">-130</text>
<text transform="translate(764.7 491.5) rotate(-43.6)" y="5.4">-120</text>
<text transform="translate(675.6 645.9) rotate(-43.6)" y="5.4">-120</text>
<text transform="translate(784.8 491.9) rotate(-56.5)" y="5.4">-110</text>
<text transform="translate(719.2 672.0) rotate(-56.5)" y="5.4">-110</text>
<text transform="translate(810.3 448.3) rotate(-72.2)" y="5.4">-100</text>
<text transform="translate(775.0 648.3) rotate(-72.2)" y="5.4">-100</text>
<text transform="translate(819.3 561.5) rotate(90.0)" y="5.4">-90</text>
<text transform="translate(843.8 535.7) rotate(72.2)" y="5.4">-80</text>
<text transform="translate(859.9 508.6) rotate(56.5)" y="5.4">-70</text>
<text transform="translate(870.4 485.5) rotate(43.6)" y="5.4">-60</text>
<text transform="translate(878.6 467.6) rotate(33.2)" y="5.4">-50</text>
<text transform="translate(885.5 452.6) rotate(24.8)" y="5.4">-40</text>
<text transform="translate(887.9 436.6) rotate(17.6)" y="5.4">-30</text>
<text transform="translate(888.1 422.0) rotate(11.3)" y="5.4">-20</text>
<text transform="translate(886.2 408.8) rotate(5.5)" y="5.4">-10</text>
<text transform="translate(888.5 397.0) rotate(0.0)" y="5.4">0</text>
<text transform="translate(889.6 384.6) rotate(-5.5)" y="5.4">10</text>
<text transform="translate(888.4 371.9) rotate(-11.3)" y="5.4">20</text>
<text transform="translate(887.3 357.7) rotate(-17.6)" y="5.4">30</text>
<text transform="translate(884.9 342.0) rotate(-24.8)" y="5.4">40</text>
<text transform="translate(880.5 324.0) rotate(-33.2)" y="5.4">50</text>
<text transform="translate(876.3 298.4) rotate(-43.6)" y="5.4">60</text>
<text transform="translate(866.5 267.2) rotate(-56.5)" y="5.4">70</text>
<text transform="translate(846.6 242.3) rotate(-72.2)" y="5.4">80</text>
</g>
<rect x="101.7" y="50.8" width="339.35" height="758.9100000000001" fill="none" stroke="#000" stroke-width="3"/><path d="M132.6 809.71 V801.71 M132.6 50.8 V58.8 M194.2 809.71 V801.71 M194.2 50.8 V58.8 M255.9 809.71 V801.71 M255.9 50.8 V58.8 M317.7 809.71 V801.71 M317.7 50.8 V58.8 M379.4 809.71 V801.71 M379.4 50.8 V58.8 M101.7 698.6 H109.7 M441.05 698.6 H433.05 M101.7 575.2 H109.7 M441.05 575.2 H433.05 M101.7 451.9 H109.7 M441.05 451.9 H433.05 M101.7 328.5 H109.7 M441.05 328.5 H433.05 M101.7 205.1 H109.7 M441.05 205.1 H433.05 M101.7 81.7 H109.7 M441.05 81.7 H433.05" stroke="#000" stroke-width="3" fill="none"/><g font-family="&quot;Liberation Serif&quot;, serif" font-size="33" fill="#000" stroke="#fff" stroke-width="0.4"><text x="132.6" y="844.5" text-anchor="middle">5</text><text x="194.2" y="844.5" text-anchor="middle">6</text><text x="255.9" y="844.5" text-anchor="middle">7</text><text x="317.7" y="844.5" text-anchor="middle">8</text><text x="379.4" y="844.5" text-anchor="middle">9</text><text x="441.1" y="844.5" text-anchor="middle">10</text><text x="89.2" y="710.4" text-anchor="end">4</text><text x="89.2" y="587.0" text-anchor="end">2</text><text x="89.2" y="463.7" text-anchor="end">0</text><text x="89.2" y="340.3" text-anchor="end">2</text><text x="89.2" y="216.9" text-anchor="end">4</text><text x="89.2" y="93.5" text-anchor="end">6</text></g><rect x="45.1" y="699.9" width="22.2" height="1.7" fill="#000"/><rect x="45.1" y="576.5" width="22.2" height="1.7" fill="#000"/>
<rect x="601.2" y="50.8" width="339.3499999999999" height="758.9100000000001" fill="none" stroke="#000" stroke-width="3"/><path d="M632.0 809.71 V801.71 M632.0 50.8 V58.8 M693.8 809.71 V801.71 M693.8 50.8 V58.8 M755.5 809.71 V801.71 M755.5 50.8 V58.8 M817.2 809.71 V801.71 M817.2 50.8 V58.8 M878.9 809.71 V801.71 M878.9 50.8 V58.8 M601.2 698.6 H609.2 M940.55 698.6 H932.55 M601.2 575.2 H609.2 M940.55 575.2 H932.55 M601.2 451.9 H609.2 M940.55 451.9 H932.55 M601.2 328.5 H609.2 M940.55 328.5 H932.55 M601.2 205.1 H609.2 M940.55 205.1 H932.55 M601.2 81.7 H609.2 M940.55 81.7 H932.55" stroke="#000" stroke-width="3" fill="none"/><g font-family="&quot;Liberation Serif&quot;, serif" font-size="33" fill="#000" stroke="#fff" stroke-width="0.4"><text x="632.0" y="847.3" text-anchor="middle">5</text><text x="693.8" y="847.3" text-anchor="middle">6</text><text x="755.5" y="847.3" text-anchor="middle">7</text><text x="817.2" y="847.3" text-anchor="middle">8</text><text x="878.9" y="847.3" text-anchor="middle">9</text><text x="935.5" y="847.3" text-anchor="middle">10</text><text x="585.5" y="712.5" text-anchor="end">4</text><text x="585.5" y="589.1" text-anchor="end">2</text><text x="585.5" y="465.8" text-anchor="end">0</text><text x="585.5" y="342.4" text-anchor="end">2</text><text x="585.5" y="219.0" text-anchor="end">4</text><text x="585.5" y="95.5" text-anchor="end">6</text></g><rect x="541.4" y="702.0" width="22.2" height="1.7" fill="#000"/><rect x="541.4" y="578.6" width="22.2" height="1.7" fill="#000"/>
<g font-family="&quot;Liberation Serif&quot;, serif" font-size="33" fill="#000" stroke="#fff" stroke-width="0.4">
<text x="78.4" y="28.3" textLength="374" lengthAdjust="spacingAndGlyphs">Ripple on CFETR (%)</text>
<text x="368.2" y="103.2" font-size="36" textLength="42.4" lengthAdjust="spacingAndGlyphs">(a)</text>
<text x="867.9" y="103.4" font-size="36" textLength="43.9" lengthAdjust="spacingAndGlyphs">(b)</text>
<text x="224.5" y="886" font-style="italic" textLength="26" lengthAdjust="spacingAndGlyphs">R</text>
<text x="266.8" y="886" font-size="35" textLength="55" lengthAdjust="spacingAndGlyphs">(m)</text>
<text transform="translate(28 443) rotate(-90)" font-style="italic" textLength="24.5" lengthAdjust="spacingAndGlyphs">Z</text>
<text transform="translate(28.5 403.5) rotate(-90)" font-size="35" textLength="55.5" lengthAdjust="spacingAndGlyphs">(m)</text>
<text x="719.8" y="889.5" font-style="italic" textLength="26" lengthAdjust="spacingAndGlyphs">R</text>
<text x="762.1" y="889.5" font-size="35" textLength="55" lengthAdjust="spacingAndGlyphs">(m)</text>
<text transform="translate(521.2 445.4) rotate(-90)" font-style="italic" textLength="24.5" lengthAdjust="spacingAndGlyphs">Z</text>
<text transform="translate(521.7 405.9) rotate(-90)" font-size="35" textLength="55.5" lengthAdjust="spacingAndGlyphs">(m)</text>
</g>
</svg></body></html>
